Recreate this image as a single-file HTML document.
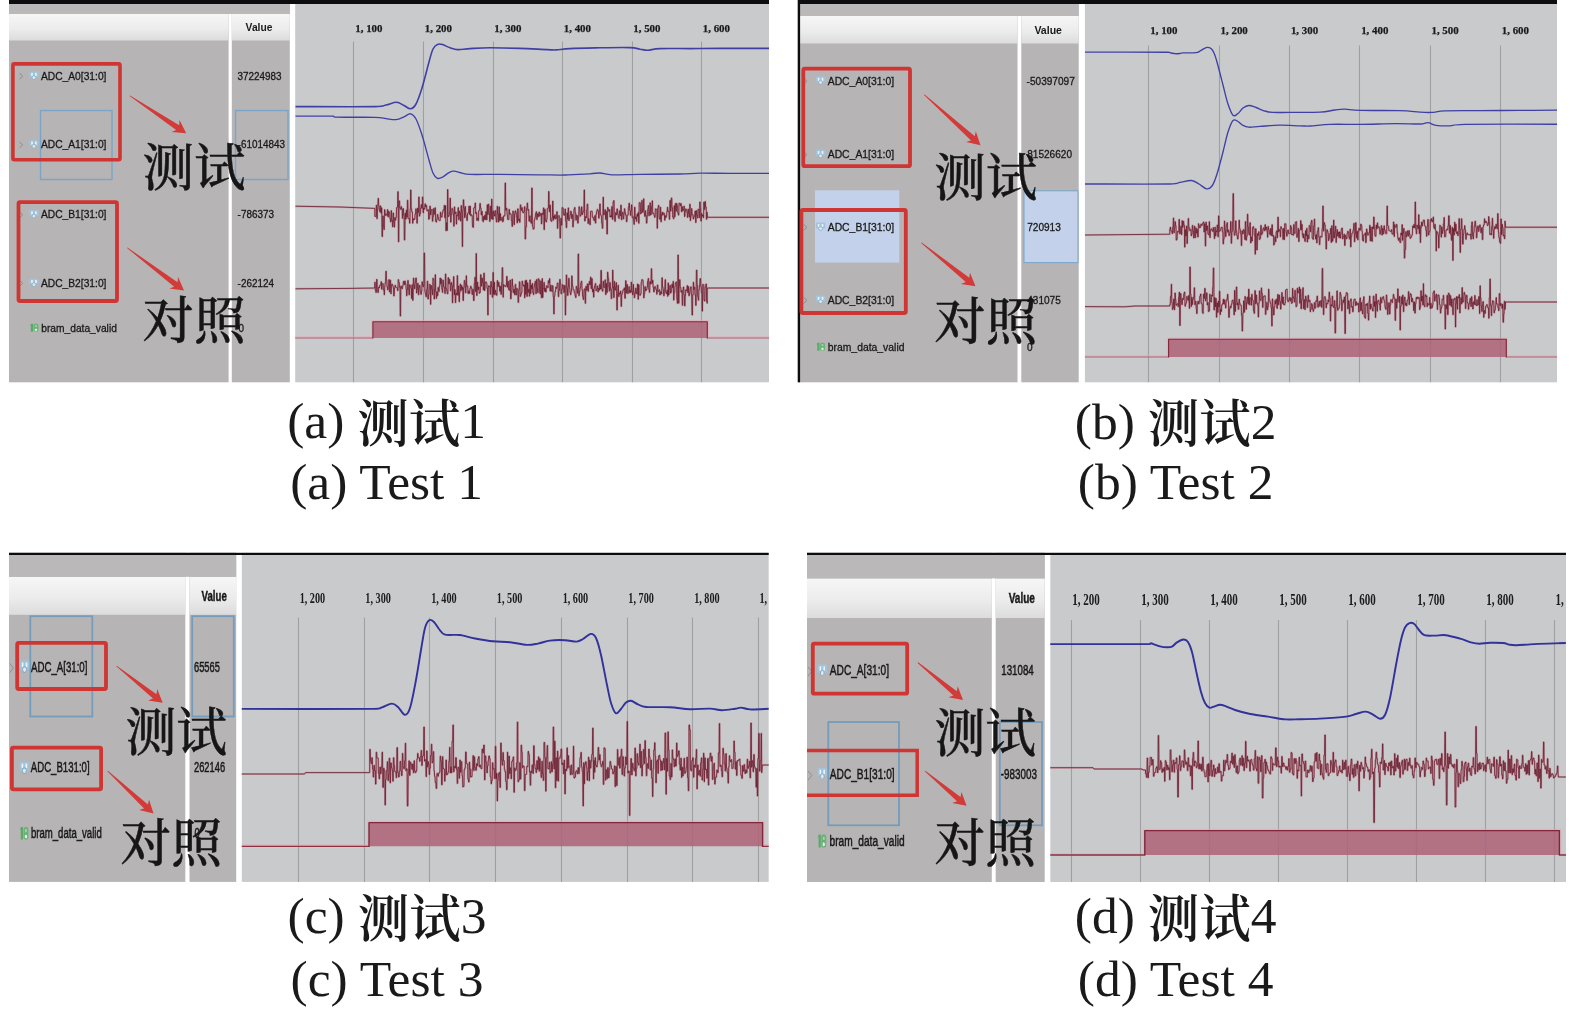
<!DOCTYPE html>
<html lang="zh"><head><meta charset="utf-8"><title>ADC waveform tests</title>
<style>html,body{margin:0;padding:0;background:#fff;}body{width:1575px;height:1013px;overflow:hidden;}svg{display:block;}</style>
</head><body>
<svg width="1575" height="1013" viewBox="0 0 1575 1013">
<defs><linearGradient id="hg" x1="0" y1="0" x2="0" y2="1"><stop offset="0" stop-color="#f6f6f6"/><stop offset="0.55" stop-color="#ececec"/><stop offset="1" stop-color="#dcdcdc"/></linearGradient><filter id="bl" x="-5%" y="-5%" width="110%" height="110%"><feGaussianBlur stdDeviation="0.45"/></filter><filter id="bl2" x="-5%" y="-5%" width="110%" height="110%"><feGaussianBlur stdDeviation="0.3"/></filter></defs>
<rect width="1575" height="1013" fill="#ffffff"/>
<rect x="9" y="0" width="219.6" height="382.3" fill="#b6b4b5"/>
<rect x="231.8" y="0" width="58" height="382.3" fill="#b6b4b5"/>
<rect x="295.2" y="0" width="473.8" height="382.3" fill="#c9cacc"/>
<rect x="9" y="14" width="219.6" height="26.5" fill="url(#hg)"/>
<rect x="231.8" y="14" width="58" height="26.5" fill="url(#hg)"/>
<rect x="9" y="0" width="280.8" height="14" fill="#bab8b9"/>
<rect x="9" y="0" width="760" height="4" fill="#0d0d0f"/>
<line x1="353.5" y1="41.5" x2="353.5" y2="382.3" stroke="#a0a0a3" stroke-width="1.1"/>
<line x1="423.5" y1="41.5" x2="423.5" y2="382.3" stroke="#a0a0a3" stroke-width="1.1"/>
<line x1="493.5" y1="41.5" x2="493.5" y2="382.3" stroke="#a0a0a3" stroke-width="1.1"/>
<line x1="562.5" y1="41.5" x2="562.5" y2="382.3" stroke="#a0a0a3" stroke-width="1.1"/>
<line x1="632.5" y1="41.5" x2="632.5" y2="382.3" stroke="#a0a0a3" stroke-width="1.1"/>
<line x1="701.5" y1="41.5" x2="701.5" y2="382.3" stroke="#a0a0a3" stroke-width="1.1"/>
<g filter="url(#bl)">
<text x="0" y="0" font-family='"Liberation Sans", sans-serif' font-size="10.7" font-weight="bold" fill="#1a1a1a" text-anchor="middle" transform="translate(259 30.8) scale(0.96 1)">Value</text>
<text x="368.9" y="31.6" font-family='"Liberation Serif", "Noto Serif CJK SC", serif' font-size="10.9" font-weight="bold" fill="#1a1a1a" text-anchor="middle" stroke="#1a1a1a" stroke-width="0.25">1, 100</text>
<text x="438.4" y="31.6" font-family='"Liberation Serif", "Noto Serif CJK SC", serif' font-size="10.9" font-weight="bold" fill="#1a1a1a" text-anchor="middle" stroke="#1a1a1a" stroke-width="0.25">1, 200</text>
<text x="507.9" y="31.6" font-family='"Liberation Serif", "Noto Serif CJK SC", serif' font-size="10.9" font-weight="bold" fill="#1a1a1a" text-anchor="middle" stroke="#1a1a1a" stroke-width="0.25">1, 300</text>
<text x="577.4" y="31.6" font-family='"Liberation Serif", "Noto Serif CJK SC", serif' font-size="10.9" font-weight="bold" fill="#1a1a1a" text-anchor="middle" stroke="#1a1a1a" stroke-width="0.25">1, 400</text>
<text x="646.9" y="31.6" font-family='"Liberation Serif", "Noto Serif CJK SC", serif' font-size="10.9" font-weight="bold" fill="#1a1a1a" text-anchor="middle" stroke="#1a1a1a" stroke-width="0.25">1, 500</text>
<text x="716.4" y="31.6" font-family='"Liberation Serif", "Noto Serif CJK SC", serif' font-size="10.9" font-weight="bold" fill="#1a1a1a" text-anchor="middle" stroke="#1a1a1a" stroke-width="0.25">1, 600</text>
<rect x="40.5" y="110.5" width="71.5" height="69" fill="none" stroke="#79a6c8" stroke-width="1.4"/>
<rect x="235.5" y="110.5" width="52.5" height="69" fill="none" stroke="#79a6c8" stroke-width="1.4"/>
<path d="M19.4 73.2l3.4 3l-3.4 3" fill="none" stroke="#8f8d8e" stroke-width="1"/>
<g transform="translate(29.2 75.6) scale(1.0 1.0)"><rect x="0" y="-4" width="9.5" height="5.8" rx="1" fill="#a2c4db"/><rect x="2" y="-2.7" width="1.6" height="3" fill="#edf3f7"/><rect x="5.9" y="-2.7" width="1.6" height="3" fill="#edf3f7"/><circle cx="4.75" cy="2" r="1.9" fill="#dde8f0" stroke="#7fa9c4" stroke-width="0.7"/></g>
<text x="0" y="0" font-family='"Liberation Sans", sans-serif' font-size="11.2" font-weight="normal" fill="#1a1a1a" text-anchor="start" transform="translate(41 79.6) scale(0.915 1)" stroke="#1a1a1a" stroke-width="0.3">ADC_A0[31:0]</text>
<text x="0" y="0" font-family='"Liberation Sans", sans-serif' font-size="11" font-weight="normal" fill="#1a1a1a" text-anchor="start" transform="translate(237.6 79.6) scale(0.9 1)" stroke="#1a1a1a" stroke-width="0.3">37224983</text>
<path d="M19.4 141.9l3.4 3l-3.4 3" fill="none" stroke="#8f8d8e" stroke-width="1"/>
<g transform="translate(29.2 144.3) scale(1.0 1.0)"><rect x="0" y="-4" width="9.5" height="5.8" rx="1" fill="#a2c4db"/><rect x="2" y="-2.7" width="1.6" height="3" fill="#edf3f7"/><rect x="5.9" y="-2.7" width="1.6" height="3" fill="#edf3f7"/><circle cx="4.75" cy="2" r="1.9" fill="#dde8f0" stroke="#7fa9c4" stroke-width="0.7"/></g>
<text x="0" y="0" font-family='"Liberation Sans", sans-serif' font-size="11.2" font-weight="normal" fill="#1a1a1a" text-anchor="start" transform="translate(41 148.3) scale(0.915 1)" stroke="#1a1a1a" stroke-width="0.3">ADC_A1[31:0]</text>
<text x="0" y="0" font-family='"Liberation Sans", sans-serif' font-size="11" font-weight="normal" fill="#1a1a1a" text-anchor="start" transform="translate(237.6 148.3) scale(0.9 1)" stroke="#1a1a1a" stroke-width="0.3">-61014843</text>
<path d="M19.4 211.7l3.4 3l-3.4 3" fill="none" stroke="#8f8d8e" stroke-width="1"/>
<g transform="translate(29.2 214.1) scale(1.0 1.0)"><rect x="0" y="-4" width="9.5" height="5.8" rx="1" fill="#a2c4db"/><rect x="2" y="-2.7" width="1.6" height="3" fill="#edf3f7"/><rect x="5.9" y="-2.7" width="1.6" height="3" fill="#edf3f7"/><circle cx="4.75" cy="2" r="1.9" fill="#dde8f0" stroke="#7fa9c4" stroke-width="0.7"/></g>
<text x="0" y="0" font-family='"Liberation Sans", sans-serif' font-size="11.2" font-weight="normal" fill="#1a1a1a" text-anchor="start" transform="translate(41 218.1) scale(0.915 1)" stroke="#1a1a1a" stroke-width="0.3">ADC_B1[31:0]</text>
<text x="0" y="0" font-family='"Liberation Sans", sans-serif' font-size="11" font-weight="normal" fill="#1a1a1a" text-anchor="start" transform="translate(237.6 218.1) scale(0.9 1)" stroke="#1a1a1a" stroke-width="0.3">-786373</text>
<path d="M19.4 280.3l3.4 3l-3.4 3" fill="none" stroke="#8f8d8e" stroke-width="1"/>
<g transform="translate(29.2 282.7) scale(1.0 1.0)"><rect x="0" y="-4" width="9.5" height="5.8" rx="1" fill="#a2c4db"/><rect x="2" y="-2.7" width="1.6" height="3" fill="#edf3f7"/><rect x="5.9" y="-2.7" width="1.6" height="3" fill="#edf3f7"/><circle cx="4.75" cy="2" r="1.9" fill="#dde8f0" stroke="#7fa9c4" stroke-width="0.7"/></g>
<text x="0" y="0" font-family='"Liberation Sans", sans-serif' font-size="11.2" font-weight="normal" fill="#1a1a1a" text-anchor="start" transform="translate(41 286.7) scale(0.915 1)" stroke="#1a1a1a" stroke-width="0.3">ADC_B2[31:0]</text>
<text x="0" y="0" font-family='"Liberation Sans", sans-serif' font-size="11" font-weight="normal" fill="#1a1a1a" text-anchor="start" transform="translate(237.6 286.7) scale(0.9 1)" stroke="#1a1a1a" stroke-width="0.3">-262124</text>
<g transform="translate(30 327.8) scale(1.0 1.0)"><path d="M0 -2.4L1 -4H3V4H0.8V-2.2Z" fill="#5aa969"/><rect x="3.5" y="-4" width="5" height="8" rx="1.7" fill="#6ab377"/><rect x="5.1" y="-2.7" width="1.8" height="2" rx="0.6" fill="#a5d3ad"/><circle cx="6" cy="2.1" r="1.55" fill="#e6f1e7" stroke="#5aa969" stroke-width="0.55"/></g>
<text x="0" y="0" font-family='"Liberation Sans", sans-serif' font-size="11.2" font-weight="normal" fill="#1a1a1a" text-anchor="start" transform="translate(41.2 332.1) scale(0.915 1)" stroke="#1a1a1a" stroke-width="0.3">bram_data_valid</text>
<text x="0" y="0" font-family='"Liberation Sans", sans-serif' font-size="11" font-weight="normal" fill="#1a1a1a" text-anchor="start" transform="translate(238.5 331.9) scale(0.9 1)" stroke="#1a1a1a" stroke-width="0.3">0</text>
</g>
<g fill="none" stroke-linejoin="round" filter="url(#bl2)">
<path d="M295.5 106.6C308.7 106.6 359.7 106.9 374.8 106.6C386 106.3 382.4 105.7 386 105C389.6 104.3 393.5 102.1 396.5 102.2C399.5 102.3 401.7 104.4 404 105.5C406.3 106.6 408.5 109 410.5 108.8C412.5 108.5 414.1 107.5 416 104C417.9 100.5 419.8 95 422 88C424.2 81 427.2 68.5 429 62C430.8 55.5 431.6 51.9 433 49C434.4 46.1 435.8 45.1 437.4 44.4C439 43.7 440.4 44 442.5 44.6C444.6 45.2 447.5 47 450 47.8C452.5 48.6 454.4 49.5 457.7 49.6C461 49.7 464.6 48.9 470 48.6C475.4 48.3 481.7 47.8 490 47.8C498.3 47.8 510.3 48.1 520 48.4C529.7 48.7 542 49.4 548 49.6C554 49.9 552.3 50.1 556 49.9C559.7 49.7 562.7 49 570 48.6C577.3 48.2 590 48 600 47.8C610 47.6 623.3 47.4 630 47.6C636.7 47.8 637 48.8 640 49.2C643 49.6 644.7 50.3 648 50.2C651.3 50.1 653 48.9 660 48.6C667 48.3 680 48.6 690 48.6C700 48.6 706.8 48.4 720 48.4C733.2 48.4 760.8 48.4 769 48.4" stroke="#4040a4" stroke-width="1.6"/>
<path d="M295.5 116.1C301.8 116.1 326.4 116 333 116.2C335 116.4 333 117 335 117.2C342 117.4 366.3 117.1 374.8 117.3C383.3 117.5 382.5 118.2 386 118.6C389.5 119 393 119.9 396 119.6C399 119.3 401.6 117.8 404 116.8C406.4 115.8 408.5 113.4 410.5 113.8C412.5 114.2 414.1 115.5 416 119C417.9 122.5 419.8 128.2 422 135C424.2 141.8 427.2 153.7 429 160C430.8 166.3 431.6 169.9 433 173C434.4 176.1 435.8 177.6 437.4 178.3C439 179 440.6 178.1 442.5 177.2C444.4 176.2 447.1 173.6 449 172.6C450.9 171.6 451.8 171.1 454 171.2C456.2 171.3 459.3 172.7 462 173.2C464.7 173.7 463.7 174.2 470 174.4C476.3 174.6 488.3 174.3 500 174.4C511.7 174.5 529.2 174.7 540 174.8C550.8 174.9 556.7 175.2 565 175C573.3 174.8 584.2 174.1 590 173.8C595.8 173.5 596.3 172.8 600 173C603.7 173.2 605.3 174.6 612 174.8C618.7 175 628.7 174.5 640 174.4C651.3 174.3 670 174.2 680 174C690 173.8 691.7 173.3 700 173.2C708.3 173.1 718.5 173.4 730 173.4C741.5 173.4 762.5 173.4 769 173.4" stroke="#4040a4" stroke-width="1.35"/>
<path d="M295.5 206.2L340 207L374.8 208.4L374.8 216.4H375.3L375.5 216.4H376.1L376.3 205.1H376.7L376.9 218.7H377.2L377.4 209.5H377.8L378.1 198.4H378.5L378.7 205.6H379.1L379.3 209.8H379.6L379.8 211.8H380.1L380.3 205.9H380.7L381 213.2H381.3L381.5 207.8H381.8L382 236.5H382.5L382.8 215.9H383.2L383.4 226H383.7L383.9 229.6H384.3L384.5 209.7H384.9L385.2 215.4H385.6L385.8 214.1H386.2L386.4 214.2H386.7L386.9 215.5H387.2L387.4 209.7H387.8L388 216.9H388.3L388.5 211.4H389L389.2 212.2H389.6L389.9 218.5H390.3L390.5 221.9H391L391.2 210.6H391.5L391.8 220.7H392.3L392.5 226.8H392.9L393.1 213H393.5L393.7 222H394L394.3 227.1H394.6L394.8 217.6H395.1L395.3 220.3H395.7L395.9 217.4H396.3L396.6 207.8H397L397.2 207H397.6L397.8 191.7H398.2L398.4 241.8H398.8L399 200.9H399.6L399.8 207.6H400.1L400.3 209.3H400.8L401.1 206.6H401.5L401.7 209.3H402.2L402.4 218.4H402.7L402.9 208.6H403.5L403.7 215.3H404.1L404.3 240H404.8L405.1 213.1H405.5L405.7 219.1H406.1L406.3 210.1H406.7L406.9 217.1H407.2L407.4 200.3H407.8L408.1 218.6H408.6L408.8 218.5H409.3L409.6 223.2H409.9L410.1 209.2H410.4L410.6 190H411L411.2 208.7H411.6L411.8 212H412.4L412.6 223.3H412.9L413.1 218.7H413.5L413.7 220H414L414.3 219.1H414.8L415 214.3H415.5L415.8 208.8H416.2L416.4 212.6H416.7L416.9 223.2H417.3L417.5 208.2H417.8L418 212.6H418.6L418.8 196.9H419.1L419.3 216.1H419.7L419.9 213.6H420.5L420.7 208.1H421L421.2 204.6H421.6L421.8 208.3H422.2L422.4 197H422.8L423.1 212.7H423.5L423.7 208H424L424.2 209.1H424.7L425 203.8H425.3L425.5 206.9H426L426.2 205.4H426.6L426.8 210.8H427.4L427.6 209.9H427.9L428.1 209.6H428.4L428.6 219.3H429L429.3 218.5H429.6L429.8 206.2H430.3L430.5 214.8H430.9L431.2 209.8H431.6L431.8 209.4H432.2L432.4 221.2H432.8L433 216.4H433.4L433.6 208.5H434L434.3 214.3H434.8L435 207.8H435.4L435.6 221.1H435.9L436.1 222.1H436.5L436.8 219H437.2L437.4 214.4H437.8L438 217.4H438.4L438.6 219.6H438.9L439.2 220.6H439.7L439.9 220.4H440.2L440.4 212.3H440.8L441 217.1H441.4L441.6 217H442.1L442.3 212.9H442.7L442.9 210.5H443.3L443.6 209.6H444L444.2 205.4H444.6L444.8 217.8H445.1L445.3 205.7H445.6L445.9 230.7H446.3L446.5 222.7H446.8L447 230.4H447.3L447.5 189.6H447.9L448.1 216.6H448.7L448.9 215.1H449.3L449.5 212H449.8L450 198.2H450.4L450.7 222.2H451L451.2 214.7H451.7L451.9 208.4H452.3L452.5 209.6H452.9L453.2 214.3H453.6L453.8 226.2H454.1L454.3 206.9H454.7L454.9 213.7H455.3L455.6 212.2H456.1L456.3 224.1H456.6L456.8 215.4H457.1L457.4 216H457.8L458 207.7H458.5L458.7 219.7H459.1L459.3 211H459.6L459.9 213.2H460.3L460.5 221H460.9L461.1 205.6H461.5L461.7 211.8H462L462.3 246.5H462.6L462.8 210.2H463.1L463.3 199.8H463.7L463.9 208.1H464.3L464.5 217.6H464.9L465.1 206.5H465.5L465.7 214.8H466.1L466.3 217.3H466.7L466.9 220.5H467.3L467.6 213.3H468L468.2 212.6H468.7L468.9 206.1H469.2L469.4 214.4H469.8L470 206.2H470.4L470.6 215.7H471L471.2 214.7H471.6L471.8 215.6H472.2L472.5 226.9H472.9L473.1 227.3H473.5L473.7 208H474.1L474.3 207.7H474.8L475.1 203H475.5L475.7 213.6H476L476.2 212.5H476.6L476.8 220.4H477.1L477.3 218H477.9L478.1 220.6H478.5L478.7 210.8H479.1L479.3 210.2H479.6L479.9 203.4H480.3L480.5 208H481L481.2 214.9H481.5L481.8 211.4H482.2L482.4 220.3H482.8L483 221.7H483.4L483.6 216.3H483.9L484.1 219.6H484.4L484.7 215.3H485L485.2 219.6H485.6L485.8 211.6H486.3L486.6 219.8H487L487.2 204.8H487.6L487.8 214.5H488.1L488.3 204.2H488.8L489.1 213.2H489.4L489.6 221.4H490.1L490.3 206.2H490.7L491 218.9H491.4L491.6 199.1H491.9L492.1 211.5H492.4L492.6 219.4H493.2L493.4 210.9H493.8L494 214.1H494.3L494.5 216H494.9L495.1 210.7H495.7L495.9 218.2H496.2L496.4 222H496.9L497.2 206.3H497.5L497.7 214H498.2L498.4 222.1H498.7L499 206.9H499.4L499.6 220.7H500L500.2 213.6H500.5L500.7 220.1H501.1L501.3 220.2H501.7L502 217.2H502.3L502.5 221.8H502.9L503.1 221.1H503.4L503.6 215.9H504.2L504.4 216H504.9L505.1 183H505.5L505.7 210.3H506.3L506.5 208.2H506.9L507.1 214.6H507.4L507.6 219.4H508.2L508.4 219.5H508.8L509 209.4H509.4L509.6 214.2H510L510.2 213.6H510.6L510.9 214.6H511.2L511.4 220.5H511.8L512 226.4H512.5L512.8 211.2H513.2L513.4 212H513.8L514 224.7H514.4L514.6 214.4H515L515.2 210.8H515.6L515.9 212.7H516.2L516.4 216.9H516.8L517 222.9H517.5L517.7 208.8H518.1L518.4 220.6H518.9L519.1 219H519.5L519.7 222.3H520L520.3 204.9H520.8L521 210.4H521.5L521.7 207.7H522.3L522.5 211.9H522.9L523.1 212.9H523.5L523.7 211.7H524.2L524.5 206.7H524.9L525.1 239H525.6L525.8 226.9H526.4L526.6 208.5H527L527.2 203H527.6L527.8 210.3H528.2L528.4 209.5H528.7L529 221.2H529.5L529.7 215.8H530.1L530.3 221.4H530.9L531.1 223.3H531.5L531.7 188H532.2L532.4 226H532.8L533.1 229.2H533.4L533.6 228.8H534.1L534.3 220H534.7L534.9 217.6H535.3L535.5 213.9H535.9L536.1 211.8H536.6L536.8 219.6H537.1L537.4 213.8H537.8L538 216.8H538.3L538.5 214.1H538.9L539.1 212H539.4L539.7 216.2H540L540.2 215.1H540.6L540.8 213.4H541.2L541.4 223.9H541.8L542 213.2H542.4L542.7 214.6H543.2L543.4 207.9H543.8L544 229.6H544.4L544.6 209.3H545.2L545.4 220.9H545.8L546 221.9H546.5L546.8 218.6H547.1L547.3 208.5H547.7L547.9 208.2H548.4L548.6 191.5H549L549.3 211.7H549.7L549.9 205.1H550.4L550.6 220.2H551L551.3 221.4H551.8L552 217.5H552.4L552.6 201.1H553L553.2 220.2H553.5L553.8 216H554.1L554.3 218.4H554.6L554.8 214.8H555.2L555.4 218.9H556L556.2 217.8H556.6L556.8 211.7H557.2L557.4 228.3H557.8L558 215.9H558.6L558.8 215.7H559.2L559.4 221.4H559.8L560 238H560.5L560.8 218.2H561.3L561.5 225.2H561.9L562.1 207.6H562.7L562.9 208.3H563.2L563.4 214.2H563.8L564 215.4H564.3L564.6 213.6H564.9L565.1 209H565.4L565.6 220.7H566L566.2 227.6H566.7L567 212.8H567.4L567.6 219.2H568L568.2 207.9H568.6L568.8 220.6H569.2L569.4 218.3H569.8L570 215.2H570.3L570.5 211.4H570.8L571 211.5H571.4L571.7 218.5H572L572.2 214.6H572.6L572.8 226.9H573.2L573.4 220.9H573.8L574 209H574.4L574.7 207.5H575L575.2 213.1H575.7L575.9 220.2H576.3L576.5 215.1H576.9L577.1 215.9H577.5L577.7 223.1H578.2L578.4 217.7H578.7L579 206.7H579.3L579.5 208.6H579.9L580.1 216.1H580.6L580.9 214.6H581.3L581.5 206.9H581.9L582.1 214.5H582.6L582.8 212.6H583.1L583.4 211.2H583.9L584.1 190H584.5L584.7 221H585.1L585.4 216.6H585.9L586.1 217.7H586.5L586.7 209.8H587L587.2 204.2H587.8L588 223.6H588.3L588.5 218.5H589L589.3 221.9H589.7L589.9 224.7H590.3L590.5 211.4H590.9L591.1 211.2H591.5L591.7 211.1H592.1L592.4 217.3H592.8L593 217.2H593.3L593.5 219.7H593.8L594 220.6H594.6L594.8 215.7H595.2L595.4 223.1H595.8L596 214.1H596.4L596.6 211.8H596.9L597.2 209.4H597.7L597.9 211H598.4L598.7 218.2H599.1L599.3 211.1H599.6L599.8 203.9H600.2L600.4 214.4H600.9L601.2 216.1H601.5L601.7 223H602.1L602.3 228.3H602.8L603.1 197.1H603.4L603.6 214.8H604.1L604.3 214.3H604.6L604.9 209.7H605.4L605.6 219.4H605.9L606.1 211.5H606.6L606.9 234H607.4L607.6 207.4H608L608.2 209.2H608.5L608.8 211.4H609.2L609.4 209.6H609.8L610 217H610.4L610.6 215.7H610.9L611.1 217.1H611.5L611.8 206.6H612.2L612.4 219.4H612.9L613.1 201.9H613.4L613.7 200.6H614.1L614.3 216.9H614.6L614.8 221.3H615.3L615.5 212.7H616.1L616.3 214.9H616.7L616.9 208.9H617.4L617.7 213.9H618.1L618.3 217.3H618.7L618.9 218.5H619.2L619.4 210.8H619.9L620.2 215.8H620.6L620.8 205.1H621.2L621.4 219.8H621.8L622 214.1H622.3L622.6 212.2H623L623.2 218.9H623.7L623.9 214.3H624.2L624.4 208.7H624.8L625.1 212.6H625.5L625.7 215.2H626.2L626.4 221.6H627L627.2 215.3H627.6L627.8 214.9H628.2L628.4 207.2H628.8L629 203.2H629.4L629.7 210.3H630.2L630.4 215.4H630.8L631 210.4H631.3L631.5 204.9H631.9L632.2 217.5H632.7L632.9 216.7H633.2L633.4 220.6H633.7L634 224.4H634.3L634.5 207.3H635L635.2 218.9H635.5L635.8 216.8H636.2L636.4 221.4H636.8L637 214.2H637.4L637.6 216.3H637.9L638.1 212.5H638.5L638.7 223.3H639L639.2 202.6H639.6L639.8 202.7H640.3L640.6 213.9H640.9L641.1 212.7H641.6L641.8 200.4H642.2L642.5 212.3H642.8L643 210H643.4L643.6 198.8H643.9L644.1 212.9H644.5L644.7 216.4H645.1L645.3 210.7H645.6L645.8 215.5H646.2L646.4 223.1H646.9L647.2 215.4H647.6L647.8 209.1H648.1L648.3 205.6H648.7L648.9 215.8H649.2L649.5 212H649.8L650 202.8H650.3L650.5 215.1H650.8L651 214.3H651.3L651.6 206.1H652L652.2 200.8H652.5L652.7 213.5H653.1L653.3 213.2H653.9L654.1 215.5H654.4L654.6 217.3H655.1L655.4 208.8H655.7L655.9 209.3H656.3L656.5 209.4H656.9L657.1 228.2H657.5L657.7 208.6H658.1L658.4 205.4H658.9L659.1 217.8H659.4L659.6 219.2H660.2L660.4 207.3H660.7L660.9 221.8H661.3L661.5 214.6H661.9L662.1 212.3H662.4L662.7 215.2H663.1L663.3 212.8H663.7L663.9 213.5H664.4L664.7 220.3H665L665.2 215.7H665.6L665.8 217.5H666.1L666.3 216.2H666.6L666.9 211.4H667.2L667.4 207.3H667.7L667.9 211.5H668.3L668.5 211.2H669L669.3 219.3H669.7L669.9 200.5H670.4L670.6 211.1H671L671.3 198H671.8L672 207.8H672.5L672.7 217.1H673.3L673.5 218.8H673.9L674.1 205.8H674.5L674.7 216.8H675L675.3 203.5H675.8L676 211.3H676.3L676.5 203.4H676.9L677.1 206.1H677.5L677.8 213H678.2L678.4 215.1H678.8L679 203.3H679.4L679.6 203.3H680L680.2 205.9H680.6L680.9 203.5H681.2L681.4 211.7H681.8L682 206.6H682.4L682.6 210.9H683L683.3 210H683.7L683.9 206.2H684.3L684.5 216.5H684.9L685.1 211.2H685.5L685.7 208.9H686.1L686.4 210.2H686.7L686.9 212.3H687.2L687.4 217.4H687.8L688 209.1H688.4L688.6 213.5H689L689.2 216.9H689.6L689.8 204.2H690.1L690.3 220.6H690.6L690.8 216.3H691.2L691.5 208.6H691.9L692.1 214.8H692.5L692.7 214.6H693L693.2 219H693.5L693.8 217.3H694.1L694.3 215.8H694.8L695 211H695.4L695.7 222.6H696L696.2 210.7H696.6L696.8 215.1H697.2L697.4 217.9H697.8L698 209.3H698.4L698.7 209.5H699L699.2 217.7H699.6L699.8 201.9H700.1L700.3 207.6H700.6L700.9 221.1H701.3L701.5 213.6H701.9L702.1 216.1H702.5L702.7 215H703L703.2 217.7H703.6L703.8 202.1H704.2L704.4 209.5H704.8L705 201.5H705.4L705.6 206.9H706.2L706.4 219.3H706.8L707 212.1 L707.3 217.3L769 217.3" stroke="#c27486" stroke-width="1.9" opacity="0.5"/>
<path d="M295.5 206.2L340 207L374.8 208.4L374.8 216.4H375.3L375.5 216.4H376.1L376.3 205.1H376.7L376.9 218.7H377.2L377.4 209.5H377.8L378.1 198.4H378.5L378.7 205.6H379.1L379.3 209.8H379.6L379.8 211.8H380.1L380.3 205.9H380.7L381 213.2H381.3L381.5 207.8H381.8L382 236.5H382.5L382.8 215.9H383.2L383.4 226H383.7L383.9 229.6H384.3L384.5 209.7H384.9L385.2 215.4H385.6L385.8 214.1H386.2L386.4 214.2H386.7L386.9 215.5H387.2L387.4 209.7H387.8L388 216.9H388.3L388.5 211.4H389L389.2 212.2H389.6L389.9 218.5H390.3L390.5 221.9H391L391.2 210.6H391.5L391.8 220.7H392.3L392.5 226.8H392.9L393.1 213H393.5L393.7 222H394L394.3 227.1H394.6L394.8 217.6H395.1L395.3 220.3H395.7L395.9 217.4H396.3L396.6 207.8H397L397.2 207H397.6L397.8 191.7H398.2L398.4 241.8H398.8L399 200.9H399.6L399.8 207.6H400.1L400.3 209.3H400.8L401.1 206.6H401.5L401.7 209.3H402.2L402.4 218.4H402.7L402.9 208.6H403.5L403.7 215.3H404.1L404.3 240H404.8L405.1 213.1H405.5L405.7 219.1H406.1L406.3 210.1H406.7L406.9 217.1H407.2L407.4 200.3H407.8L408.1 218.6H408.6L408.8 218.5H409.3L409.6 223.2H409.9L410.1 209.2H410.4L410.6 190H411L411.2 208.7H411.6L411.8 212H412.4L412.6 223.3H412.9L413.1 218.7H413.5L413.7 220H414L414.3 219.1H414.8L415 214.3H415.5L415.8 208.8H416.2L416.4 212.6H416.7L416.9 223.2H417.3L417.5 208.2H417.8L418 212.6H418.6L418.8 196.9H419.1L419.3 216.1H419.7L419.9 213.6H420.5L420.7 208.1H421L421.2 204.6H421.6L421.8 208.3H422.2L422.4 197H422.8L423.1 212.7H423.5L423.7 208H424L424.2 209.1H424.7L425 203.8H425.3L425.5 206.9H426L426.2 205.4H426.6L426.8 210.8H427.4L427.6 209.9H427.9L428.1 209.6H428.4L428.6 219.3H429L429.3 218.5H429.6L429.8 206.2H430.3L430.5 214.8H430.9L431.2 209.8H431.6L431.8 209.4H432.2L432.4 221.2H432.8L433 216.4H433.4L433.6 208.5H434L434.3 214.3H434.8L435 207.8H435.4L435.6 221.1H435.9L436.1 222.1H436.5L436.8 219H437.2L437.4 214.4H437.8L438 217.4H438.4L438.6 219.6H438.9L439.2 220.6H439.7L439.9 220.4H440.2L440.4 212.3H440.8L441 217.1H441.4L441.6 217H442.1L442.3 212.9H442.7L442.9 210.5H443.3L443.6 209.6H444L444.2 205.4H444.6L444.8 217.8H445.1L445.3 205.7H445.6L445.9 230.7H446.3L446.5 222.7H446.8L447 230.4H447.3L447.5 189.6H447.9L448.1 216.6H448.7L448.9 215.1H449.3L449.5 212H449.8L450 198.2H450.4L450.7 222.2H451L451.2 214.7H451.7L451.9 208.4H452.3L452.5 209.6H452.9L453.2 214.3H453.6L453.8 226.2H454.1L454.3 206.9H454.7L454.9 213.7H455.3L455.6 212.2H456.1L456.3 224.1H456.6L456.8 215.4H457.1L457.4 216H457.8L458 207.7H458.5L458.7 219.7H459.1L459.3 211H459.6L459.9 213.2H460.3L460.5 221H460.9L461.1 205.6H461.5L461.7 211.8H462L462.3 246.5H462.6L462.8 210.2H463.1L463.3 199.8H463.7L463.9 208.1H464.3L464.5 217.6H464.9L465.1 206.5H465.5L465.7 214.8H466.1L466.3 217.3H466.7L466.9 220.5H467.3L467.6 213.3H468L468.2 212.6H468.7L468.9 206.1H469.2L469.4 214.4H469.8L470 206.2H470.4L470.6 215.7H471L471.2 214.7H471.6L471.8 215.6H472.2L472.5 226.9H472.9L473.1 227.3H473.5L473.7 208H474.1L474.3 207.7H474.8L475.1 203H475.5L475.7 213.6H476L476.2 212.5H476.6L476.8 220.4H477.1L477.3 218H477.9L478.1 220.6H478.5L478.7 210.8H479.1L479.3 210.2H479.6L479.9 203.4H480.3L480.5 208H481L481.2 214.9H481.5L481.8 211.4H482.2L482.4 220.3H482.8L483 221.7H483.4L483.6 216.3H483.9L484.1 219.6H484.4L484.7 215.3H485L485.2 219.6H485.6L485.8 211.6H486.3L486.6 219.8H487L487.2 204.8H487.6L487.8 214.5H488.1L488.3 204.2H488.8L489.1 213.2H489.4L489.6 221.4H490.1L490.3 206.2H490.7L491 218.9H491.4L491.6 199.1H491.9L492.1 211.5H492.4L492.6 219.4H493.2L493.4 210.9H493.8L494 214.1H494.3L494.5 216H494.9L495.1 210.7H495.7L495.9 218.2H496.2L496.4 222H496.9L497.2 206.3H497.5L497.7 214H498.2L498.4 222.1H498.7L499 206.9H499.4L499.6 220.7H500L500.2 213.6H500.5L500.7 220.1H501.1L501.3 220.2H501.7L502 217.2H502.3L502.5 221.8H502.9L503.1 221.1H503.4L503.6 215.9H504.2L504.4 216H504.9L505.1 183H505.5L505.7 210.3H506.3L506.5 208.2H506.9L507.1 214.6H507.4L507.6 219.4H508.2L508.4 219.5H508.8L509 209.4H509.4L509.6 214.2H510L510.2 213.6H510.6L510.9 214.6H511.2L511.4 220.5H511.8L512 226.4H512.5L512.8 211.2H513.2L513.4 212H513.8L514 224.7H514.4L514.6 214.4H515L515.2 210.8H515.6L515.9 212.7H516.2L516.4 216.9H516.8L517 222.9H517.5L517.7 208.8H518.1L518.4 220.6H518.9L519.1 219H519.5L519.7 222.3H520L520.3 204.9H520.8L521 210.4H521.5L521.7 207.7H522.3L522.5 211.9H522.9L523.1 212.9H523.5L523.7 211.7H524.2L524.5 206.7H524.9L525.1 239H525.6L525.8 226.9H526.4L526.6 208.5H527L527.2 203H527.6L527.8 210.3H528.2L528.4 209.5H528.7L529 221.2H529.5L529.7 215.8H530.1L530.3 221.4H530.9L531.1 223.3H531.5L531.7 188H532.2L532.4 226H532.8L533.1 229.2H533.4L533.6 228.8H534.1L534.3 220H534.7L534.9 217.6H535.3L535.5 213.9H535.9L536.1 211.8H536.6L536.8 219.6H537.1L537.4 213.8H537.8L538 216.8H538.3L538.5 214.1H538.9L539.1 212H539.4L539.7 216.2H540L540.2 215.1H540.6L540.8 213.4H541.2L541.4 223.9H541.8L542 213.2H542.4L542.7 214.6H543.2L543.4 207.9H543.8L544 229.6H544.4L544.6 209.3H545.2L545.4 220.9H545.8L546 221.9H546.5L546.8 218.6H547.1L547.3 208.5H547.7L547.9 208.2H548.4L548.6 191.5H549L549.3 211.7H549.7L549.9 205.1H550.4L550.6 220.2H551L551.3 221.4H551.8L552 217.5H552.4L552.6 201.1H553L553.2 220.2H553.5L553.8 216H554.1L554.3 218.4H554.6L554.8 214.8H555.2L555.4 218.9H556L556.2 217.8H556.6L556.8 211.7H557.2L557.4 228.3H557.8L558 215.9H558.6L558.8 215.7H559.2L559.4 221.4H559.8L560 238H560.5L560.8 218.2H561.3L561.5 225.2H561.9L562.1 207.6H562.7L562.9 208.3H563.2L563.4 214.2H563.8L564 215.4H564.3L564.6 213.6H564.9L565.1 209H565.4L565.6 220.7H566L566.2 227.6H566.7L567 212.8H567.4L567.6 219.2H568L568.2 207.9H568.6L568.8 220.6H569.2L569.4 218.3H569.8L570 215.2H570.3L570.5 211.4H570.8L571 211.5H571.4L571.7 218.5H572L572.2 214.6H572.6L572.8 226.9H573.2L573.4 220.9H573.8L574 209H574.4L574.7 207.5H575L575.2 213.1H575.7L575.9 220.2H576.3L576.5 215.1H576.9L577.1 215.9H577.5L577.7 223.1H578.2L578.4 217.7H578.7L579 206.7H579.3L579.5 208.6H579.9L580.1 216.1H580.6L580.9 214.6H581.3L581.5 206.9H581.9L582.1 214.5H582.6L582.8 212.6H583.1L583.4 211.2H583.9L584.1 190H584.5L584.7 221H585.1L585.4 216.6H585.9L586.1 217.7H586.5L586.7 209.8H587L587.2 204.2H587.8L588 223.6H588.3L588.5 218.5H589L589.3 221.9H589.7L589.9 224.7H590.3L590.5 211.4H590.9L591.1 211.2H591.5L591.7 211.1H592.1L592.4 217.3H592.8L593 217.2H593.3L593.5 219.7H593.8L594 220.6H594.6L594.8 215.7H595.2L595.4 223.1H595.8L596 214.1H596.4L596.6 211.8H596.9L597.2 209.4H597.7L597.9 211H598.4L598.7 218.2H599.1L599.3 211.1H599.6L599.8 203.9H600.2L600.4 214.4H600.9L601.2 216.1H601.5L601.7 223H602.1L602.3 228.3H602.8L603.1 197.1H603.4L603.6 214.8H604.1L604.3 214.3H604.6L604.9 209.7H605.4L605.6 219.4H605.9L606.1 211.5H606.6L606.9 234H607.4L607.6 207.4H608L608.2 209.2H608.5L608.8 211.4H609.2L609.4 209.6H609.8L610 217H610.4L610.6 215.7H610.9L611.1 217.1H611.5L611.8 206.6H612.2L612.4 219.4H612.9L613.1 201.9H613.4L613.7 200.6H614.1L614.3 216.9H614.6L614.8 221.3H615.3L615.5 212.7H616.1L616.3 214.9H616.7L616.9 208.9H617.4L617.7 213.9H618.1L618.3 217.3H618.7L618.9 218.5H619.2L619.4 210.8H619.9L620.2 215.8H620.6L620.8 205.1H621.2L621.4 219.8H621.8L622 214.1H622.3L622.6 212.2H623L623.2 218.9H623.7L623.9 214.3H624.2L624.4 208.7H624.8L625.1 212.6H625.5L625.7 215.2H626.2L626.4 221.6H627L627.2 215.3H627.6L627.8 214.9H628.2L628.4 207.2H628.8L629 203.2H629.4L629.7 210.3H630.2L630.4 215.4H630.8L631 210.4H631.3L631.5 204.9H631.9L632.2 217.5H632.7L632.9 216.7H633.2L633.4 220.6H633.7L634 224.4H634.3L634.5 207.3H635L635.2 218.9H635.5L635.8 216.8H636.2L636.4 221.4H636.8L637 214.2H637.4L637.6 216.3H637.9L638.1 212.5H638.5L638.7 223.3H639L639.2 202.6H639.6L639.8 202.7H640.3L640.6 213.9H640.9L641.1 212.7H641.6L641.8 200.4H642.2L642.5 212.3H642.8L643 210H643.4L643.6 198.8H643.9L644.1 212.9H644.5L644.7 216.4H645.1L645.3 210.7H645.6L645.8 215.5H646.2L646.4 223.1H646.9L647.2 215.4H647.6L647.8 209.1H648.1L648.3 205.6H648.7L648.9 215.8H649.2L649.5 212H649.8L650 202.8H650.3L650.5 215.1H650.8L651 214.3H651.3L651.6 206.1H652L652.2 200.8H652.5L652.7 213.5H653.1L653.3 213.2H653.9L654.1 215.5H654.4L654.6 217.3H655.1L655.4 208.8H655.7L655.9 209.3H656.3L656.5 209.4H656.9L657.1 228.2H657.5L657.7 208.6H658.1L658.4 205.4H658.9L659.1 217.8H659.4L659.6 219.2H660.2L660.4 207.3H660.7L660.9 221.8H661.3L661.5 214.6H661.9L662.1 212.3H662.4L662.7 215.2H663.1L663.3 212.8H663.7L663.9 213.5H664.4L664.7 220.3H665L665.2 215.7H665.6L665.8 217.5H666.1L666.3 216.2H666.6L666.9 211.4H667.2L667.4 207.3H667.7L667.9 211.5H668.3L668.5 211.2H669L669.3 219.3H669.7L669.9 200.5H670.4L670.6 211.1H671L671.3 198H671.8L672 207.8H672.5L672.7 217.1H673.3L673.5 218.8H673.9L674.1 205.8H674.5L674.7 216.8H675L675.3 203.5H675.8L676 211.3H676.3L676.5 203.4H676.9L677.1 206.1H677.5L677.8 213H678.2L678.4 215.1H678.8L679 203.3H679.4L679.6 203.3H680L680.2 205.9H680.6L680.9 203.5H681.2L681.4 211.7H681.8L682 206.6H682.4L682.6 210.9H683L683.3 210H683.7L683.9 206.2H684.3L684.5 216.5H684.9L685.1 211.2H685.5L685.7 208.9H686.1L686.4 210.2H686.7L686.9 212.3H687.2L687.4 217.4H687.8L688 209.1H688.4L688.6 213.5H689L689.2 216.9H689.6L689.8 204.2H690.1L690.3 220.6H690.6L690.8 216.3H691.2L691.5 208.6H691.9L692.1 214.8H692.5L692.7 214.6H693L693.2 219H693.5L693.8 217.3H694.1L694.3 215.8H694.8L695 211H695.4L695.7 222.6H696L696.2 210.7H696.6L696.8 215.1H697.2L697.4 217.9H697.8L698 209.3H698.4L698.7 209.5H699L699.2 217.7H699.6L699.8 201.9H700.1L700.3 207.6H700.6L700.9 221.1H701.3L701.5 213.6H701.9L702.1 216.1H702.5L702.7 215H703L703.2 217.7H703.6L703.8 202.1H704.2L704.4 209.5H704.8L705 201.5H705.4L705.6 206.9H706.2L706.4 219.3H706.8L707 212.1 L707.3 217.3L769 217.3" stroke="#611425" stroke-width="0.75"/>
<path d="M295.5 288.8L350 288.4L374.8 288L374.8 282.2H375.1L375.3 290H375.7L375.9 292.5H376.3L376.6 279.4H377.1L377.3 291.1H377.7L377.9 292.5H378.3L378.6 287.2H379L379.2 287.8H379.5L379.7 285.3H380.2L380.4 285.3H380.8L381.1 281.6H381.4L381.6 289.2H382L382.2 283.5H382.6L382.8 283.6H383.2L383.4 289.9H384L384.2 294.7H384.5L384.7 286.3H385L385.2 282.6H385.6L385.9 271.2H386.2L386.4 280.2H386.8L387 287H387.3L387.5 289.8H388.1L388.3 285.9H388.7L388.9 279.6H389.2L389.4 291.9H389.8L390.1 280.2H390.6L390.8 293.7H391.2L391.4 284.6H391.7L391.9 284.1H392.3L392.6 285.6H393L393.2 287.3H393.5L393.7 295.9H394.2L394.5 288.2H394.8L395 285.3H395.4L395.6 287.1H396.1L396.3 287.4H396.7L397 287.6H397.3L397.5 290.6H398L398.2 279.6H398.6L398.9 282.5H399.3L399.5 287.3H400L400.2 316H400.6L400.8 286H401.2L401.5 288.3H402L402.2 288.7H402.5L402.7 285.6H403.1L403.4 281.4H403.9L404.1 284.7H404.5L404.7 281H405.2L405.5 284.1H405.9L406.1 288.9H406.4L406.6 295.7H407L407.2 289.5H407.5L407.8 280.5H408.2L408.4 289.6H408.8L409 294.9H409.4L409.6 284.8H410L410.2 286H410.6L410.9 288.4H411.3L411.5 298.4H411.8L412 284.7H412.4L412.6 300.3H413.1L413.4 278.1H413.8L414 285.3H414.4L414.6 288.8H414.9L415.1 282.6H415.5L415.8 278H416.3L416.5 293H416.8L417 289.4H417.4L417.6 283.4H418.2L418.4 294.7H418.8L419 287.4H419.4L419.6 285.4H420L420.2 291.2H420.6L420.9 294.3H421.3L421.5 291.1H421.8L422 281.8H422.3L422.5 284.7H422.8L423.1 286.8H423.4L423.6 284.6H423.9L424.1 253H424.6L424.9 291.6H425.2L425.4 293.9H425.7L425.9 296.7H426.4L426.7 289.5H427.1L427.3 281.2H427.7L427.9 299H428.3L428.5 294.8H429L429.3 284.4H429.7L429.9 284.6H430.3L430.5 304.3H430.8L431 285.6H431.6L431.8 289.4H432.2L432.4 294.7H432.7L432.9 278.3H433.3L433.5 279.5H433.9L434.1 299H434.5L434.7 289.2H435L435.2 274.7H435.5L435.7 291.7H436.1L436.3 298.4H436.6L436.8 291.9H437.2L437.4 295.7H437.8L438 287.5H438.4L438.7 291.5H439.2L439.4 286.1H439.8L440 278H440.4L440.6 283.9H441L441.2 279H441.6L441.8 289H442.2L442.4 292.4H442.7L442.9 280.2H443.3L443.6 286.5H444L444.2 287.7H444.7L444.9 293.5H445.2L445.4 274H445.8L446 288.6H446.5L446.7 290.4H447.1L447.3 293.8H447.9L448.1 277.7H448.6L448.8 284H449.1L449.4 279.3H449.7L449.9 283.3H450.2L450.4 290.7H450.9L451.2 282.5H451.6L451.8 284.9H452.2L452.4 302.8H452.7L452.9 286.6H453.3L453.5 276.6H453.9L454.2 294.7H454.5L454.7 289.6H455.1L455.3 302.6H455.7L455.9 293.2H456.5L456.7 294.8H457L457.2 275.6H457.6L457.8 295.3H458.2L458.4 286H458.8L459.1 301.7H459.4L459.6 292.4H460L460.2 284.1H460.6L460.8 290.8H461.1L461.4 285.4H461.8L462 289.5H462.3L462.5 287.2H462.8L463 300.5H463.4L463.6 288.2H464L464.3 280.5H464.7L464.9 283.2H465.2L465.4 292.9H465.9L466.2 275.8H466.5L466.7 286.2H467L467.2 285.9H467.7L468 293.5H468.4L468.6 290.9H469.1L469.3 293.4H469.7L469.9 288.5H470.3L470.6 286.3H471.1L471.3 288.2H471.8L472 294.4H472.6L472.8 289.4H473.3L473.5 300.5H474.1L474.3 283.6H474.7L474.9 277.3H475.3L475.5 291.6H475.9L476.1 253.5H476.4L476.7 295.5H477.1L477.3 282.1H477.7L477.9 289.6H478.4L478.7 286.9H479L479.2 293.3H479.7L479.9 292.3H480.3L480.5 274.8H481.1L481.3 286.1H481.7L481.9 278.1H482.4L482.6 282.7H483L483.3 290H483.6L483.8 273.2H484.3L484.5 290.6H484.9L485.2 282.1H485.6L485.8 281.9H486.2L486.4 283.2H486.8L487 288.4H487.5L487.8 315H488.1L488.3 285.8H488.7L488.9 286.6H489.3L489.5 286H489.9L490.2 294.4H490.6L490.8 281.6H491.3L491.5 286.8H492L492.3 297.3H492.8L493 272.4H493.3L493.5 294.4H493.8L494.1 282.2H494.5L494.7 294.7H495.1L495.3 290.2H495.6L495.8 293.1H496.2L496.4 295.2H497L497.2 280.6H497.6L497.8 286.6H498.3L498.6 282.2H498.9L499.1 286H499.5L499.7 291.2H500.1L500.3 286.3H500.6L500.8 294.3H501.4L501.6 282.8H502L502.2 267.7H502.7L503 297.2H503.3L503.5 284.6H503.9L504.1 286.1H504.4L504.6 285.7H505.2L505.4 286.7H505.8L506 285.4H506.4L506.6 276.4H507.1L507.4 287.2H507.7L507.9 281.4H508.3L508.5 289.4H509L509.2 290.3H509.6L509.9 280.1H510.4L510.6 298.8H511.1L511.4 290.7H511.8L512 279.2H512.4L512.6 286H513L513.2 292.7H513.6L513.8 289.4H514.4L514.6 294.7H515L515.2 284.4H515.7L515.9 294.9H516.5L516.7 288.4H517.2L517.4 289.1H517.8L518.1 302.4H518.6L518.8 289.8H519.2L519.4 281.8H519.9L520.2 296.4H520.6L520.8 294.4H521.3L521.5 292.5H521.9L522.1 281.1H522.5L522.8 284.7H523.3L523.5 286.2H523.8L524 285H524.3L524.6 297.8H524.9L525.1 280.7H525.5L525.7 294.3H526L526.2 280.3H526.6L526.9 296.4H527.3L527.5 282.8H527.8L528 292.3H528.5L528.7 289H529.1L529.3 296.2H529.7L529.9 279.9H530.3L530.5 293.6H530.9L531.1 285H531.4L531.7 288.8H532.1L532.3 283.4H532.6L532.8 292.6H533.2L533.4 294.6H533.8L534 286.8H534.4L534.6 283.9H535L535.2 281.2H535.6L535.8 293.6H536.3L536.6 279.5H537L537.2 288.5H537.5L537.7 292.7H538.1L538.3 278.7H538.7L538.9 280H539.3L539.6 292.3H539.9L540.1 294H540.5L540.7 280.9H541.1L541.3 297.7H541.9L542.1 278.6H542.4L542.6 297.5H542.9L543.1 288.5H543.7L543.9 282.4H544.3L544.5 291.3H544.9L545.1 288.1H545.4L545.6 292H546.2L546.4 285.8H546.9L547.1 286.4H547.5L547.7 287.8H548.1L548.3 280.7H548.7L548.9 283H549.3L549.5 278.6H549.8L550 291.1H550.4L550.7 285.2H551.1L551.3 290.3H551.7L551.9 291.6H552.2L552.4 285.7H553L553.2 296.6H553.6L553.8 314H554.1L554.3 295.9H554.8L555.1 291.4H555.6L555.8 287H556.2L556.4 288.4H557L557.2 283.1H557.5L557.7 283.1H558.1L558.3 296.6H558.7L558.9 290.4H559.5L559.7 279.4H560.2L560.4 284.2H560.8L561 293.8H561.6L561.8 289.3H562.3L562.5 284.7H562.8L563.1 285.4H563.6L563.8 292.6H564.3L564.6 285.5H565.1L565.3 315H565.6L565.8 296.4H566.1L566.3 275H566.7L567 288.3H567.4L567.6 295.4H568L568.2 286.5H568.5L568.7 278.3H569.1L569.4 288.3H569.8L570 292.4H570.3L570.5 294.7H570.9L571.1 291.6H571.5L571.7 275.9H572.1L572.4 286.4H572.9L573.1 289.7H573.5L573.7 289.9H574.1L574.3 292.7H574.9L575.1 296H575.5L575.7 297.6H576L576.2 286.4H576.6L576.9 288.8H577.3L577.5 293.2H577.9L578.1 254H578.6L578.8 295.7H579.2L579.5 291.4H579.9L580.1 287.7H580.6L580.8 283.1H581.1L581.4 281.2H581.8L582 289.7H582.4L582.6 296.1H583L583.2 299.5H583.7L584 289.8H584.3L584.5 288.8H585L585.2 303.3H585.6L585.8 286.4H586.4L586.6 290.4H587.1L587.3 283.9H587.7L588 291.3H588.5L588.7 284.1H589.1L589.3 281.4H589.6L589.8 284.8H590.2L590.5 277.1H590.9L591.1 288.7H591.5L591.7 278.6H592.2L592.5 291.9H592.8L593 289.3H593.3L593.5 297.1H593.9L594.1 287.8H594.5L594.7 285.7H595.1L595.3 283.5H595.7L595.9 290.7H596.4L596.6 289.3H597L597.3 286H597.7L597.9 292H598.3L598.5 288.3H598.9L599.1 290.2H599.5L599.7 284.4H600.1L600.4 289.1H600.7L600.9 270.4H601.4L601.6 289.2H602.2L602.4 291.2H602.9L603.1 281.3H603.5L603.7 287.3H604L604.3 287.6H604.8L605 279.8H605.3L605.5 294.5H606.1L606.3 283.5H606.6L606.8 292.5H607.3L607.5 272.2H607.9L608.2 278.3H608.6L608.8 287.1H609.1L609.3 291.1H609.6L609.8 282.5H610.2L610.5 289.3H611L611.2 298.6H611.7L612 287.8H612.4L612.6 270.1H612.9L613.1 286.8H613.5L613.7 297.5H614.1L614.3 281.4H614.6L614.9 290.2H615.4L615.6 287.4H615.9L616.1 282.7H616.5L616.8 310H617.3L617.5 293.9H617.8L618 285.3H618.4L618.6 296.5H619L619.3 292.9H619.8L620 293.9H620.3L620.5 291H620.8L621.1 306.4H621.5L621.7 294.4H622.2L622.4 292.6H622.7L623 289.8H623.4L623.6 290.1H624L624.2 287.9H624.6L624.8 298.3H625.3L625.6 280.7H626.1L626.3 293.1H626.7L626.9 284.5H627.4L627.7 293.5H628.1L628.3 293.2H628.7L628.9 286.6H629.2L629.4 292.5H629.7L630 290.3H630.4L630.6 292.6H631L631.2 282.1H631.6L631.8 291.4H632.3L632.6 294.7H633L633.2 284.4H633.5L633.7 291.7H634.1L634.3 297.7H634.7L635 293.2H635.4L635.6 288.2H636.1L636.3 292.1H636.6L636.8 294H637.2L637.4 284H637.8L638 299.2H638.4L638.6 284.8H639L639.2 295H639.6L639.9 295.3H640.3L640.5 294H641L641.2 282.4H641.6L641.8 279.6H642.2L642.5 279.9H643L643.2 285.5H643.5L643.7 297.9H644L644.3 293.6H644.7L644.9 286.7H645.4L645.6 290.9H646L646.2 289.6H646.8L647 287H647.4L647.6 281.4H648L648.2 278.5H648.6L648.8 289.2H649.1L649.4 292.4H649.7L649.9 281.6H650.4L650.6 284.1H651L651.3 268.7H651.7L651.9 283.3H652.4L652.6 280.2H652.9L653.1 287.5H653.5L653.8 292H654.1L654.3 288.3H654.6L654.8 286.5H655.2L655.4 288.2H655.8L656.1 290.1H656.5L656.7 294.2H657.1L657.3 285H657.8L658 291.6H658.4L658.7 291.2H659.1L659.3 289.7H659.6L659.8 294.9H660.3L660.6 291.7H661.1L661.3 293.9H661.7L661.9 277.8H662.3L662.5 287H662.9L663.2 290.2H663.5L663.7 295.7H664.2L664.4 289.4H664.8L665.1 279.7H665.5L665.7 292.5H666.2L666.4 293.8H666.8L667 290.1H667.3L667.6 296.3H667.9L668.1 282.9H668.4L668.6 294.9H669L669.2 288.9H669.6L669.9 285.3H670.3L670.5 293.1H670.9L671.1 291.6H671.6L671.8 284.4H672.4L672.6 287.8H672.9L673.1 281.4H673.4L673.6 300.1H673.9L674.2 292.5H674.7L674.9 286.5H675.2L675.4 283H676L676.2 281.9H676.6L676.8 298.9H677.1L677.3 303.3H677.7L677.9 255H678.3L678.6 303.2H678.9L679.1 285.9H679.4L679.6 279.7H680L680.2 287.6H680.8L681 292.1H681.5L681.7 290.6H682L682.3 305.3H682.7L682.9 290H683.2L683.4 287H683.8L684 294.9H684.4L684.6 305.9H685L685.2 295.7H685.5L685.7 289.9H686.1L686.3 290.9H686.8L687.1 285.6H687.5L687.7 292.6H688.1L688.3 286.6H688.6L688.8 295.7H689.4L689.6 292.5H690L690.2 288.4H690.6L690.8 286.8H691.1L691.3 294H691.7L692 315H692.5L692.7 294.9H693.1L693.3 282.3H693.6L693.9 289.5H694.2L694.4 287.2H694.8L695 295.1H695.5L695.7 305.4H696.1L696.4 270.1H696.9L697.1 285.3H697.5L697.7 296.3H698L698.3 300.2H698.7L698.9 289.6H699.3L699.5 285.2H699.8L700 278.6H700.5L700.8 286.7H701.2L701.4 292.5H701.9L702.1 311.1H702.5L702.7 284.4H703.1L703.4 284.7H703.8L704 300.3H704.4L704.6 301.1H704.9L705.1 287.3H705.7L705.9 284H706.4L706.6 300.9H707L707.2 303.3 L707.3 288L769 288" stroke="#c27486" stroke-width="1.9" opacity="0.5"/>
<path d="M295.5 288.8L350 288.4L374.8 288L374.8 282.2H375.1L375.3 290H375.7L375.9 292.5H376.3L376.6 279.4H377.1L377.3 291.1H377.7L377.9 292.5H378.3L378.6 287.2H379L379.2 287.8H379.5L379.7 285.3H380.2L380.4 285.3H380.8L381.1 281.6H381.4L381.6 289.2H382L382.2 283.5H382.6L382.8 283.6H383.2L383.4 289.9H384L384.2 294.7H384.5L384.7 286.3H385L385.2 282.6H385.6L385.9 271.2H386.2L386.4 280.2H386.8L387 287H387.3L387.5 289.8H388.1L388.3 285.9H388.7L388.9 279.6H389.2L389.4 291.9H389.8L390.1 280.2H390.6L390.8 293.7H391.2L391.4 284.6H391.7L391.9 284.1H392.3L392.6 285.6H393L393.2 287.3H393.5L393.7 295.9H394.2L394.5 288.2H394.8L395 285.3H395.4L395.6 287.1H396.1L396.3 287.4H396.7L397 287.6H397.3L397.5 290.6H398L398.2 279.6H398.6L398.9 282.5H399.3L399.5 287.3H400L400.2 316H400.6L400.8 286H401.2L401.5 288.3H402L402.2 288.7H402.5L402.7 285.6H403.1L403.4 281.4H403.9L404.1 284.7H404.5L404.7 281H405.2L405.5 284.1H405.9L406.1 288.9H406.4L406.6 295.7H407L407.2 289.5H407.5L407.8 280.5H408.2L408.4 289.6H408.8L409 294.9H409.4L409.6 284.8H410L410.2 286H410.6L410.9 288.4H411.3L411.5 298.4H411.8L412 284.7H412.4L412.6 300.3H413.1L413.4 278.1H413.8L414 285.3H414.4L414.6 288.8H414.9L415.1 282.6H415.5L415.8 278H416.3L416.5 293H416.8L417 289.4H417.4L417.6 283.4H418.2L418.4 294.7H418.8L419 287.4H419.4L419.6 285.4H420L420.2 291.2H420.6L420.9 294.3H421.3L421.5 291.1H421.8L422 281.8H422.3L422.5 284.7H422.8L423.1 286.8H423.4L423.6 284.6H423.9L424.1 253H424.6L424.9 291.6H425.2L425.4 293.9H425.7L425.9 296.7H426.4L426.7 289.5H427.1L427.3 281.2H427.7L427.9 299H428.3L428.5 294.8H429L429.3 284.4H429.7L429.9 284.6H430.3L430.5 304.3H430.8L431 285.6H431.6L431.8 289.4H432.2L432.4 294.7H432.7L432.9 278.3H433.3L433.5 279.5H433.9L434.1 299H434.5L434.7 289.2H435L435.2 274.7H435.5L435.7 291.7H436.1L436.3 298.4H436.6L436.8 291.9H437.2L437.4 295.7H437.8L438 287.5H438.4L438.7 291.5H439.2L439.4 286.1H439.8L440 278H440.4L440.6 283.9H441L441.2 279H441.6L441.8 289H442.2L442.4 292.4H442.7L442.9 280.2H443.3L443.6 286.5H444L444.2 287.7H444.7L444.9 293.5H445.2L445.4 274H445.8L446 288.6H446.5L446.7 290.4H447.1L447.3 293.8H447.9L448.1 277.7H448.6L448.8 284H449.1L449.4 279.3H449.7L449.9 283.3H450.2L450.4 290.7H450.9L451.2 282.5H451.6L451.8 284.9H452.2L452.4 302.8H452.7L452.9 286.6H453.3L453.5 276.6H453.9L454.2 294.7H454.5L454.7 289.6H455.1L455.3 302.6H455.7L455.9 293.2H456.5L456.7 294.8H457L457.2 275.6H457.6L457.8 295.3H458.2L458.4 286H458.8L459.1 301.7H459.4L459.6 292.4H460L460.2 284.1H460.6L460.8 290.8H461.1L461.4 285.4H461.8L462 289.5H462.3L462.5 287.2H462.8L463 300.5H463.4L463.6 288.2H464L464.3 280.5H464.7L464.9 283.2H465.2L465.4 292.9H465.9L466.2 275.8H466.5L466.7 286.2H467L467.2 285.9H467.7L468 293.5H468.4L468.6 290.9H469.1L469.3 293.4H469.7L469.9 288.5H470.3L470.6 286.3H471.1L471.3 288.2H471.8L472 294.4H472.6L472.8 289.4H473.3L473.5 300.5H474.1L474.3 283.6H474.7L474.9 277.3H475.3L475.5 291.6H475.9L476.1 253.5H476.4L476.7 295.5H477.1L477.3 282.1H477.7L477.9 289.6H478.4L478.7 286.9H479L479.2 293.3H479.7L479.9 292.3H480.3L480.5 274.8H481.1L481.3 286.1H481.7L481.9 278.1H482.4L482.6 282.7H483L483.3 290H483.6L483.8 273.2H484.3L484.5 290.6H484.9L485.2 282.1H485.6L485.8 281.9H486.2L486.4 283.2H486.8L487 288.4H487.5L487.8 315H488.1L488.3 285.8H488.7L488.9 286.6H489.3L489.5 286H489.9L490.2 294.4H490.6L490.8 281.6H491.3L491.5 286.8H492L492.3 297.3H492.8L493 272.4H493.3L493.5 294.4H493.8L494.1 282.2H494.5L494.7 294.7H495.1L495.3 290.2H495.6L495.8 293.1H496.2L496.4 295.2H497L497.2 280.6H497.6L497.8 286.6H498.3L498.6 282.2H498.9L499.1 286H499.5L499.7 291.2H500.1L500.3 286.3H500.6L500.8 294.3H501.4L501.6 282.8H502L502.2 267.7H502.7L503 297.2H503.3L503.5 284.6H503.9L504.1 286.1H504.4L504.6 285.7H505.2L505.4 286.7H505.8L506 285.4H506.4L506.6 276.4H507.1L507.4 287.2H507.7L507.9 281.4H508.3L508.5 289.4H509L509.2 290.3H509.6L509.9 280.1H510.4L510.6 298.8H511.1L511.4 290.7H511.8L512 279.2H512.4L512.6 286H513L513.2 292.7H513.6L513.8 289.4H514.4L514.6 294.7H515L515.2 284.4H515.7L515.9 294.9H516.5L516.7 288.4H517.2L517.4 289.1H517.8L518.1 302.4H518.6L518.8 289.8H519.2L519.4 281.8H519.9L520.2 296.4H520.6L520.8 294.4H521.3L521.5 292.5H521.9L522.1 281.1H522.5L522.8 284.7H523.3L523.5 286.2H523.8L524 285H524.3L524.6 297.8H524.9L525.1 280.7H525.5L525.7 294.3H526L526.2 280.3H526.6L526.9 296.4H527.3L527.5 282.8H527.8L528 292.3H528.5L528.7 289H529.1L529.3 296.2H529.7L529.9 279.9H530.3L530.5 293.6H530.9L531.1 285H531.4L531.7 288.8H532.1L532.3 283.4H532.6L532.8 292.6H533.2L533.4 294.6H533.8L534 286.8H534.4L534.6 283.9H535L535.2 281.2H535.6L535.8 293.6H536.3L536.6 279.5H537L537.2 288.5H537.5L537.7 292.7H538.1L538.3 278.7H538.7L538.9 280H539.3L539.6 292.3H539.9L540.1 294H540.5L540.7 280.9H541.1L541.3 297.7H541.9L542.1 278.6H542.4L542.6 297.5H542.9L543.1 288.5H543.7L543.9 282.4H544.3L544.5 291.3H544.9L545.1 288.1H545.4L545.6 292H546.2L546.4 285.8H546.9L547.1 286.4H547.5L547.7 287.8H548.1L548.3 280.7H548.7L548.9 283H549.3L549.5 278.6H549.8L550 291.1H550.4L550.7 285.2H551.1L551.3 290.3H551.7L551.9 291.6H552.2L552.4 285.7H553L553.2 296.6H553.6L553.8 314H554.1L554.3 295.9H554.8L555.1 291.4H555.6L555.8 287H556.2L556.4 288.4H557L557.2 283.1H557.5L557.7 283.1H558.1L558.3 296.6H558.7L558.9 290.4H559.5L559.7 279.4H560.2L560.4 284.2H560.8L561 293.8H561.6L561.8 289.3H562.3L562.5 284.7H562.8L563.1 285.4H563.6L563.8 292.6H564.3L564.6 285.5H565.1L565.3 315H565.6L565.8 296.4H566.1L566.3 275H566.7L567 288.3H567.4L567.6 295.4H568L568.2 286.5H568.5L568.7 278.3H569.1L569.4 288.3H569.8L570 292.4H570.3L570.5 294.7H570.9L571.1 291.6H571.5L571.7 275.9H572.1L572.4 286.4H572.9L573.1 289.7H573.5L573.7 289.9H574.1L574.3 292.7H574.9L575.1 296H575.5L575.7 297.6H576L576.2 286.4H576.6L576.9 288.8H577.3L577.5 293.2H577.9L578.1 254H578.6L578.8 295.7H579.2L579.5 291.4H579.9L580.1 287.7H580.6L580.8 283.1H581.1L581.4 281.2H581.8L582 289.7H582.4L582.6 296.1H583L583.2 299.5H583.7L584 289.8H584.3L584.5 288.8H585L585.2 303.3H585.6L585.8 286.4H586.4L586.6 290.4H587.1L587.3 283.9H587.7L588 291.3H588.5L588.7 284.1H589.1L589.3 281.4H589.6L589.8 284.8H590.2L590.5 277.1H590.9L591.1 288.7H591.5L591.7 278.6H592.2L592.5 291.9H592.8L593 289.3H593.3L593.5 297.1H593.9L594.1 287.8H594.5L594.7 285.7H595.1L595.3 283.5H595.7L595.9 290.7H596.4L596.6 289.3H597L597.3 286H597.7L597.9 292H598.3L598.5 288.3H598.9L599.1 290.2H599.5L599.7 284.4H600.1L600.4 289.1H600.7L600.9 270.4H601.4L601.6 289.2H602.2L602.4 291.2H602.9L603.1 281.3H603.5L603.7 287.3H604L604.3 287.6H604.8L605 279.8H605.3L605.5 294.5H606.1L606.3 283.5H606.6L606.8 292.5H607.3L607.5 272.2H607.9L608.2 278.3H608.6L608.8 287.1H609.1L609.3 291.1H609.6L609.8 282.5H610.2L610.5 289.3H611L611.2 298.6H611.7L612 287.8H612.4L612.6 270.1H612.9L613.1 286.8H613.5L613.7 297.5H614.1L614.3 281.4H614.6L614.9 290.2H615.4L615.6 287.4H615.9L616.1 282.7H616.5L616.8 310H617.3L617.5 293.9H617.8L618 285.3H618.4L618.6 296.5H619L619.3 292.9H619.8L620 293.9H620.3L620.5 291H620.8L621.1 306.4H621.5L621.7 294.4H622.2L622.4 292.6H622.7L623 289.8H623.4L623.6 290.1H624L624.2 287.9H624.6L624.8 298.3H625.3L625.6 280.7H626.1L626.3 293.1H626.7L626.9 284.5H627.4L627.7 293.5H628.1L628.3 293.2H628.7L628.9 286.6H629.2L629.4 292.5H629.7L630 290.3H630.4L630.6 292.6H631L631.2 282.1H631.6L631.8 291.4H632.3L632.6 294.7H633L633.2 284.4H633.5L633.7 291.7H634.1L634.3 297.7H634.7L635 293.2H635.4L635.6 288.2H636.1L636.3 292.1H636.6L636.8 294H637.2L637.4 284H637.8L638 299.2H638.4L638.6 284.8H639L639.2 295H639.6L639.9 295.3H640.3L640.5 294H641L641.2 282.4H641.6L641.8 279.6H642.2L642.5 279.9H643L643.2 285.5H643.5L643.7 297.9H644L644.3 293.6H644.7L644.9 286.7H645.4L645.6 290.9H646L646.2 289.6H646.8L647 287H647.4L647.6 281.4H648L648.2 278.5H648.6L648.8 289.2H649.1L649.4 292.4H649.7L649.9 281.6H650.4L650.6 284.1H651L651.3 268.7H651.7L651.9 283.3H652.4L652.6 280.2H652.9L653.1 287.5H653.5L653.8 292H654.1L654.3 288.3H654.6L654.8 286.5H655.2L655.4 288.2H655.8L656.1 290.1H656.5L656.7 294.2H657.1L657.3 285H657.8L658 291.6H658.4L658.7 291.2H659.1L659.3 289.7H659.6L659.8 294.9H660.3L660.6 291.7H661.1L661.3 293.9H661.7L661.9 277.8H662.3L662.5 287H662.9L663.2 290.2H663.5L663.7 295.7H664.2L664.4 289.4H664.8L665.1 279.7H665.5L665.7 292.5H666.2L666.4 293.8H666.8L667 290.1H667.3L667.6 296.3H667.9L668.1 282.9H668.4L668.6 294.9H669L669.2 288.9H669.6L669.9 285.3H670.3L670.5 293.1H670.9L671.1 291.6H671.6L671.8 284.4H672.4L672.6 287.8H672.9L673.1 281.4H673.4L673.6 300.1H673.9L674.2 292.5H674.7L674.9 286.5H675.2L675.4 283H676L676.2 281.9H676.6L676.8 298.9H677.1L677.3 303.3H677.7L677.9 255H678.3L678.6 303.2H678.9L679.1 285.9H679.4L679.6 279.7H680L680.2 287.6H680.8L681 292.1H681.5L681.7 290.6H682L682.3 305.3H682.7L682.9 290H683.2L683.4 287H683.8L684 294.9H684.4L684.6 305.9H685L685.2 295.7H685.5L685.7 289.9H686.1L686.3 290.9H686.8L687.1 285.6H687.5L687.7 292.6H688.1L688.3 286.6H688.6L688.8 295.7H689.4L689.6 292.5H690L690.2 288.4H690.6L690.8 286.8H691.1L691.3 294H691.7L692 315H692.5L692.7 294.9H693.1L693.3 282.3H693.6L693.9 289.5H694.2L694.4 287.2H694.8L695 295.1H695.5L695.7 305.4H696.1L696.4 270.1H696.9L697.1 285.3H697.5L697.7 296.3H698L698.3 300.2H698.7L698.9 289.6H699.3L699.5 285.2H699.8L700 278.6H700.5L700.8 286.7H701.2L701.4 292.5H701.9L702.1 311.1H702.5L702.7 284.4H703.1L703.4 284.7H703.8L704 300.3H704.4L704.6 301.1H704.9L705.1 287.3H705.7L705.9 284H706.4L706.6 300.9H707L707.2 303.3 L707.3 288L769 288" stroke="#611425" stroke-width="0.75"/>
<path d="M295.2 337H371.9V320.7H708.3V337H769" stroke="#eaa2b3" stroke-width="1.5" opacity="0.5"/>
<path d="M372.9 338V321.7H707.3V338Z" fill="#ad6378" fill-opacity="0.86" stroke="none"/>
<path d="M295.2 338H372.9M707.3 338H769" stroke="#b65f72" stroke-width="1.05"/>
<path d="M372.9 338.5V321.7H707.3V338.5" stroke="#83283a" stroke-width="1.1500000000000001"/>
</g>
<g filter="url(#bl)">
<rect x="12.9" y="63.9" width="107.1" height="95.9" rx="1.5" fill="none" stroke="#cf3531" stroke-width="3.6"/>
<rect x="18.5" y="202.2" width="98.5" height="98.8" rx="1.5" fill="none" stroke="#cf3531" stroke-width="3.8"/>
<polygon points="129.6,96.1 176.2,129.9 171.6,132.1 186.2,133.2 179.5,120.1 179.2,125.2 130,95.5" fill="#d23a38"/>
<polygon points="127,248 174.2,286.7 169.4,288.6 184,290.6 178.1,277.1 177.5,282.2 127.4,247.4" fill="#d23a38"/>
<text transform="translate(142.6 185.6) scale(1 1.0)" font-family='"Liberation Serif", "Noto Serif CJK SC", serif' font-size="51.5" font-weight="500" fill="#151515" stroke="#151515" stroke-width="0.4">测试</text>
<text transform="translate(142.6 339.3) scale(1 1.0)" font-family='"Liberation Serif", "Noto Serif CJK SC", serif' font-size="51.5" font-weight="500" fill="#151515" stroke="#151515" stroke-width="0.4">对照</text>
</g>
<rect x="798" y="0" width="219.5" height="382.3" fill="#b6b4b5"/>
<rect x="1021.3" y="0" width="57.4" height="382.3" fill="#b6b4b5"/>
<rect x="1084.9" y="0" width="472.1" height="382.3" fill="#c9cacc"/>
<rect x="798" y="16" width="219.5" height="27.5" fill="url(#hg)"/>
<rect x="1021.3" y="16" width="57.4" height="27.5" fill="url(#hg)"/>
<rect x="798" y="0" width="280.7" height="16" fill="#bab8b9"/>
<rect x="798" y="0" width="759" height="4" fill="#0d0d0f"/>
<rect x="797.7" y="0" width="2.4" height="382.3" fill="#0d0d0f"/>
<line x1="1148.5" y1="45.4" x2="1148.5" y2="382.3" stroke="#a0a0a3" stroke-width="1.1"/>
<line x1="1219.5" y1="45.4" x2="1219.5" y2="382.3" stroke="#a0a0a3" stroke-width="1.1"/>
<line x1="1289.5" y1="45.4" x2="1289.5" y2="382.3" stroke="#a0a0a3" stroke-width="1.1"/>
<line x1="1359.5" y1="45.4" x2="1359.5" y2="382.3" stroke="#a0a0a3" stroke-width="1.1"/>
<line x1="1430.5" y1="45.4" x2="1430.5" y2="382.3" stroke="#a0a0a3" stroke-width="1.1"/>
<line x1="1500.5" y1="45.4" x2="1500.5" y2="382.3" stroke="#a0a0a3" stroke-width="1.1"/>
<g filter="url(#bl)">
<text x="0" y="0" font-family='"Liberation Sans", sans-serif' font-size="10.9" font-weight="bold" fill="#1a1a1a" text-anchor="middle" transform="translate(1048.2 33.7) scale(0.97 1)">Value</text>
<text x="1163.9" y="34.2" font-family='"Liberation Serif", "Noto Serif CJK SC", serif' font-size="10.9" font-weight="bold" fill="#1a1a1a" text-anchor="middle" stroke="#1a1a1a" stroke-width="0.25">1, 100</text>
<text x="1234.2" y="34.2" font-family='"Liberation Serif", "Noto Serif CJK SC", serif' font-size="10.9" font-weight="bold" fill="#1a1a1a" text-anchor="middle" stroke="#1a1a1a" stroke-width="0.25">1, 200</text>
<text x="1304.5" y="34.2" font-family='"Liberation Serif", "Noto Serif CJK SC", serif' font-size="10.9" font-weight="bold" fill="#1a1a1a" text-anchor="middle" stroke="#1a1a1a" stroke-width="0.25">1, 300</text>
<text x="1374.8" y="34.2" font-family='"Liberation Serif", "Noto Serif CJK SC", serif' font-size="10.9" font-weight="bold" fill="#1a1a1a" text-anchor="middle" stroke="#1a1a1a" stroke-width="0.25">1, 400</text>
<text x="1445.1" y="34.2" font-family='"Liberation Serif", "Noto Serif CJK SC", serif' font-size="10.9" font-weight="bold" fill="#1a1a1a" text-anchor="middle" stroke="#1a1a1a" stroke-width="0.25">1, 500</text>
<text x="1515.4" y="34.2" font-family='"Liberation Serif", "Noto Serif CJK SC", serif' font-size="10.9" font-weight="bold" fill="#1a1a1a" text-anchor="middle" stroke="#1a1a1a" stroke-width="0.25">1, 600</text>
<rect x="815" y="190.3" width="84.3" height="72.3" fill="#c3d2ea"/>
<rect x="1024" y="190.8" width="54" height="71.8" fill="#c3d2ea" stroke="#79a6c8" stroke-width="1"/>
<path d="M803.6 78.3l3.4 3l-3.4 3" fill="none" stroke="#8f8d8e" stroke-width="1"/>
<g transform="translate(815.8 80.5) scale(1.0 1.0)"><rect x="0" y="-4" width="9.5" height="5.8" rx="1" fill="#a2c4db"/><rect x="2" y="-2.7" width="1.6" height="3" fill="#edf3f7"/><rect x="5.9" y="-2.7" width="1.6" height="3" fill="#edf3f7"/><circle cx="4.75" cy="2" r="1.9" fill="#dde8f0" stroke="#7fa9c4" stroke-width="0.7"/></g>
<text x="0" y="0" font-family='"Liberation Sans", sans-serif' font-size="11.3" font-weight="normal" fill="#1a1a1a" text-anchor="start" transform="translate(827.7 84.9) scale(0.92 1)" stroke="#1a1a1a" stroke-width="0.3">ADC_A0[31:0]</text>
<text x="0" y="0" font-family='"Liberation Sans", sans-serif' font-size="11.2" font-weight="normal" fill="#1a1a1a" text-anchor="start" transform="translate(1026.6 84.9) scale(0.9 1)" stroke="#1a1a1a" stroke-width="0.3">-50397097</text>
<path d="M803.6 151.6l3.4 3l-3.4 3" fill="none" stroke="#8f8d8e" stroke-width="1"/>
<g transform="translate(815.8 153.8) scale(1.0 1.0)"><rect x="0" y="-4" width="9.5" height="5.8" rx="1" fill="#a2c4db"/><rect x="2" y="-2.7" width="1.6" height="3" fill="#edf3f7"/><rect x="5.9" y="-2.7" width="1.6" height="3" fill="#edf3f7"/><circle cx="4.75" cy="2" r="1.9" fill="#dde8f0" stroke="#7fa9c4" stroke-width="0.7"/></g>
<text x="0" y="0" font-family='"Liberation Sans", sans-serif' font-size="11.3" font-weight="normal" fill="#1a1a1a" text-anchor="start" transform="translate(827.7 158.2) scale(0.92 1)" stroke="#1a1a1a" stroke-width="0.3">ADC_A1[31:0]</text>
<text x="0" y="0" font-family='"Liberation Sans", sans-serif' font-size="11.2" font-weight="normal" fill="#1a1a1a" text-anchor="start" transform="translate(1027.2 158.2) scale(0.9 1)" stroke="#1a1a1a" stroke-width="0.3">81526620</text>
<path d="M803.6 224.4l3.4 3l-3.4 3" fill="none" stroke="#8f8d8e" stroke-width="1"/>
<g transform="translate(815.8 226.6) scale(1.0 1.0)"><rect x="0" y="-4" width="9.5" height="5.8" rx="1" fill="#a2c4db"/><rect x="2" y="-2.7" width="1.6" height="3" fill="#edf3f7"/><rect x="5.9" y="-2.7" width="1.6" height="3" fill="#edf3f7"/><circle cx="4.75" cy="2" r="1.9" fill="#dde8f0" stroke="#7fa9c4" stroke-width="0.7"/></g>
<text x="0" y="0" font-family='"Liberation Sans", sans-serif' font-size="11.3" font-weight="normal" fill="#1a1a1a" text-anchor="start" transform="translate(827.7 231) scale(0.92 1)" stroke="#1a1a1a" stroke-width="0.3">ADC_B1[31:0]</text>
<text x="0" y="0" font-family='"Liberation Sans", sans-serif' font-size="11.2" font-weight="normal" fill="#1a1a1a" text-anchor="start" transform="translate(1027.2 231) scale(0.9 1)" stroke="#1a1a1a" stroke-width="0.3">720913</text>
<path d="M803.6 297.4l3.4 3l-3.4 3" fill="none" stroke="#8f8d8e" stroke-width="1"/>
<g transform="translate(815.8 299.6) scale(1.0 1.0)"><rect x="0" y="-4" width="9.5" height="5.8" rx="1" fill="#a2c4db"/><rect x="2" y="-2.7" width="1.6" height="3" fill="#edf3f7"/><rect x="5.9" y="-2.7" width="1.6" height="3" fill="#edf3f7"/><circle cx="4.75" cy="2" r="1.9" fill="#dde8f0" stroke="#7fa9c4" stroke-width="0.7"/></g>
<text x="0" y="0" font-family='"Liberation Sans", sans-serif' font-size="11.3" font-weight="normal" fill="#1a1a1a" text-anchor="start" transform="translate(827.7 304) scale(0.92 1)" stroke="#1a1a1a" stroke-width="0.3">ADC_B2[31:0]</text>
<text x="0" y="0" font-family='"Liberation Sans", sans-serif' font-size="11.2" font-weight="normal" fill="#1a1a1a" text-anchor="start" transform="translate(1027.2 304) scale(0.9 1)" stroke="#1a1a1a" stroke-width="0.3">431075</text>
<g transform="translate(816.5 346.8) scale(1.0 1.0)"><path d="M0 -2.4L1 -4H3V4H0.8V-2.2Z" fill="#5aa969"/><rect x="3.5" y="-4" width="5" height="8" rx="1.7" fill="#6ab377"/><rect x="5.1" y="-2.7" width="1.8" height="2" rx="0.6" fill="#a5d3ad"/><circle cx="6" cy="2.1" r="1.55" fill="#e6f1e7" stroke="#5aa969" stroke-width="0.55"/></g>
<text x="0" y="0" font-family='"Liberation Sans", sans-serif' font-size="11.3" font-weight="normal" fill="#1a1a1a" text-anchor="start" transform="translate(827.7 351) scale(0.92 1)" stroke="#1a1a1a" stroke-width="0.3">bram_data_valid</text>
<text x="0" y="0" font-family='"Liberation Sans", sans-serif' font-size="11.2" font-weight="normal" fill="#1a1a1a" text-anchor="start" transform="translate(1027 351.2) scale(0.9 1)" stroke="#1a1a1a" stroke-width="0.3">0</text>
</g>
<g fill="none" stroke-linejoin="round" filter="url(#bl2)">
<path d="M1085 52.1C1098.8 52.1 1153.7 52.1 1168 52.2C1171 52.4 1169.8 52.8 1171 53C1172.2 53.2 1173.5 53.6 1175 53.7C1176.5 53.8 1178.7 53.6 1180 53.5C1181.3 53.4 1180.3 53 1183 52.9C1185.7 52.8 1193.2 53 1196 52.7C1198.8 52.4 1198.7 51.7 1200 51C1201.3 50.3 1202.8 49.2 1204 48.6C1205.2 48 1206.1 47.4 1207.3 47.4C1208.5 47.4 1209.9 47.7 1211 48.6C1212.1 49.5 1213 50.8 1214 53C1215 55.2 1215.5 56.7 1217 62C1218.5 67.3 1221.2 78 1223 85C1224.8 92 1226.3 99 1228 104C1229.7 109 1231.3 113.7 1233 115.3C1234.7 116.9 1236.3 114.7 1238 113.5C1239.7 112.3 1241.2 109.3 1243 108C1244.8 106.7 1246.6 105.6 1248.8 105.5C1251 105.4 1253.5 106.6 1256 107.5C1258.5 108.4 1261.2 110 1264 110.8C1266.8 111.6 1268.2 112.1 1272.5 112.4C1276.8 112.7 1282.1 112.4 1290 112.4C1297.9 112.4 1312.5 112.6 1320 112.2C1327.5 111.8 1330.8 110.5 1335 110C1339.2 109.5 1340.8 109.1 1345 109.2C1349.2 109.3 1350.8 110.2 1360 110.4C1369.2 110.6 1390 110.3 1400 110.6C1410 110.9 1414.7 111.9 1420 112.2C1425.3 112.5 1427.8 112.6 1432 112.4C1436.2 112.2 1437 111.1 1445 110.8C1453 110.5 1467.5 110.7 1480 110.6C1492.5 110.5 1507.2 110.5 1520 110.4C1532.8 110.3 1550.8 110.2 1557 110.2" stroke="#4040a4" stroke-width="1.35"/>
<path d="M1085 184C1099.1 184 1154 184.3 1169.8 184C1180 183.7 1176.4 183 1180 182.4C1183.6 181.8 1188.3 180.2 1191.5 180.5C1194.7 180.8 1196.5 182.6 1199 184C1201.5 185.4 1204.3 188.5 1206.5 188.8C1208.7 189.1 1210.2 188.5 1212 186C1213.8 183.5 1215.2 179.7 1217 174C1218.8 168.3 1221.2 159 1223 152C1224.8 145 1226.3 137.2 1228 132C1229.7 126.8 1231.3 122.2 1233 120.5C1234.7 118.8 1236.3 120.7 1238 121.5C1239.7 122.3 1241.2 124.5 1243 125.4C1244.8 126.4 1246 127 1248.8 127.2C1251.6 127.4 1254.8 126.7 1260 126.4C1265.2 126.1 1273.3 125.3 1280 125.2C1286.7 125.1 1295 125.7 1300 125.8C1305 125.9 1305 126.2 1310 126C1315 125.8 1321.7 124.7 1330 124.4C1338.3 124.1 1349.2 124.5 1360 124.4C1370.8 124.3 1385 123.7 1395 123.6C1405 123.5 1414.5 124.2 1420 124C1425.5 123.8 1425.3 122.4 1428 122.6C1430.7 122.8 1432.3 124.9 1436 125.4C1439.7 125.9 1445.2 126 1450 125.8C1454.8 125.6 1450 124.7 1465 124.4C1482.8 124.1 1541.7 124.2 1557 124.2" stroke="#4040a4" stroke-width="1.35"/>
<path d="M1085 235L1128 234.6L1169.8 234.2L1169.8 229.2H1170.1L1170.3 227.2H1170.6L1170.9 231H1171.4L1171.6 231.3H1171.9L1172.1 233.6H1172.5L1172.7 227.4H1173.1L1173.4 218H1173.7L1173.9 232.8H1174.2L1174.4 228.4H1174.8L1175 221.7H1175.4L1175.7 225.8H1176L1176.2 240.1H1176.6L1176.8 239.2H1177.1L1177.3 231.4H1177.6L1177.9 232.2H1178.2L1178.4 231.5H1178.8L1179 219.4H1179.4L1179.6 233.8H1179.9L1180.2 233.3H1180.6L1180.8 226.2H1181.2L1181.4 234.6H1181.8L1182 220.7H1182.4L1182.6 227.3H1183L1183.3 221.3H1183.7L1183.9 225.2H1184.4L1184.6 247.1H1185L1185.2 229.7H1185.5L1185.8 236H1186.2L1186.4 226.1H1186.8L1187 243.5H1187.3L1187.5 231.7H1187.9L1188.2 218.5H1188.6L1188.8 228.2H1189.1L1189.3 227.9H1189.6L1189.8 230.6H1190.3L1190.6 229.6H1191L1191.2 235.8H1191.5L1191.7 234.2H1192.1L1192.3 225.4H1192.7L1193 231.4H1193.5L1193.7 238H1194.1L1194.3 226.2H1194.8L1195.1 237.6H1195.6L1195.8 227.9H1196.2L1196.4 233.2H1196.8L1197 229.4H1197.4L1197.7 236.9H1198.2L1198.4 223.7H1198.7L1198.9 225.6H1199.3L1199.6 227.9H1199.9L1200.1 227.3H1200.6L1200.8 224.2H1201.4L1201.6 225.5H1202.1L1202.3 223.8H1202.7L1202.9 222.9H1203.2L1203.5 221.9H1203.8L1204 232H1204.3L1204.5 223.8H1205L1205.3 246H1205.7L1205.9 222.1H1206.3L1206.5 230.4H1206.9L1207.1 225.9H1207.6L1207.9 234H1208.3L1208.5 234.7H1209L1209.2 221.7H1209.5L1209.8 237.6H1210.2L1210.4 230.1H1210.9L1211.1 228.9H1211.6L1211.9 230.5H1212.3L1212.5 231.3H1212.9L1213.1 227.6H1213.5L1213.7 232H1214.1L1214.3 238.5H1214.7L1214.9 227.2H1215.3L1215.5 235.9H1215.9L1216.1 230.8H1216.4L1216.6 231.9H1216.9L1217.2 225H1217.7L1217.9 236.8H1218.3L1218.5 215.9H1218.9L1219.2 231.4H1219.6L1219.8 230.7H1220.2L1220.4 230.2H1220.8L1221 227.6H1221.5L1221.8 227.2H1222.2L1222.4 231.7H1222.9L1223.1 243.9H1223.5L1223.7 238.9H1224.1L1224.4 221H1224.7L1224.9 229.8H1225.4L1225.6 236.5H1226L1226.3 225H1226.8L1227 222.7H1227.4L1227.6 232.2H1228L1228.2 229.9H1228.6L1228.9 235.6H1229.3L1229.5 234.3H1229.8L1230 231.7H1230.4L1230.6 221.6H1231L1231.2 243.3H1231.6L1231.9 231.7H1232.3L1232.5 222.2H1232.8L1233 193.6H1233.5L1233.8 230.6H1234.1L1234.3 235.3H1234.8L1235 233H1235.3L1235.6 220.9H1236L1236.2 230.4H1236.6L1236.8 235.5H1237.3L1237.5 239H1238.1L1238.3 233.1H1238.8L1239 220.2H1239.4L1239.6 228.2H1239.9L1240.2 230.3H1240.6L1240.8 234.8H1241.1L1241.3 245.5H1241.7L1241.9 230.9H1242.5L1242.7 233.9H1243.2L1243.4 229.5H1243.8L1244 230.9H1244.6L1244.8 239.5H1245.1L1245.3 221.6H1245.7L1245.9 240.1H1246.5L1246.7 236.2H1247.2L1247.4 214.2H1247.8L1248 226.8H1248.4L1248.7 233.2H1249L1249.2 235H1249.7L1249.9 222.7H1250.3L1250.6 242.9H1251.1L1251.3 236.8H1251.7L1251.9 241H1252.3L1252.5 227.7H1252.8L1253.1 226.7H1253.6L1253.8 229H1254.1L1254.3 235.3H1254.9L1255.1 254.2H1255.4L1255.6 228.7H1256L1256.2 236.4H1256.6L1256.8 250H1257.2L1257.5 233.7H1257.8L1258 235.3H1258.5L1258.7 231.7H1259L1259.3 239.5H1259.8L1260 238.2H1260.5L1260.8 225.4H1261.2L1261.4 234.7H1261.9L1262.1 233.1H1262.6L1262.9 229H1263.3L1263.5 227.8H1264L1264.2 230.8H1264.7L1265 224.6H1265.4L1265.6 230H1266L1266.2 227.1H1266.7L1267 231.9H1267.3L1267.5 237.2H1267.8L1268 226.5H1268.4L1268.6 229.7H1269.2L1269.4 233.4H1269.8L1270 234.8H1270.4L1270.6 228.5H1271L1271.2 235.6H1271.6L1271.9 224.8H1272.4L1272.6 236.1H1272.9L1273.1 235.2H1273.5L1273.7 245.1H1274L1274.3 243.6H1274.7L1274.9 236.7H1275.3L1275.5 241.6H1275.9L1276.1 231.9H1276.4L1276.7 230.8H1277.1L1277.3 237.7H1277.6L1277.8 217.2H1278.3L1278.5 231.9H1278.9L1279.2 229.5H1279.6L1279.8 231H1280.1L1280.3 236.8H1280.6L1280.8 226.7H1281.2L1281.5 228.6H1282L1282.2 229.3H1282.7L1282.9 239.4H1283.3L1283.6 228.5H1284L1284.2 239.6H1284.5L1284.7 223.8H1285.2L1285.5 223.8H1285.9L1286.1 232.5H1286.5L1286.7 236.2H1287.1L1287.3 231.1H1287.7L1287.9 230H1288.3L1288.6 233.6H1289L1289.2 233.6H1289.7L1289.9 233.6H1290.3L1290.5 225.6H1290.9L1291.1 227.8H1291.6L1291.8 234.8H1292.2L1292.4 234.1H1292.8L1293.1 235.2H1293.5L1293.7 224.6H1294L1294.2 232.9H1294.5L1294.7 233.5H1295.1L1295.3 222.2H1295.9L1296.1 221.7H1296.6L1296.8 237.4H1297.2L1297.5 233.9H1297.9L1298.1 228.4H1298.5L1298.7 241.5H1299.1L1299.3 230.5H1299.8L1300.1 229.5H1300.4L1300.6 220.7H1301L1301.2 229.9H1301.6L1301.8 224.3H1302.1L1302.4 235.5H1302.9L1303.1 238H1303.4L1303.6 233.7H1304L1304.2 237.8H1304.6L1304.8 241.4H1305.3L1305.5 230.6H1305.8L1306 236H1306.4L1306.7 228.3H1307L1307.2 242H1307.6L1307.8 234.9H1308.2L1308.4 238.8H1309L1309.2 225.5H1309.7L1309.9 226.2H1310.2L1310.4 231.8H1310.8L1311 222.2H1311.4L1311.6 220.4H1312L1312.2 238H1312.7L1313 239.4H1313.4L1313.6 226.1H1314.1L1314.3 219.1H1314.7L1314.9 235.2H1315.3L1315.6 239.1H1315.9L1316.1 234.7H1316.5L1316.7 242.9H1317.1L1317.3 231.4H1317.9L1318.1 227.7H1318.6L1318.8 237.1H1319.2L1319.4 244.6H1319.8L1320.1 236.3H1320.5L1320.7 237H1321.2L1321.4 237.1H1321.9L1322.2 228.5H1322.6L1322.8 206H1323.2L1323.4 231.1H1323.8L1324 222.6H1324.5L1324.8 225.2H1325.2L1325.4 235.5H1325.8L1326 249H1326.5L1326.8 229.7H1327.2L1327.4 231.2H1327.8L1328 233.5H1328.3L1328.5 240.5H1328.9L1329.1 237.9H1329.5L1329.8 233.7H1330.3L1330.5 228.5H1330.9L1331.1 242.4H1331.5L1331.7 225.8H1332.1L1332.4 241.2H1332.8L1333 237.7H1333.4L1333.6 220.1H1333.9L1334.1 237.8H1334.5L1334.8 232.5H1335.2L1335.4 226.2H1335.8L1336 242.5H1336.3L1336.5 234.5H1336.9L1337.1 229.6H1337.4L1337.7 236.1H1338L1338.2 232.1H1338.7L1338.9 237.6H1339.3L1339.6 231.9H1340L1340.2 238.1H1340.6L1340.8 234.3H1341.1L1341.3 229.2H1341.6L1341.8 228.1H1342.4L1342.6 238.9H1343L1343.2 236.9H1343.7L1344 234.1H1344.4L1344.6 245.4H1345.1L1345.3 235.3H1345.6L1345.8 237.2H1346.2L1346.5 238.8H1346.9L1347.1 233.6H1347.5L1347.7 231.3H1348L1348.2 231.9H1348.6L1348.9 237.1H1349.2L1349.4 239.1H1349.8L1350 229.1H1350.4L1350.6 246.9H1351L1351.2 236.7H1351.6L1351.9 233.3H1352.2L1352.4 233H1352.8L1353 230.3H1353.5L1353.8 223.4H1354.2L1354.4 241.8H1354.8L1355 233.8H1355.4L1355.6 222.7H1356.1L1356.4 237.8H1356.8L1357 231.4H1357.5L1357.7 239.9H1358L1358.2 231.8H1358.6L1358.9 228.1H1359.3L1359.5 230.2H1359.9L1360.1 230.2H1360.5L1360.7 224.1H1361.1L1361.3 225.3H1361.7L1362 231.7H1362.3L1362.5 240.1H1362.9L1363.1 241.1H1363.5L1363.7 234.8H1364.1L1364.4 234.8H1364.9L1365.1 232.9H1365.5L1365.7 242.6H1366.2L1366.5 229H1366.9L1367.1 232.3H1367.5L1367.7 235.2H1368.1L1368.3 234.8H1368.7L1368.9 232.5H1369.5L1369.7 225.2H1370L1370.2 240.9H1370.6L1370.8 227.2H1371.2L1371.5 241H1371.9L1372.1 241.3H1372.4L1372.6 226.9H1372.9L1373.1 228.8H1373.4L1373.7 217H1374.1L1374.3 227.2H1374.7L1374.9 235.7H1375.2L1375.4 236.3H1375.9L1376.2 225H1376.5L1376.7 228.8H1377.1L1377.3 222.9H1377.7L1377.9 227.5H1378.3L1378.6 226.8H1379.1L1379.3 229.5H1379.7L1379.9 234.2H1380.3L1380.5 230.5H1380.9L1381.2 225.7H1381.7L1381.9 235H1382.4L1382.6 228.4H1383L1383.3 233.8H1383.8L1384 225.8H1384.3L1384.5 229.8H1385.1L1385.3 232H1385.6L1385.8 233.6H1386.2L1386.4 233.7H1386.7L1387 206H1387.4L1387.6 225.5H1388L1388.2 226.3H1388.6L1388.8 230.3H1389.2L1389.4 230.9H1389.7L1390 231.2H1390.4L1390.6 231.5H1391.1L1391.3 229.7H1391.7L1391.9 233.6H1392.5L1392.7 234.2H1393.2L1393.4 222H1393.8L1394.1 236.5H1394.4L1394.6 224.7H1395L1395.2 227H1395.6L1395.8 227.4H1396.2L1396.4 224.4H1397L1397.2 233.1H1397.6L1397.8 238.1H1398.2L1398.4 240.3H1398.8L1399 237.9H1399.6L1399.8 242.1H1400.1L1400.3 242.6H1400.7L1400.9 233H1401.2L1401.5 235.2H1401.8L1402 224.6H1402.3L1402.5 240.3H1402.8L1403 233.3H1403.4L1403.7 228.5H1404.1L1404.3 258.1H1404.8L1405 249.4H1405.6L1405.8 231.6H1406.1L1406.3 236.9H1406.7L1406.9 235.1H1407.3L1407.5 230.8H1407.9L1408.2 236.1H1408.7L1408.9 230.5H1409.3L1409.5 234H1409.9L1410.1 238.4H1410.5L1410.8 237.5H1411.2L1411.4 236.1H1411.9L1412.1 234.5H1412.4L1412.7 226H1413.1L1413.3 227.7H1413.7L1413.9 224.4H1414.3L1414.5 227.8H1414.9L1415.1 202H1415.5L1415.8 229.3H1416.1L1416.3 233.8H1416.7L1416.9 225.1H1417.2L1417.4 226.1H1417.8L1418 228.9H1418.4L1418.6 214.7H1419L1419.2 233.6H1419.6L1419.8 225.6H1420.1L1420.3 242.5H1420.6L1420.9 227.6H1421.3L1421.5 222H1421.9L1422.1 225.9H1422.5L1422.7 223.1H1423.1L1423.3 220.1H1423.7L1424 220.1H1424.4L1424.6 225.6H1425.1L1425.3 226.8H1425.6L1425.9 230.3H1426.3L1426.5 236.3H1426.9L1427.1 226.1H1427.6L1427.8 219.5H1428.2L1428.4 235H1428.9L1429.1 232H1429.4L1429.6 231.4H1430L1430.3 219.6H1430.7L1430.9 220.5H1431.3L1431.5 218.6H1431.8L1432 222H1432.3L1432.6 220.6H1433L1433.2 217H1433.5L1433.7 226.9H1434L1434.2 228.7H1434.6L1434.8 224.3H1435.2L1435.5 230.5H1435.9L1436.1 251H1436.4L1436.6 231.5H1437L1437.2 232.3H1437.8L1438 235.1H1438.4L1438.6 247.9H1439L1439.2 234.2H1439.6L1439.8 225.3H1440.1L1440.4 226H1440.9L1441.1 237.1H1441.5L1441.7 227.2H1442L1442.3 233.5H1442.6L1442.8 230.6H1443.2L1443.4 224H1443.8L1444 217.5H1444.3L1444.6 236.9H1445.1L1445.3 236.6H1445.7L1445.9 230.5H1446.4L1446.7 229.2H1447.1L1447.3 229.8H1447.8L1448 225.9H1448.4L1448.6 215.8H1449.2L1449.4 233.1H1449.9L1450.1 225.4H1450.4L1450.7 234.4H1451.2L1451.4 240.3H1451.8L1452 227.4H1452.5L1452.8 260.5H1453.1L1453.3 228.6H1453.6L1453.8 235.1H1454.3L1454.6 222.2H1454.9L1455.1 231.2H1455.5L1455.7 224.2H1456.1L1456.3 233.5H1456.7L1457 231.8H1457.5L1457.7 235.6H1458.2L1458.4 233.9H1458.7L1459 218.6H1459.3L1459.5 228.6H1459.8L1460 252.4H1460.5L1460.8 229H1461.2L1461.4 218.8H1461.8L1462 229.5H1462.4L1462.6 244.1H1463.1L1463.4 233.8H1463.8L1464 229H1464.4L1464.6 225.7H1464.9L1465.1 230H1465.5L1465.8 239.3H1466.2L1466.4 234.3H1466.8L1467 232.9H1467.4L1467.6 234.7H1468.1L1468.4 234.6H1468.8L1469 235H1469.3L1469.5 234.7H1469.9L1470.1 234.1H1470.7L1470.9 239.2H1471.2L1471.4 225.8H1471.7L1471.9 221.9H1472.3L1472.5 235.8H1472.9L1473.1 238.9H1473.5L1473.7 232.2H1474.1L1474.3 225.9H1474.7L1474.9 221.3H1475.5L1475.7 226.6H1476.2L1476.4 237.8H1476.9L1477.2 228.5H1477.6L1477.8 225.9H1478.2L1478.4 231.4H1478.9L1479.1 227.2H1479.5L1479.8 224.9H1480.2L1480.4 229.8H1480.7L1480.9 232.8H1481.4L1481.7 227.7H1482.1L1482.3 239.6H1482.8L1483 226.9H1483.4L1483.6 224.9H1484.2L1484.4 218.8H1484.7L1484.9 222.8H1485.3L1485.5 221.1H1486.1L1486.3 222.1H1486.6L1486.8 222.7H1487.1L1487.3 225.5H1487.9L1488.1 224.4H1488.4L1488.6 216.6H1489L1489.2 222H1489.6L1489.8 234.5H1490.2L1490.5 233.6H1490.9L1491.1 234.9H1491.5L1491.7 226.4H1492.1L1492.3 218.3H1492.6L1492.9 230.3H1493.3L1493.5 238.3H1493.9L1494.1 228.8H1494.5L1494.7 226.6H1495.1L1495.3 228.6H1495.7L1496 224.2H1496.3L1496.5 227.4H1496.9L1497.1 228.8H1497.4L1497.6 213.6H1498.1L1498.4 232H1498.7L1498.9 237.6H1499.4L1499.6 241.8H1500L1500.3 243.3H1500.7L1500.9 219H1501.3L1501.5 234.6H1501.9L1502.1 224.4H1502.4L1502.6 227.5H1503L1503.3 236H1503.7L1503.9 235.3H1504.2L1504.4 238.7H1504.8L1505 221 L1505.5 227.2L1557 227.2" stroke="#c27486" stroke-width="1.9" opacity="0.5"/>
<path d="M1085 235L1128 234.6L1169.8 234.2L1169.8 229.2H1170.1L1170.3 227.2H1170.6L1170.9 231H1171.4L1171.6 231.3H1171.9L1172.1 233.6H1172.5L1172.7 227.4H1173.1L1173.4 218H1173.7L1173.9 232.8H1174.2L1174.4 228.4H1174.8L1175 221.7H1175.4L1175.7 225.8H1176L1176.2 240.1H1176.6L1176.8 239.2H1177.1L1177.3 231.4H1177.6L1177.9 232.2H1178.2L1178.4 231.5H1178.8L1179 219.4H1179.4L1179.6 233.8H1179.9L1180.2 233.3H1180.6L1180.8 226.2H1181.2L1181.4 234.6H1181.8L1182 220.7H1182.4L1182.6 227.3H1183L1183.3 221.3H1183.7L1183.9 225.2H1184.4L1184.6 247.1H1185L1185.2 229.7H1185.5L1185.8 236H1186.2L1186.4 226.1H1186.8L1187 243.5H1187.3L1187.5 231.7H1187.9L1188.2 218.5H1188.6L1188.8 228.2H1189.1L1189.3 227.9H1189.6L1189.8 230.6H1190.3L1190.6 229.6H1191L1191.2 235.8H1191.5L1191.7 234.2H1192.1L1192.3 225.4H1192.7L1193 231.4H1193.5L1193.7 238H1194.1L1194.3 226.2H1194.8L1195.1 237.6H1195.6L1195.8 227.9H1196.2L1196.4 233.2H1196.8L1197 229.4H1197.4L1197.7 236.9H1198.2L1198.4 223.7H1198.7L1198.9 225.6H1199.3L1199.6 227.9H1199.9L1200.1 227.3H1200.6L1200.8 224.2H1201.4L1201.6 225.5H1202.1L1202.3 223.8H1202.7L1202.9 222.9H1203.2L1203.5 221.9H1203.8L1204 232H1204.3L1204.5 223.8H1205L1205.3 246H1205.7L1205.9 222.1H1206.3L1206.5 230.4H1206.9L1207.1 225.9H1207.6L1207.9 234H1208.3L1208.5 234.7H1209L1209.2 221.7H1209.5L1209.8 237.6H1210.2L1210.4 230.1H1210.9L1211.1 228.9H1211.6L1211.9 230.5H1212.3L1212.5 231.3H1212.9L1213.1 227.6H1213.5L1213.7 232H1214.1L1214.3 238.5H1214.7L1214.9 227.2H1215.3L1215.5 235.9H1215.9L1216.1 230.8H1216.4L1216.6 231.9H1216.9L1217.2 225H1217.7L1217.9 236.8H1218.3L1218.5 215.9H1218.9L1219.2 231.4H1219.6L1219.8 230.7H1220.2L1220.4 230.2H1220.8L1221 227.6H1221.5L1221.8 227.2H1222.2L1222.4 231.7H1222.9L1223.1 243.9H1223.5L1223.7 238.9H1224.1L1224.4 221H1224.7L1224.9 229.8H1225.4L1225.6 236.5H1226L1226.3 225H1226.8L1227 222.7H1227.4L1227.6 232.2H1228L1228.2 229.9H1228.6L1228.9 235.6H1229.3L1229.5 234.3H1229.8L1230 231.7H1230.4L1230.6 221.6H1231L1231.2 243.3H1231.6L1231.9 231.7H1232.3L1232.5 222.2H1232.8L1233 193.6H1233.5L1233.8 230.6H1234.1L1234.3 235.3H1234.8L1235 233H1235.3L1235.6 220.9H1236L1236.2 230.4H1236.6L1236.8 235.5H1237.3L1237.5 239H1238.1L1238.3 233.1H1238.8L1239 220.2H1239.4L1239.6 228.2H1239.9L1240.2 230.3H1240.6L1240.8 234.8H1241.1L1241.3 245.5H1241.7L1241.9 230.9H1242.5L1242.7 233.9H1243.2L1243.4 229.5H1243.8L1244 230.9H1244.6L1244.8 239.5H1245.1L1245.3 221.6H1245.7L1245.9 240.1H1246.5L1246.7 236.2H1247.2L1247.4 214.2H1247.8L1248 226.8H1248.4L1248.7 233.2H1249L1249.2 235H1249.7L1249.9 222.7H1250.3L1250.6 242.9H1251.1L1251.3 236.8H1251.7L1251.9 241H1252.3L1252.5 227.7H1252.8L1253.1 226.7H1253.6L1253.8 229H1254.1L1254.3 235.3H1254.9L1255.1 254.2H1255.4L1255.6 228.7H1256L1256.2 236.4H1256.6L1256.8 250H1257.2L1257.5 233.7H1257.8L1258 235.3H1258.5L1258.7 231.7H1259L1259.3 239.5H1259.8L1260 238.2H1260.5L1260.8 225.4H1261.2L1261.4 234.7H1261.9L1262.1 233.1H1262.6L1262.9 229H1263.3L1263.5 227.8H1264L1264.2 230.8H1264.7L1265 224.6H1265.4L1265.6 230H1266L1266.2 227.1H1266.7L1267 231.9H1267.3L1267.5 237.2H1267.8L1268 226.5H1268.4L1268.6 229.7H1269.2L1269.4 233.4H1269.8L1270 234.8H1270.4L1270.6 228.5H1271L1271.2 235.6H1271.6L1271.9 224.8H1272.4L1272.6 236.1H1272.9L1273.1 235.2H1273.5L1273.7 245.1H1274L1274.3 243.6H1274.7L1274.9 236.7H1275.3L1275.5 241.6H1275.9L1276.1 231.9H1276.4L1276.7 230.8H1277.1L1277.3 237.7H1277.6L1277.8 217.2H1278.3L1278.5 231.9H1278.9L1279.2 229.5H1279.6L1279.8 231H1280.1L1280.3 236.8H1280.6L1280.8 226.7H1281.2L1281.5 228.6H1282L1282.2 229.3H1282.7L1282.9 239.4H1283.3L1283.6 228.5H1284L1284.2 239.6H1284.5L1284.7 223.8H1285.2L1285.5 223.8H1285.9L1286.1 232.5H1286.5L1286.7 236.2H1287.1L1287.3 231.1H1287.7L1287.9 230H1288.3L1288.6 233.6H1289L1289.2 233.6H1289.7L1289.9 233.6H1290.3L1290.5 225.6H1290.9L1291.1 227.8H1291.6L1291.8 234.8H1292.2L1292.4 234.1H1292.8L1293.1 235.2H1293.5L1293.7 224.6H1294L1294.2 232.9H1294.5L1294.7 233.5H1295.1L1295.3 222.2H1295.9L1296.1 221.7H1296.6L1296.8 237.4H1297.2L1297.5 233.9H1297.9L1298.1 228.4H1298.5L1298.7 241.5H1299.1L1299.3 230.5H1299.8L1300.1 229.5H1300.4L1300.6 220.7H1301L1301.2 229.9H1301.6L1301.8 224.3H1302.1L1302.4 235.5H1302.9L1303.1 238H1303.4L1303.6 233.7H1304L1304.2 237.8H1304.6L1304.8 241.4H1305.3L1305.5 230.6H1305.8L1306 236H1306.4L1306.7 228.3H1307L1307.2 242H1307.6L1307.8 234.9H1308.2L1308.4 238.8H1309L1309.2 225.5H1309.7L1309.9 226.2H1310.2L1310.4 231.8H1310.8L1311 222.2H1311.4L1311.6 220.4H1312L1312.2 238H1312.7L1313 239.4H1313.4L1313.6 226.1H1314.1L1314.3 219.1H1314.7L1314.9 235.2H1315.3L1315.6 239.1H1315.9L1316.1 234.7H1316.5L1316.7 242.9H1317.1L1317.3 231.4H1317.9L1318.1 227.7H1318.6L1318.8 237.1H1319.2L1319.4 244.6H1319.8L1320.1 236.3H1320.5L1320.7 237H1321.2L1321.4 237.1H1321.9L1322.2 228.5H1322.6L1322.8 206H1323.2L1323.4 231.1H1323.8L1324 222.6H1324.5L1324.8 225.2H1325.2L1325.4 235.5H1325.8L1326 249H1326.5L1326.8 229.7H1327.2L1327.4 231.2H1327.8L1328 233.5H1328.3L1328.5 240.5H1328.9L1329.1 237.9H1329.5L1329.8 233.7H1330.3L1330.5 228.5H1330.9L1331.1 242.4H1331.5L1331.7 225.8H1332.1L1332.4 241.2H1332.8L1333 237.7H1333.4L1333.6 220.1H1333.9L1334.1 237.8H1334.5L1334.8 232.5H1335.2L1335.4 226.2H1335.8L1336 242.5H1336.3L1336.5 234.5H1336.9L1337.1 229.6H1337.4L1337.7 236.1H1338L1338.2 232.1H1338.7L1338.9 237.6H1339.3L1339.6 231.9H1340L1340.2 238.1H1340.6L1340.8 234.3H1341.1L1341.3 229.2H1341.6L1341.8 228.1H1342.4L1342.6 238.9H1343L1343.2 236.9H1343.7L1344 234.1H1344.4L1344.6 245.4H1345.1L1345.3 235.3H1345.6L1345.8 237.2H1346.2L1346.5 238.8H1346.9L1347.1 233.6H1347.5L1347.7 231.3H1348L1348.2 231.9H1348.6L1348.9 237.1H1349.2L1349.4 239.1H1349.8L1350 229.1H1350.4L1350.6 246.9H1351L1351.2 236.7H1351.6L1351.9 233.3H1352.2L1352.4 233H1352.8L1353 230.3H1353.5L1353.8 223.4H1354.2L1354.4 241.8H1354.8L1355 233.8H1355.4L1355.6 222.7H1356.1L1356.4 237.8H1356.8L1357 231.4H1357.5L1357.7 239.9H1358L1358.2 231.8H1358.6L1358.9 228.1H1359.3L1359.5 230.2H1359.9L1360.1 230.2H1360.5L1360.7 224.1H1361.1L1361.3 225.3H1361.7L1362 231.7H1362.3L1362.5 240.1H1362.9L1363.1 241.1H1363.5L1363.7 234.8H1364.1L1364.4 234.8H1364.9L1365.1 232.9H1365.5L1365.7 242.6H1366.2L1366.5 229H1366.9L1367.1 232.3H1367.5L1367.7 235.2H1368.1L1368.3 234.8H1368.7L1368.9 232.5H1369.5L1369.7 225.2H1370L1370.2 240.9H1370.6L1370.8 227.2H1371.2L1371.5 241H1371.9L1372.1 241.3H1372.4L1372.6 226.9H1372.9L1373.1 228.8H1373.4L1373.7 217H1374.1L1374.3 227.2H1374.7L1374.9 235.7H1375.2L1375.4 236.3H1375.9L1376.2 225H1376.5L1376.7 228.8H1377.1L1377.3 222.9H1377.7L1377.9 227.5H1378.3L1378.6 226.8H1379.1L1379.3 229.5H1379.7L1379.9 234.2H1380.3L1380.5 230.5H1380.9L1381.2 225.7H1381.7L1381.9 235H1382.4L1382.6 228.4H1383L1383.3 233.8H1383.8L1384 225.8H1384.3L1384.5 229.8H1385.1L1385.3 232H1385.6L1385.8 233.6H1386.2L1386.4 233.7H1386.7L1387 206H1387.4L1387.6 225.5H1388L1388.2 226.3H1388.6L1388.8 230.3H1389.2L1389.4 230.9H1389.7L1390 231.2H1390.4L1390.6 231.5H1391.1L1391.3 229.7H1391.7L1391.9 233.6H1392.5L1392.7 234.2H1393.2L1393.4 222H1393.8L1394.1 236.5H1394.4L1394.6 224.7H1395L1395.2 227H1395.6L1395.8 227.4H1396.2L1396.4 224.4H1397L1397.2 233.1H1397.6L1397.8 238.1H1398.2L1398.4 240.3H1398.8L1399 237.9H1399.6L1399.8 242.1H1400.1L1400.3 242.6H1400.7L1400.9 233H1401.2L1401.5 235.2H1401.8L1402 224.6H1402.3L1402.5 240.3H1402.8L1403 233.3H1403.4L1403.7 228.5H1404.1L1404.3 258.1H1404.8L1405 249.4H1405.6L1405.8 231.6H1406.1L1406.3 236.9H1406.7L1406.9 235.1H1407.3L1407.5 230.8H1407.9L1408.2 236.1H1408.7L1408.9 230.5H1409.3L1409.5 234H1409.9L1410.1 238.4H1410.5L1410.8 237.5H1411.2L1411.4 236.1H1411.9L1412.1 234.5H1412.4L1412.7 226H1413.1L1413.3 227.7H1413.7L1413.9 224.4H1414.3L1414.5 227.8H1414.9L1415.1 202H1415.5L1415.8 229.3H1416.1L1416.3 233.8H1416.7L1416.9 225.1H1417.2L1417.4 226.1H1417.8L1418 228.9H1418.4L1418.6 214.7H1419L1419.2 233.6H1419.6L1419.8 225.6H1420.1L1420.3 242.5H1420.6L1420.9 227.6H1421.3L1421.5 222H1421.9L1422.1 225.9H1422.5L1422.7 223.1H1423.1L1423.3 220.1H1423.7L1424 220.1H1424.4L1424.6 225.6H1425.1L1425.3 226.8H1425.6L1425.9 230.3H1426.3L1426.5 236.3H1426.9L1427.1 226.1H1427.6L1427.8 219.5H1428.2L1428.4 235H1428.9L1429.1 232H1429.4L1429.6 231.4H1430L1430.3 219.6H1430.7L1430.9 220.5H1431.3L1431.5 218.6H1431.8L1432 222H1432.3L1432.6 220.6H1433L1433.2 217H1433.5L1433.7 226.9H1434L1434.2 228.7H1434.6L1434.8 224.3H1435.2L1435.5 230.5H1435.9L1436.1 251H1436.4L1436.6 231.5H1437L1437.2 232.3H1437.8L1438 235.1H1438.4L1438.6 247.9H1439L1439.2 234.2H1439.6L1439.8 225.3H1440.1L1440.4 226H1440.9L1441.1 237.1H1441.5L1441.7 227.2H1442L1442.3 233.5H1442.6L1442.8 230.6H1443.2L1443.4 224H1443.8L1444 217.5H1444.3L1444.6 236.9H1445.1L1445.3 236.6H1445.7L1445.9 230.5H1446.4L1446.7 229.2H1447.1L1447.3 229.8H1447.8L1448 225.9H1448.4L1448.6 215.8H1449.2L1449.4 233.1H1449.9L1450.1 225.4H1450.4L1450.7 234.4H1451.2L1451.4 240.3H1451.8L1452 227.4H1452.5L1452.8 260.5H1453.1L1453.3 228.6H1453.6L1453.8 235.1H1454.3L1454.6 222.2H1454.9L1455.1 231.2H1455.5L1455.7 224.2H1456.1L1456.3 233.5H1456.7L1457 231.8H1457.5L1457.7 235.6H1458.2L1458.4 233.9H1458.7L1459 218.6H1459.3L1459.5 228.6H1459.8L1460 252.4H1460.5L1460.8 229H1461.2L1461.4 218.8H1461.8L1462 229.5H1462.4L1462.6 244.1H1463.1L1463.4 233.8H1463.8L1464 229H1464.4L1464.6 225.7H1464.9L1465.1 230H1465.5L1465.8 239.3H1466.2L1466.4 234.3H1466.8L1467 232.9H1467.4L1467.6 234.7H1468.1L1468.4 234.6H1468.8L1469 235H1469.3L1469.5 234.7H1469.9L1470.1 234.1H1470.7L1470.9 239.2H1471.2L1471.4 225.8H1471.7L1471.9 221.9H1472.3L1472.5 235.8H1472.9L1473.1 238.9H1473.5L1473.7 232.2H1474.1L1474.3 225.9H1474.7L1474.9 221.3H1475.5L1475.7 226.6H1476.2L1476.4 237.8H1476.9L1477.2 228.5H1477.6L1477.8 225.9H1478.2L1478.4 231.4H1478.9L1479.1 227.2H1479.5L1479.8 224.9H1480.2L1480.4 229.8H1480.7L1480.9 232.8H1481.4L1481.7 227.7H1482.1L1482.3 239.6H1482.8L1483 226.9H1483.4L1483.6 224.9H1484.2L1484.4 218.8H1484.7L1484.9 222.8H1485.3L1485.5 221.1H1486.1L1486.3 222.1H1486.6L1486.8 222.7H1487.1L1487.3 225.5H1487.9L1488.1 224.4H1488.4L1488.6 216.6H1489L1489.2 222H1489.6L1489.8 234.5H1490.2L1490.5 233.6H1490.9L1491.1 234.9H1491.5L1491.7 226.4H1492.1L1492.3 218.3H1492.6L1492.9 230.3H1493.3L1493.5 238.3H1493.9L1494.1 228.8H1494.5L1494.7 226.6H1495.1L1495.3 228.6H1495.7L1496 224.2H1496.3L1496.5 227.4H1496.9L1497.1 228.8H1497.4L1497.6 213.6H1498.1L1498.4 232H1498.7L1498.9 237.6H1499.4L1499.6 241.8H1500L1500.3 243.3H1500.7L1500.9 219H1501.3L1501.5 234.6H1501.9L1502.1 224.4H1502.4L1502.6 227.5H1503L1503.3 236H1503.7L1503.9 235.3H1504.2L1504.4 238.7H1504.8L1505 221 L1505.5 227.2L1557 227.2" stroke="#611425" stroke-width="0.75"/>
<path d="M1085 306.6L1125 306.8L1135 306L1169.8 306L1169.8 304.6H1170.3L1170.5 296.4H1171.1L1171.3 284.3H1171.6L1171.8 302.5H1172.2L1172.4 309.5H1172.7L1173 308H1173.4L1173.6 299.1H1174.1L1174.3 309.7H1174.7L1174.9 293H1175.3L1175.5 299.7H1175.8L1176 305.3H1176.5L1176.7 304.2H1177.1L1177.4 303.7H1177.9L1178.1 306.7H1178.4L1178.6 297.4H1178.9L1179.2 292.1H1179.5L1179.7 325.5H1180.2L1180.4 293.6H1181L1181.2 300.1H1181.6L1181.8 304.6H1182.3L1182.5 298.5H1182.9L1183.2 299.5H1183.6L1183.8 293.9H1184.2L1184.4 292H1184.8L1185 306.2H1185.4L1185.6 304.2H1186L1186.3 302.2H1186.6L1186.8 296.4H1187.2L1187.4 299.3H1187.8L1188 300.4H1188.4L1188.6 295.6H1189L1189.3 308.4H1189.6L1189.8 267H1190.3L1190.5 294.2H1190.9L1191.2 306.5H1191.5L1191.7 297.4H1192.1L1192.3 304.5H1192.6L1192.8 299.7H1193.2L1193.5 297.4H1194L1194.2 287.8H1194.6L1194.8 304.7H1195.2L1195.4 301.4H1196L1196.2 308.7H1196.5L1196.7 313.5H1197.1L1197.3 304H1197.7L1197.9 301.1H1198.3L1198.6 303.9H1199.1L1199.3 301.6H1199.6L1199.8 296.2H1200.4L1200.6 294H1200.9L1201.1 303.3H1201.6L1201.9 304.1H1202.2L1202.4 312.5H1202.7L1202.9 313.4H1203.2L1203.4 294.1H1203.8L1204.1 298.4H1204.5L1204.7 288.4H1205.2L1205.4 300.9H1205.8L1206 298.6H1206.3L1206.6 292.9H1207L1207.2 304.9H1207.6L1207.8 302.6H1208.2L1208.4 311.6H1208.7L1209 310.8H1209.5L1209.7 294.2H1210.1L1210.3 301.1H1210.7L1210.9 302H1211.5L1211.7 295H1212L1212.2 296.1H1212.5L1212.7 287.7H1213L1213.3 268H1213.8L1214 310H1214.3L1214.5 297.7H1215.1L1215.3 306.7H1215.6L1215.8 298.4H1216.2L1216.4 317.2H1216.8L1217 302.9H1217.4L1217.7 312.4H1218.1L1218.3 301.1H1218.7L1218.9 306.8H1219.2L1219.4 291.2H1219.8L1220.1 314.6H1220.4L1220.6 309.2H1220.9L1221.1 311.4H1221.5L1221.7 305.1H1222.2L1222.5 303.6H1223L1223.2 299.3H1223.5L1223.7 304H1224.1L1224.4 299.8H1224.8L1225 305H1225.4L1225.6 308H1225.9L1226.1 300.7H1226.7L1226.9 299H1227.3L1227.5 294.3H1227.9L1228.1 301.5H1228.5L1228.7 317.3H1229.3L1229.5 309.2H1229.9L1230.1 306.2H1230.5L1230.7 307.8H1231.1L1231.3 304.1H1231.9L1232.1 300.6H1232.5L1232.7 300H1233.2L1233.4 304.3H1233.7L1234 314.9H1234.3L1234.5 290.5H1234.9L1235.1 311.4H1235.5L1235.7 302.6H1236L1236.3 287H1236.8L1237 305H1237.4L1237.6 302.8H1238L1238.2 309.3H1238.8L1239 299.3H1239.4L1239.6 302.9H1239.9L1240.1 305.1H1240.5L1240.8 305.3H1241.3L1241.5 315.2H1241.9L1242.1 331H1242.6L1242.9 312.9H1243.4L1243.6 300.9H1244L1244.2 312.2H1244.6L1244.9 296.5H1245.3L1245.5 298.5H1245.9L1246.1 309.3H1246.4L1246.6 302.5H1247L1247.2 297.1H1247.8L1248 303.9H1248.4L1248.6 289.2H1249L1249.2 304.8H1249.6L1249.8 297.9H1250.2L1250.5 297.7H1250.9L1251.1 305.1H1251.5L1251.7 294.3H1252.1L1252.3 299.9H1252.7L1252.9 300.3H1253.2L1253.5 310.8H1253.9L1254.1 313.3H1254.6L1254.8 290.7H1255.4L1255.6 303.7H1256L1256.2 295H1256.6L1256.8 302.8H1257.3L1257.6 305.3H1258L1258.2 317H1258.6L1258.8 303.1H1259.2L1259.4 290.9H1259.8L1260 299.5H1260.4L1260.7 300.5H1261.1L1261.3 287.9H1261.6L1261.8 293.5H1262.3L1262.6 307.4H1263L1263.2 296.9H1263.7L1263.9 296H1264.4L1264.7 295.8H1265.2L1265.4 314.4H1265.9L1266.1 308.7H1266.5L1266.8 302.3H1267.1L1267.3 309.9H1267.7L1267.9 306.5H1268.3L1268.5 289.2H1268.9L1269.2 299.9H1269.7L1269.9 301.7H1270.3L1270.5 303.5H1270.9L1271.1 308H1271.5L1271.8 326H1272.1L1272.3 298.9H1272.7L1272.9 307.5H1273.4L1273.6 315H1274L1274.3 306.7H1274.8L1275 300.4H1275.3L1275.5 303.9H1275.9L1276.2 299.1H1276.7L1276.9 308.4H1277.4L1277.6 294.5H1278.2L1278.4 304.7H1278.8L1279 295.1H1279.5L1279.8 301.4H1280.3L1280.5 309.1H1281L1281.2 300.7H1281.6L1281.8 292.5H1282.2L1282.4 303.4H1282.7L1282.9 297H1283.3L1283.5 304.5H1284.1L1284.3 305H1284.7L1284.9 303H1285.3L1285.5 290.1H1286L1286.3 289.6H1286.6L1286.8 289.1H1287.1L1287.3 299.5H1287.7L1287.9 301.7H1288.5L1288.7 300.5H1289L1289.2 297.7H1289.7L1290 300.8H1290.5L1290.7 297.8H1291.2L1291.4 303.3H1291.8L1292 303.1H1292.3L1292.5 288.4H1292.8L1293 296.5H1293.4L1293.6 298.3H1294L1294.3 302.1H1294.7L1294.9 290.3H1295.2L1295.4 297.7H1295.8L1296 306.7H1296.3L1296.6 305.8H1297L1297.2 288.3H1297.5L1297.7 293.1H1298.2L1298.4 291.1H1299L1299.2 287H1299.5L1299.7 303.2H1300.1L1300.3 289.1H1300.7L1301 308.8H1301.4L1301.6 300.1H1302.1L1302.3 293.5H1302.6L1302.9 287.7H1303.2L1303.4 308.5H1303.8L1304 299.6H1304.5L1304.7 309.5H1305.3L1305.5 296.1H1305.9L1306.1 299.2H1306.5L1306.7 301.7H1307.1L1307.3 307.5H1307.7L1308 295.4H1308.5L1308.7 301.8H1309.2L1309.5 300.2H1310L1310.2 311.7H1310.5L1310.7 309.3H1311.2L1311.5 303.6H1311.9L1312.1 304.7H1312.4L1312.6 309.3H1313L1313.2 311.4H1313.5L1313.8 308.8H1314.1L1314.3 302.6H1314.6L1314.8 308.3H1315.1L1315.3 307.8H1315.7L1315.9 300.8H1316.3L1316.5 301.3H1316.8L1317 296.1H1317.5L1317.8 307.2H1318.3L1318.5 304H1318.9L1319.1 301.3H1319.4L1319.7 306.3H1320.2L1320.4 301H1320.8L1321 300.5H1321.4L1321.6 307.3H1321.9L1322.2 268.5H1322.7L1322.9 300.7H1323.2L1323.4 314.6H1323.8L1324.1 297.3H1324.5L1324.7 296.7H1325.2L1325.4 299.1H1325.8L1326 307.8H1326.4L1326.7 303.3H1327.2L1327.4 304H1327.8L1328 299.9H1328.3L1328.6 301.8H1328.9L1329.1 292.1H1329.5L1329.7 297.9H1330.1L1330.3 321H1330.7L1330.9 304.7H1331.3L1331.6 306H1332L1332.2 296.2H1332.7L1332.9 306.5H1333.3L1333.5 307.5H1334.1L1334.3 300.6H1334.8L1335 333H1335.6L1335.8 307.5H1336.2L1336.4 303.5H1336.7L1336.9 290.9H1337.3L1337.5 310.2H1338.1L1338.3 308.2H1338.6L1338.8 308.3H1339.2L1339.4 304.8H1339.7L1340 292.4H1340.4L1340.6 294.6H1341L1341.2 298.6H1341.5L1341.7 310.8H1342.1L1342.3 303.6H1342.7L1343 300.1H1343.5L1343.7 302.5H1344L1344.2 297H1344.6L1344.9 333.5H1345.4L1345.6 295.8H1346.1L1346.3 292.6H1346.9L1347.1 293.4H1347.6L1347.8 308.9H1348.1L1348.4 300.6H1348.7L1348.9 304.8H1349.2L1349.4 313.5H1349.8L1350 301H1350.6L1350.8 298.9H1351.2L1351.4 307.1H1351.8L1352 306.5H1352.4L1352.6 311.7H1353.2L1353.4 302.1H1353.8L1354 299.4H1354.5L1354.7 299H1355.1L1355.4 305.5H1355.8L1356 301.8H1356.5L1356.7 304.9H1357.3L1357.5 303.3H1357.9L1358.1 303.5H1358.5L1358.7 312H1359.1L1359.3 302.2H1359.7L1360 297.9H1360.4L1360.6 310.7H1361.1L1361.3 302.5H1361.6L1361.8 309.8H1362.2L1362.5 313.9H1362.9L1363.1 300.2H1363.5L1363.7 296.7H1364.1L1364.3 316.8H1364.8L1365.1 318.2H1365.6L1365.8 304.1H1366.2L1366.4 305.4H1366.8L1367.1 303.4H1367.5L1367.7 313.2H1368.2L1368.4 320.1H1368.8L1369 301.5H1369.3L1369.6 296H1369.9L1370.1 309.2H1370.4L1370.6 304H1371.1L1371.4 307.2H1371.8L1372 308.9H1372.5L1372.7 311H1373.1L1373.3 296.1H1373.9L1374.1 306.5H1374.4L1374.6 301.5H1375.1L1375.4 317.5H1375.7L1375.9 294.1H1376.3L1376.5 304.2H1376.9L1377.1 311.2H1377.4L1377.7 301H1378.1L1378.3 300.2H1378.8L1379 303.4H1379.3L1379.5 304.6H1379.9L1380.1 310.1H1380.4L1380.6 297.4H1381L1381.2 303H1381.7L1382 298.6H1382.4L1382.6 297.4H1383L1383.2 296.6H1383.6L1383.8 299.8H1384.2L1384.4 302.2H1384.8L1385.1 307.6H1385.6L1385.8 309.4H1386.1L1386.3 295H1386.7L1387 302.7H1387.3L1387.5 314.4H1388L1388.2 307.1H1388.6L1388.8 302.7H1389.2L1389.5 314H1390L1390.2 304.8H1390.6L1390.8 299.6H1391.2L1391.4 301.3H1391.8L1392.1 302.6H1392.5L1392.7 299H1393.1L1393.3 294.4H1393.7L1393.9 297.2H1394.2L1394.5 298.2H1394.9L1395.1 320.4H1395.6L1395.8 299.2H1396.3L1396.6 308.3H1396.9L1397.1 301.7H1397.5L1397.7 288.9H1398.1L1398.3 299.1H1398.7L1399 302.4H1399.3L1399.5 296.4H1399.8L1400 330H1400.4L1400.6 306.1H1401.1L1401.4 296.9H1401.8L1402 304.2H1402.4L1402.6 295.1H1403.1L1403.4 311.6H1403.8L1404 300.3H1404.4L1404.6 297.1H1405L1405.2 305.2H1405.6L1405.8 302.9H1406.2L1406.5 305.8H1406.9L1407.1 300.4H1407.6L1407.8 299.3H1408.2L1408.4 291.6H1408.8L1409.1 304.6H1409.4L1409.6 297H1410L1410.2 293.6H1410.6L1410.8 294.5H1411.3L1411.6 301.8H1412L1412.2 298.4H1412.6L1412.8 301.8H1413.3L1413.6 310.5H1414L1414.2 301.9H1414.6L1414.8 313.1H1415.3L1415.5 303.6H1415.9L1416.2 297.5H1416.5L1416.7 298.9H1417.1L1417.3 297H1417.8L1418 298.5H1418.6L1418.8 297.5H1419.3L1419.5 309.6H1419.9L1420.2 306.9H1420.6L1420.8 290.8H1421.3L1421.5 301.1H1421.8L1422 296.1H1422.6L1422.8 304.9H1423.1L1423.3 283.7H1423.6L1423.8 304.8H1424.2L1424.4 306.7H1424.9L1425.1 294.7H1425.6L1425.9 296.7H1426.3L1426.5 295.8H1426.8L1427 306.7H1427.3L1427.5 303.1H1427.8L1428.1 304.8H1428.6L1428.8 304.9H1429.3L1429.5 297.5H1429.9L1430.2 308.5H1430.5L1430.7 303.3H1431.1L1431.3 308.2H1431.6L1431.8 307.6H1432.4L1432.6 305H1432.9L1433.1 292.7H1433.6L1433.9 290.9H1434.4L1434.6 301H1435L1435.2 297.3H1435.7L1436 294.2H1436.5L1436.7 301.7H1437.1L1437.3 309.5H1437.6L1437.9 295H1438.3L1438.5 295H1438.9L1439.1 297.8H1439.4L1439.6 304.6H1440.1L1440.4 313.1H1440.8L1441 308.7H1441.4L1441.6 306.9H1441.9L1442.1 299.3H1442.4L1442.7 299.6H1443.1L1443.3 295.4H1443.7L1443.9 305.1H1444.3L1444.5 305.2H1444.9L1445.1 329H1445.5L1445.8 304.7H1446.2L1446.4 308.8H1446.8L1447 295.4H1447.4L1447.6 314.5H1448.1L1448.4 293.1H1448.9L1449.1 294.3H1449.5L1449.7 305H1450.1L1450.3 295.6H1450.7L1451 306.4H1451.4L1451.6 298.9H1452.1L1452.3 307.2H1452.6L1452.9 314.7H1453.2L1453.4 299.4H1453.8L1454 299.7H1454.4L1454.6 298.1H1455.2L1455.4 327H1455.7L1455.9 303.7H1456.3L1456.5 296.6H1457L1457.3 309.2H1457.6L1457.8 296.9H1458.3L1458.5 298.1H1458.8L1459.1 294.6H1459.5L1459.7 312.9H1460.1L1460.3 304.3H1460.7L1460.9 297.6H1461.2L1461.4 303.9H1461.8L1462 287.6H1462.4L1462.6 302.2H1463.1L1463.3 301.4H1463.7L1464 292.4H1464.5L1464.7 294.8H1465.2L1465.4 308.5H1465.8L1466.1 297H1466.4L1466.6 295.3H1467L1467.2 302.5H1467.5L1467.7 303.2H1468.1L1468.4 309.4H1468.7L1468.9 304.1H1469.3L1469.5 301.7H1469.8L1470 298.4H1470.6L1470.8 306.5H1471.3L1471.5 296.7H1471.9L1472.1 303H1472.5L1472.8 309H1473.2L1473.4 301.8H1473.9L1474.1 304.5H1474.5L1474.7 295.5H1475.1L1475.4 304.6H1475.9L1476.1 305.5H1476.6L1476.9 299.6H1477.2L1477.4 305.3H1477.9L1478.1 304.5H1478.5L1478.7 296.7H1479.3L1479.5 313.5H1479.8L1480 285.8H1480.3L1480.5 297.9H1480.9L1481.2 306H1481.6L1481.8 311.6H1482.1L1482.3 305.3H1482.7L1482.9 301.6H1483.3L1483.6 317.3H1484L1484.2 310.5H1484.7L1484.9 313.4H1485.3L1485.5 306.3H1485.9L1486.2 305.8H1486.5L1486.7 304.6H1487.2L1487.4 307.6H1487.9L1488.2 307.7H1488.5L1488.7 318.2H1489.1L1489.3 297.8H1489.7L1489.9 279H1490.3L1490.6 305.8H1491.1L1491.3 315.6H1491.7L1491.9 304.5H1492.3L1492.5 300.8H1493.1L1493.3 301.4H1493.8L1494 312.8H1494.4L1494.6 310.3H1495.2L1495.4 306.2H1495.8L1496 297.6H1496.4L1496.6 303.8H1497.2L1497.4 304H1497.8L1498 308H1498.4L1498.6 310.6H1499L1499.2 293.6H1499.8L1500 305.7H1500.4L1500.6 303.5H1501L1501.2 304H1501.7L1502 308.4H1502.3L1502.5 304.3H1502.8L1503 322.2H1503.5L1503.8 313.5H1504.1L1504.3 301.3H1504.8L1505 309.5 L1505.5 302L1557 302" stroke="#c27486" stroke-width="1.9" opacity="0.5"/>
<path d="M1085 306.6L1125 306.8L1135 306L1169.8 306L1169.8 304.6H1170.3L1170.5 296.4H1171.1L1171.3 284.3H1171.6L1171.8 302.5H1172.2L1172.4 309.5H1172.7L1173 308H1173.4L1173.6 299.1H1174.1L1174.3 309.7H1174.7L1174.9 293H1175.3L1175.5 299.7H1175.8L1176 305.3H1176.5L1176.7 304.2H1177.1L1177.4 303.7H1177.9L1178.1 306.7H1178.4L1178.6 297.4H1178.9L1179.2 292.1H1179.5L1179.7 325.5H1180.2L1180.4 293.6H1181L1181.2 300.1H1181.6L1181.8 304.6H1182.3L1182.5 298.5H1182.9L1183.2 299.5H1183.6L1183.8 293.9H1184.2L1184.4 292H1184.8L1185 306.2H1185.4L1185.6 304.2H1186L1186.3 302.2H1186.6L1186.8 296.4H1187.2L1187.4 299.3H1187.8L1188 300.4H1188.4L1188.6 295.6H1189L1189.3 308.4H1189.6L1189.8 267H1190.3L1190.5 294.2H1190.9L1191.2 306.5H1191.5L1191.7 297.4H1192.1L1192.3 304.5H1192.6L1192.8 299.7H1193.2L1193.5 297.4H1194L1194.2 287.8H1194.6L1194.8 304.7H1195.2L1195.4 301.4H1196L1196.2 308.7H1196.5L1196.7 313.5H1197.1L1197.3 304H1197.7L1197.9 301.1H1198.3L1198.6 303.9H1199.1L1199.3 301.6H1199.6L1199.8 296.2H1200.4L1200.6 294H1200.9L1201.1 303.3H1201.6L1201.9 304.1H1202.2L1202.4 312.5H1202.7L1202.9 313.4H1203.2L1203.4 294.1H1203.8L1204.1 298.4H1204.5L1204.7 288.4H1205.2L1205.4 300.9H1205.8L1206 298.6H1206.3L1206.6 292.9H1207L1207.2 304.9H1207.6L1207.8 302.6H1208.2L1208.4 311.6H1208.7L1209 310.8H1209.5L1209.7 294.2H1210.1L1210.3 301.1H1210.7L1210.9 302H1211.5L1211.7 295H1212L1212.2 296.1H1212.5L1212.7 287.7H1213L1213.3 268H1213.8L1214 310H1214.3L1214.5 297.7H1215.1L1215.3 306.7H1215.6L1215.8 298.4H1216.2L1216.4 317.2H1216.8L1217 302.9H1217.4L1217.7 312.4H1218.1L1218.3 301.1H1218.7L1218.9 306.8H1219.2L1219.4 291.2H1219.8L1220.1 314.6H1220.4L1220.6 309.2H1220.9L1221.1 311.4H1221.5L1221.7 305.1H1222.2L1222.5 303.6H1223L1223.2 299.3H1223.5L1223.7 304H1224.1L1224.4 299.8H1224.8L1225 305H1225.4L1225.6 308H1225.9L1226.1 300.7H1226.7L1226.9 299H1227.3L1227.5 294.3H1227.9L1228.1 301.5H1228.5L1228.7 317.3H1229.3L1229.5 309.2H1229.9L1230.1 306.2H1230.5L1230.7 307.8H1231.1L1231.3 304.1H1231.9L1232.1 300.6H1232.5L1232.7 300H1233.2L1233.4 304.3H1233.7L1234 314.9H1234.3L1234.5 290.5H1234.9L1235.1 311.4H1235.5L1235.7 302.6H1236L1236.3 287H1236.8L1237 305H1237.4L1237.6 302.8H1238L1238.2 309.3H1238.8L1239 299.3H1239.4L1239.6 302.9H1239.9L1240.1 305.1H1240.5L1240.8 305.3H1241.3L1241.5 315.2H1241.9L1242.1 331H1242.6L1242.9 312.9H1243.4L1243.6 300.9H1244L1244.2 312.2H1244.6L1244.9 296.5H1245.3L1245.5 298.5H1245.9L1246.1 309.3H1246.4L1246.6 302.5H1247L1247.2 297.1H1247.8L1248 303.9H1248.4L1248.6 289.2H1249L1249.2 304.8H1249.6L1249.8 297.9H1250.2L1250.5 297.7H1250.9L1251.1 305.1H1251.5L1251.7 294.3H1252.1L1252.3 299.9H1252.7L1252.9 300.3H1253.2L1253.5 310.8H1253.9L1254.1 313.3H1254.6L1254.8 290.7H1255.4L1255.6 303.7H1256L1256.2 295H1256.6L1256.8 302.8H1257.3L1257.6 305.3H1258L1258.2 317H1258.6L1258.8 303.1H1259.2L1259.4 290.9H1259.8L1260 299.5H1260.4L1260.7 300.5H1261.1L1261.3 287.9H1261.6L1261.8 293.5H1262.3L1262.6 307.4H1263L1263.2 296.9H1263.7L1263.9 296H1264.4L1264.7 295.8H1265.2L1265.4 314.4H1265.9L1266.1 308.7H1266.5L1266.8 302.3H1267.1L1267.3 309.9H1267.7L1267.9 306.5H1268.3L1268.5 289.2H1268.9L1269.2 299.9H1269.7L1269.9 301.7H1270.3L1270.5 303.5H1270.9L1271.1 308H1271.5L1271.8 326H1272.1L1272.3 298.9H1272.7L1272.9 307.5H1273.4L1273.6 315H1274L1274.3 306.7H1274.8L1275 300.4H1275.3L1275.5 303.9H1275.9L1276.2 299.1H1276.7L1276.9 308.4H1277.4L1277.6 294.5H1278.2L1278.4 304.7H1278.8L1279 295.1H1279.5L1279.8 301.4H1280.3L1280.5 309.1H1281L1281.2 300.7H1281.6L1281.8 292.5H1282.2L1282.4 303.4H1282.7L1282.9 297H1283.3L1283.5 304.5H1284.1L1284.3 305H1284.7L1284.9 303H1285.3L1285.5 290.1H1286L1286.3 289.6H1286.6L1286.8 289.1H1287.1L1287.3 299.5H1287.7L1287.9 301.7H1288.5L1288.7 300.5H1289L1289.2 297.7H1289.7L1290 300.8H1290.5L1290.7 297.8H1291.2L1291.4 303.3H1291.8L1292 303.1H1292.3L1292.5 288.4H1292.8L1293 296.5H1293.4L1293.6 298.3H1294L1294.3 302.1H1294.7L1294.9 290.3H1295.2L1295.4 297.7H1295.8L1296 306.7H1296.3L1296.6 305.8H1297L1297.2 288.3H1297.5L1297.7 293.1H1298.2L1298.4 291.1H1299L1299.2 287H1299.5L1299.7 303.2H1300.1L1300.3 289.1H1300.7L1301 308.8H1301.4L1301.6 300.1H1302.1L1302.3 293.5H1302.6L1302.9 287.7H1303.2L1303.4 308.5H1303.8L1304 299.6H1304.5L1304.7 309.5H1305.3L1305.5 296.1H1305.9L1306.1 299.2H1306.5L1306.7 301.7H1307.1L1307.3 307.5H1307.7L1308 295.4H1308.5L1308.7 301.8H1309.2L1309.5 300.2H1310L1310.2 311.7H1310.5L1310.7 309.3H1311.2L1311.5 303.6H1311.9L1312.1 304.7H1312.4L1312.6 309.3H1313L1313.2 311.4H1313.5L1313.8 308.8H1314.1L1314.3 302.6H1314.6L1314.8 308.3H1315.1L1315.3 307.8H1315.7L1315.9 300.8H1316.3L1316.5 301.3H1316.8L1317 296.1H1317.5L1317.8 307.2H1318.3L1318.5 304H1318.9L1319.1 301.3H1319.4L1319.7 306.3H1320.2L1320.4 301H1320.8L1321 300.5H1321.4L1321.6 307.3H1321.9L1322.2 268.5H1322.7L1322.9 300.7H1323.2L1323.4 314.6H1323.8L1324.1 297.3H1324.5L1324.7 296.7H1325.2L1325.4 299.1H1325.8L1326 307.8H1326.4L1326.7 303.3H1327.2L1327.4 304H1327.8L1328 299.9H1328.3L1328.6 301.8H1328.9L1329.1 292.1H1329.5L1329.7 297.9H1330.1L1330.3 321H1330.7L1330.9 304.7H1331.3L1331.6 306H1332L1332.2 296.2H1332.7L1332.9 306.5H1333.3L1333.5 307.5H1334.1L1334.3 300.6H1334.8L1335 333H1335.6L1335.8 307.5H1336.2L1336.4 303.5H1336.7L1336.9 290.9H1337.3L1337.5 310.2H1338.1L1338.3 308.2H1338.6L1338.8 308.3H1339.2L1339.4 304.8H1339.7L1340 292.4H1340.4L1340.6 294.6H1341L1341.2 298.6H1341.5L1341.7 310.8H1342.1L1342.3 303.6H1342.7L1343 300.1H1343.5L1343.7 302.5H1344L1344.2 297H1344.6L1344.9 333.5H1345.4L1345.6 295.8H1346.1L1346.3 292.6H1346.9L1347.1 293.4H1347.6L1347.8 308.9H1348.1L1348.4 300.6H1348.7L1348.9 304.8H1349.2L1349.4 313.5H1349.8L1350 301H1350.6L1350.8 298.9H1351.2L1351.4 307.1H1351.8L1352 306.5H1352.4L1352.6 311.7H1353.2L1353.4 302.1H1353.8L1354 299.4H1354.5L1354.7 299H1355.1L1355.4 305.5H1355.8L1356 301.8H1356.5L1356.7 304.9H1357.3L1357.5 303.3H1357.9L1358.1 303.5H1358.5L1358.7 312H1359.1L1359.3 302.2H1359.7L1360 297.9H1360.4L1360.6 310.7H1361.1L1361.3 302.5H1361.6L1361.8 309.8H1362.2L1362.5 313.9H1362.9L1363.1 300.2H1363.5L1363.7 296.7H1364.1L1364.3 316.8H1364.8L1365.1 318.2H1365.6L1365.8 304.1H1366.2L1366.4 305.4H1366.8L1367.1 303.4H1367.5L1367.7 313.2H1368.2L1368.4 320.1H1368.8L1369 301.5H1369.3L1369.6 296H1369.9L1370.1 309.2H1370.4L1370.6 304H1371.1L1371.4 307.2H1371.8L1372 308.9H1372.5L1372.7 311H1373.1L1373.3 296.1H1373.9L1374.1 306.5H1374.4L1374.6 301.5H1375.1L1375.4 317.5H1375.7L1375.9 294.1H1376.3L1376.5 304.2H1376.9L1377.1 311.2H1377.4L1377.7 301H1378.1L1378.3 300.2H1378.8L1379 303.4H1379.3L1379.5 304.6H1379.9L1380.1 310.1H1380.4L1380.6 297.4H1381L1381.2 303H1381.7L1382 298.6H1382.4L1382.6 297.4H1383L1383.2 296.6H1383.6L1383.8 299.8H1384.2L1384.4 302.2H1384.8L1385.1 307.6H1385.6L1385.8 309.4H1386.1L1386.3 295H1386.7L1387 302.7H1387.3L1387.5 314.4H1388L1388.2 307.1H1388.6L1388.8 302.7H1389.2L1389.5 314H1390L1390.2 304.8H1390.6L1390.8 299.6H1391.2L1391.4 301.3H1391.8L1392.1 302.6H1392.5L1392.7 299H1393.1L1393.3 294.4H1393.7L1393.9 297.2H1394.2L1394.5 298.2H1394.9L1395.1 320.4H1395.6L1395.8 299.2H1396.3L1396.6 308.3H1396.9L1397.1 301.7H1397.5L1397.7 288.9H1398.1L1398.3 299.1H1398.7L1399 302.4H1399.3L1399.5 296.4H1399.8L1400 330H1400.4L1400.6 306.1H1401.1L1401.4 296.9H1401.8L1402 304.2H1402.4L1402.6 295.1H1403.1L1403.4 311.6H1403.8L1404 300.3H1404.4L1404.6 297.1H1405L1405.2 305.2H1405.6L1405.8 302.9H1406.2L1406.5 305.8H1406.9L1407.1 300.4H1407.6L1407.8 299.3H1408.2L1408.4 291.6H1408.8L1409.1 304.6H1409.4L1409.6 297H1410L1410.2 293.6H1410.6L1410.8 294.5H1411.3L1411.6 301.8H1412L1412.2 298.4H1412.6L1412.8 301.8H1413.3L1413.6 310.5H1414L1414.2 301.9H1414.6L1414.8 313.1H1415.3L1415.5 303.6H1415.9L1416.2 297.5H1416.5L1416.7 298.9H1417.1L1417.3 297H1417.8L1418 298.5H1418.6L1418.8 297.5H1419.3L1419.5 309.6H1419.9L1420.2 306.9H1420.6L1420.8 290.8H1421.3L1421.5 301.1H1421.8L1422 296.1H1422.6L1422.8 304.9H1423.1L1423.3 283.7H1423.6L1423.8 304.8H1424.2L1424.4 306.7H1424.9L1425.1 294.7H1425.6L1425.9 296.7H1426.3L1426.5 295.8H1426.8L1427 306.7H1427.3L1427.5 303.1H1427.8L1428.1 304.8H1428.6L1428.8 304.9H1429.3L1429.5 297.5H1429.9L1430.2 308.5H1430.5L1430.7 303.3H1431.1L1431.3 308.2H1431.6L1431.8 307.6H1432.4L1432.6 305H1432.9L1433.1 292.7H1433.6L1433.9 290.9H1434.4L1434.6 301H1435L1435.2 297.3H1435.7L1436 294.2H1436.5L1436.7 301.7H1437.1L1437.3 309.5H1437.6L1437.9 295H1438.3L1438.5 295H1438.9L1439.1 297.8H1439.4L1439.6 304.6H1440.1L1440.4 313.1H1440.8L1441 308.7H1441.4L1441.6 306.9H1441.9L1442.1 299.3H1442.4L1442.7 299.6H1443.1L1443.3 295.4H1443.7L1443.9 305.1H1444.3L1444.5 305.2H1444.9L1445.1 329H1445.5L1445.8 304.7H1446.2L1446.4 308.8H1446.8L1447 295.4H1447.4L1447.6 314.5H1448.1L1448.4 293.1H1448.9L1449.1 294.3H1449.5L1449.7 305H1450.1L1450.3 295.6H1450.7L1451 306.4H1451.4L1451.6 298.9H1452.1L1452.3 307.2H1452.6L1452.9 314.7H1453.2L1453.4 299.4H1453.8L1454 299.7H1454.4L1454.6 298.1H1455.2L1455.4 327H1455.7L1455.9 303.7H1456.3L1456.5 296.6H1457L1457.3 309.2H1457.6L1457.8 296.9H1458.3L1458.5 298.1H1458.8L1459.1 294.6H1459.5L1459.7 312.9H1460.1L1460.3 304.3H1460.7L1460.9 297.6H1461.2L1461.4 303.9H1461.8L1462 287.6H1462.4L1462.6 302.2H1463.1L1463.3 301.4H1463.7L1464 292.4H1464.5L1464.7 294.8H1465.2L1465.4 308.5H1465.8L1466.1 297H1466.4L1466.6 295.3H1467L1467.2 302.5H1467.5L1467.7 303.2H1468.1L1468.4 309.4H1468.7L1468.9 304.1H1469.3L1469.5 301.7H1469.8L1470 298.4H1470.6L1470.8 306.5H1471.3L1471.5 296.7H1471.9L1472.1 303H1472.5L1472.8 309H1473.2L1473.4 301.8H1473.9L1474.1 304.5H1474.5L1474.7 295.5H1475.1L1475.4 304.6H1475.9L1476.1 305.5H1476.6L1476.9 299.6H1477.2L1477.4 305.3H1477.9L1478.1 304.5H1478.5L1478.7 296.7H1479.3L1479.5 313.5H1479.8L1480 285.8H1480.3L1480.5 297.9H1480.9L1481.2 306H1481.6L1481.8 311.6H1482.1L1482.3 305.3H1482.7L1482.9 301.6H1483.3L1483.6 317.3H1484L1484.2 310.5H1484.7L1484.9 313.4H1485.3L1485.5 306.3H1485.9L1486.2 305.8H1486.5L1486.7 304.6H1487.2L1487.4 307.6H1487.9L1488.2 307.7H1488.5L1488.7 318.2H1489.1L1489.3 297.8H1489.7L1489.9 279H1490.3L1490.6 305.8H1491.1L1491.3 315.6H1491.7L1491.9 304.5H1492.3L1492.5 300.8H1493.1L1493.3 301.4H1493.8L1494 312.8H1494.4L1494.6 310.3H1495.2L1495.4 306.2H1495.8L1496 297.6H1496.4L1496.6 303.8H1497.2L1497.4 304H1497.8L1498 308H1498.4L1498.6 310.6H1499L1499.2 293.6H1499.8L1500 305.7H1500.4L1500.6 303.5H1501L1501.2 304H1501.7L1502 308.4H1502.3L1502.5 304.3H1502.8L1503 322.2H1503.5L1503.8 313.5H1504.1L1504.3 301.3H1504.8L1505 309.5 L1505.5 302L1557 302" stroke="#611425" stroke-width="0.75"/>
<path d="M1084.9 356H1167.6V338.2H1507.3V356H1557" stroke="#eaa2b3" stroke-width="1.5" opacity="0.5"/>
<path d="M1168.6 357V339.2H1506.3V357Z" fill="#ad6378" fill-opacity="0.86" stroke="none"/>
<path d="M1084.9 357H1168.6M1506.3 357H1557" stroke="#b65f72" stroke-width="1.05"/>
<path d="M1168.6 357.5V339.2H1506.3V357.5" stroke="#83283a" stroke-width="1.1500000000000001"/>
</g>
<g filter="url(#bl)">
<rect x="803.3" y="68.7" width="106.7" height="97.5" rx="1.5" fill="none" stroke="#cf3531" stroke-width="3.8"/>
<rect x="801.4" y="210" width="104.4" height="103" rx="1.5" fill="none" stroke="#cf3531" stroke-width="3.8"/>
<polygon points="924,95.1 971,140.5 966.2,142 980.5,145.2 975.8,131.3 974.8,136.3 924.6,94.5" fill="#d23a38"/>
<polygon points="921.1,243.1 965.8,282.1 961,283.9 975.5,286.3 970,272.7 969.3,277.7 921.7,242.5" fill="#d23a38"/>
<text transform="translate(934.2 195.8) scale(1 1.0)" font-family='"Liberation Serif", "Noto Serif CJK SC", serif' font-size="51.5" font-weight="500" fill="#151515" stroke="#151515" stroke-width="0.4">测试</text>
<text transform="translate(934.2 339.5) scale(1 1.0)" font-family='"Liberation Serif", "Noto Serif CJK SC", serif' font-size="51.5" font-weight="500" fill="#151515" stroke="#151515" stroke-width="0.4">对照</text>
</g>
<rect x="9" y="552.8" width="176.3" height="329.1" fill="#b6b4b5"/>
<rect x="189.5" y="552.8" width="46.7" height="329.1" fill="#b6b4b5"/>
<rect x="241.8" y="552.8" width="526.9" height="329.1" fill="#c9cacc"/>
<rect x="9" y="576.8" width="176.3" height="38" fill="url(#hg)"/>
<rect x="189.5" y="576.8" width="46.7" height="38" fill="url(#hg)"/>
<rect x="9" y="552.8" width="227.2" height="24" fill="#bab8b9"/>
<rect x="9" y="552.8" width="759.7" height="2.2" fill="#0d0d0f"/>
<line x1="298.5" y1="617.5" x2="298.5" y2="881.9" stroke="#a0a0a3" stroke-width="1.1"/>
<line x1="364.5" y1="617.5" x2="364.5" y2="881.9" stroke="#a0a0a3" stroke-width="1.1"/>
<line x1="429.5" y1="617.5" x2="429.5" y2="881.9" stroke="#a0a0a3" stroke-width="1.1"/>
<line x1="495.5" y1="617.5" x2="495.5" y2="881.9" stroke="#a0a0a3" stroke-width="1.1"/>
<line x1="561.5" y1="617.5" x2="561.5" y2="881.9" stroke="#a0a0a3" stroke-width="1.1"/>
<line x1="627.5" y1="617.5" x2="627.5" y2="881.9" stroke="#a0a0a3" stroke-width="1.1"/>
<line x1="692.5" y1="617.5" x2="692.5" y2="881.9" stroke="#a0a0a3" stroke-width="1.1"/>
<line x1="758.5" y1="617.5" x2="758.5" y2="881.9" stroke="#a0a0a3" stroke-width="1.1"/>
<g filter="url(#bl)">
<text x="0" y="0" font-family='"Liberation Sans", sans-serif' font-size="14" font-weight="bold" fill="#1a1a1a" text-anchor="middle" transform="translate(214.2 601) scale(0.69 1)" stroke="#1a1a1a" stroke-width="0.45">Value</text>
<text x="0" y="0" font-family='"Liberation Serif", "Noto Serif CJK SC", serif' font-size="14.6" font-weight="bold" fill="#1a1a1a" text-anchor="middle" transform="translate(312.4 602.9) scale(0.7 1)">1, 200</text>
<text x="0" y="0" font-family='"Liberation Serif", "Noto Serif CJK SC", serif' font-size="14.6" font-weight="bold" fill="#1a1a1a" text-anchor="middle" transform="translate(378.1 602.9) scale(0.7 1)">1, 300</text>
<text x="0" y="0" font-family='"Liberation Serif", "Noto Serif CJK SC", serif' font-size="14.6" font-weight="bold" fill="#1a1a1a" text-anchor="middle" transform="translate(443.9 602.9) scale(0.7 1)">1, 400</text>
<text x="0" y="0" font-family='"Liberation Serif", "Noto Serif CJK SC", serif' font-size="14.6" font-weight="bold" fill="#1a1a1a" text-anchor="middle" transform="translate(509.6 602.9) scale(0.7 1)">1, 500</text>
<text x="0" y="0" font-family='"Liberation Serif", "Noto Serif CJK SC", serif' font-size="14.6" font-weight="bold" fill="#1a1a1a" text-anchor="middle" transform="translate(575.4 602.9) scale(0.7 1)">1, 600</text>
<text x="0" y="0" font-family='"Liberation Serif", "Noto Serif CJK SC", serif' font-size="14.6" font-weight="bold" fill="#1a1a1a" text-anchor="middle" transform="translate(641.1 602.9) scale(0.7 1)">1, 700</text>
<text x="0" y="0" font-family='"Liberation Serif", "Noto Serif CJK SC", serif' font-size="14.6" font-weight="bold" fill="#1a1a1a" text-anchor="middle" transform="translate(706.9 602.9) scale(0.7 1)">1, 800</text>
<text x="0" y="0" font-family='"Liberation Serif", "Noto Serif CJK SC", serif' font-size="14.6" font-weight="bold" fill="#1a1a1a" text-anchor="start" transform="translate(759.5 602.9) scale(0.7 1)">1,</text>
<rect x="30.3" y="616.2" width="62" height="100.3" fill="none" stroke="#759cbb" stroke-width="1.8"/>
<rect x="192.2" y="616.2" width="41.6" height="100.3" fill="none" stroke="#759cbb" stroke-width="1.8"/>
<path d="M9.6 663.4l3.8 4.6l-3.8 4.6" fill="none" stroke="#8f8d8e" stroke-width="1"/>
<g transform="translate(19.8 666.6) scale(1.0 1.5)"><rect x="0" y="-4" width="9.5" height="5.8" rx="1" fill="#a2c4db"/><rect x="2" y="-2.7" width="1.6" height="3" fill="#edf3f7"/><rect x="5.9" y="-2.7" width="1.6" height="3" fill="#edf3f7"/><circle cx="4.75" cy="2" r="1.9" fill="#dde8f0" stroke="#7fa9c4" stroke-width="0.7"/></g>
<text x="0" y="0" font-family='"Liberation Sans", sans-serif' font-size="15" font-weight="normal" fill="#1a1a1a" text-anchor="start" transform="translate(31 671.9) scale(0.645 1)" stroke="#1a1a1a" stroke-width="0.5">ADC_A[31:0]</text>
<text x="0" y="0" font-family='"Liberation Sans", sans-serif' font-size="15" font-weight="normal" fill="#1a1a1a" text-anchor="start" transform="translate(194 671.9) scale(0.62 1)" stroke="#1a1a1a" stroke-width="0.5">65565</text>
<g transform="translate(19.6 767.7) scale(1.0 1.5)"><rect x="0" y="-4" width="9.5" height="5.8" rx="1" fill="#a2c4db"/><rect x="2" y="-2.7" width="1.6" height="3" fill="#edf3f7"/><rect x="5.9" y="-2.7" width="1.6" height="3" fill="#edf3f7"/><circle cx="4.75" cy="2" r="1.9" fill="#dde8f0" stroke="#7fa9c4" stroke-width="0.7"/></g>
<text x="0" y="0" font-family='"Liberation Sans", sans-serif' font-size="14.8" font-weight="normal" fill="#1a1a1a" text-anchor="start" transform="translate(30.8 772.4) scale(0.65 1)" stroke="#1a1a1a" stroke-width="0.5">ADC_B131:0]</text>
<text x="0" y="0" font-family='"Liberation Sans", sans-serif' font-size="14.8" font-weight="normal" fill="#1a1a1a" text-anchor="start" transform="translate(194 772.4) scale(0.63 1)" stroke="#1a1a1a" stroke-width="0.5">262146</text>
<g transform="translate(20 833.3) scale(1.0 1.55)"><path d="M0 -2.4L1 -4H3V4H0.8V-2.2Z" fill="#5aa969"/><rect x="3.5" y="-4" width="5" height="8" rx="1.7" fill="#6ab377"/><rect x="5.1" y="-2.7" width="1.8" height="2" rx="0.6" fill="#a5d3ad"/><circle cx="6" cy="2.1" r="1.55" fill="#e6f1e7" stroke="#5aa969" stroke-width="0.55"/></g>
<text x="0" y="0" font-family='"Liberation Sans", sans-serif' font-size="14.8" font-weight="normal" fill="#1a1a1a" text-anchor="start" transform="translate(31 837.5) scale(0.647 1)" stroke="#1a1a1a" stroke-width="0.5">bram_data_valid</text>
<text x="0" y="0" font-family='"Liberation Sans", sans-serif' font-size="14.8" font-weight="normal" fill="#1a1a1a" text-anchor="start" transform="translate(194.5 837.5) scale(0.63 1)" stroke="#1a1a1a" stroke-width="0.5">0</text>
</g>
<g fill="none" stroke-linejoin="round" filter="url(#bl2)">
<path d="M241.8 708.9C263.8 708.9 350.6 709.1 374 708.9C382 708.6 379 708.3 382 707.4C385 706.5 389.1 703.7 391.8 703.6C394.5 703.5 395.8 705.1 398 707C400.2 708.9 402.9 714.7 404.9 714.9C406.9 715.1 408.1 713.8 410 708C411.9 702.2 414.2 689.7 416 680C417.8 670.3 419.5 658.7 421 650C422.5 641.3 423.6 633 425 628C426.4 623 427.6 621.2 429.1 620.2C430.6 619.2 432.4 620.5 434 622C435.6 623.5 437.2 626.9 439 629C440.8 631.1 441.5 633.6 445 634.6C448.5 635.6 455 634.4 460 635C465 635.6 469.5 637.5 475 638.5C480.5 639.5 487.2 640.7 493 641.3C498.8 641.9 504.4 641.6 510 642.2C515.6 642.8 522.2 644.7 526.9 644.9C531.6 645.1 534.1 644.3 538 643.6C541.9 642.9 545.5 641.2 550 640.6C554.5 640 560.5 640 565 640.2C569.5 640.4 573.7 641.8 576.7 641.6C579.7 641.4 580.6 640.3 583 639C585.4 637.7 588.7 634.1 590.9 633.9C593.1 633.7 594.3 634.5 596 638C597.7 641.5 599.2 647.2 601 655C602.8 662.8 605.3 677 607 685C608.7 693 609.5 698.3 611 703C612.5 707.7 614.1 712.2 615.8 713.2C617.5 714.2 619.3 710.8 621 709C622.7 707.2 624.3 704 626 702.6C627.7 701.2 629 700.5 631 700.8C633 701.1 635.5 703.4 638 704.4C640.5 705.4 640.7 706.5 646 707C651.3 707.5 662.7 706.8 670 707.2C677.3 707.6 683.3 709 690 709.2C696.7 709.4 704.7 708.4 710 708.6C715.3 708.8 717.8 710.2 722 710.2C726.2 710.2 731.8 709.2 735 708.8C738.2 708.4 738.5 707.5 741 707.6C743.5 707.7 745.4 709.2 750 709.4C754.6 709.6 765.6 708.9 768.7 708.8" stroke="#30309a" stroke-width="1.9"/>
<path d="M241.8 774L304.5 774L305.5 772.6L369.7 772.6L369.7 749.4H370.3L370.5 760.7H370.9L371.1 763.6H371.6L371.8 757.7H372.3L372.5 768.8H373L373.2 777H373.7L373.9 765.4H374.4L374.6 770.6H375.3L375.5 784.1H376L376.2 752.3H376.7L376.9 757.8H377.4L377.6 758.1H378.2L378.4 773.3H378.9L379.1 778.8H379.6L379.8 767.1H380.3L380.5 773.7H381.1L381.4 766.8H381.8L382.1 752.1H382.5L382.8 787.4H383.4L383.6 768.3H384.1L384.3 770.8H384.8L385 805H385.4L385.6 779.4H386.2L386.4 770.7H387L387.3 761.7H387.7L388 780.6H388.3L388.6 774.5H388.9L389.2 758.2H389.8L390 782.8H390.5L390.7 762.9H391.3L391.5 767.7H392L392.2 770.4H392.6L392.8 781.2H393.2L393.4 757.7H393.9L394.1 765.6H394.5L394.7 771.5H395.1L395.3 771.9H395.9L396.2 777.7H396.6L396.9 747.6H397.5L397.7 772.5H398.3L398.5 776.9H399.2L399.4 770.9H399.9L400.1 761.4H400.7L400.9 770.8H401.3L401.5 775.5H402.1L402.4 753.4H402.8L403.1 767.1H403.5L403.8 768.7H404.4L404.6 760.7H405.1L405.3 743.2H405.7L405.9 770.8H406.3L406.5 768.8H407.1L407.3 806H407.9L408.2 773.4H408.6L408.9 760.8H409.3L409.6 775.4H410L410.3 762.1H410.7L411 764.4H411.6L411.8 769.4H412.3L412.5 764H413.1L413.3 772.8H413.8L414 760.8H414.5L414.7 771.3H415.2L415.4 772.7H415.8L416 771H416.7L416.9 759.2H417.4L417.6 753.4H418L418.2 757.7H418.7L418.9 757.9H419.4L419.6 761.3H420.1L420.3 756.6H420.9L421.1 750.5H421.6L421.8 765.5H422.2L422.4 756.3H422.9L423.1 755.8H423.6L423.8 727H424.3L424.5 761.1H425L425.2 759.7H425.8L426 776.6H426.5L426.7 750.9H427.1L427.3 767H427.8L428 761.7H428.4L428.6 764.1H429L429.2 774.5H429.6L429.8 768H430.3L430.5 755.5H431.1L431.4 744.2H431.8L432.1 762.9H432.4L432.7 761.8H433L433.3 751.6H433.7L434 770.9H434.3L434.6 776.3H435L435.3 782.5H435.9L436.1 788.4H436.7L436.9 773.4H437.6L437.8 776.2H438.4L438.6 773.3H439.2L439.5 772.1H439.9L440.2 756.1H440.6L440.9 761H441.3L441.6 784.7H442.2L442.4 756.7H442.9L443.1 768.5H443.7L443.9 769.2H444.4L444.6 781.2H445L445.2 774H445.7L445.9 760H446.4L446.6 774.9H447.1L447.3 773.8H447.9L448.2 771.8H448.6L448.9 761.1H449.3L449.6 747.3H449.9L450.2 772.9H450.5L450.8 766.9H451.2L451.5 772.8H451.8L452.1 741.5H452.7L452.9 725H453.4L453.6 771.8H454.1L454.3 766.3H454.8L455 767.9H455.5L455.7 757.7H456.3L456.5 769.4H457L457.2 783.4H457.7L457.9 767.2H458.3L458.5 767.8H458.9L459.1 778.2H459.6L459.8 760H460.3L460.5 772.2H461L461.2 761.7H461.8L462.1 775.8H462.5L462.8 787H463.2L463.5 786.5H463.9L464.2 769.8H464.6L464.9 767.8H465.3L465.6 752H466.2L466.4 763.2H466.9L467.1 764H467.7L467.9 779.2H468.4L468.6 782H469.1L469.3 762.1H469.7L469.9 769H470.4L470.6 777.1H471.1L471.3 776.6H472L472.2 769.1H472.7L472.9 755.7H473.5L473.7 770.6H474.1L474.3 756.8H474.7L474.9 767.5H475.5L475.7 770.2H476.4L476.6 763.7H477.1L477.3 765.8H477.7L477.9 758.8H478.4L478.6 756.6H479.1L479.3 766.9H479.8L480 765.1H480.6L480.8 768.2H481.2L481.4 768.7H481.9L482.1 749H482.6L482.8 752.9H483.4L483.7 745.1H484.3L484.5 779.9H485L485.2 755.9H485.8L486 762.4H486.7L486.9 772.8H487.3L487.5 766H488L488.2 760.7H488.5L488.8 756H489.4L489.6 758.7H490.1L490.3 776.6H490.9L491.1 783.8H491.5L491.7 780.6H492.2L492.4 762.8H492.9L493.1 769.1H493.6L493.8 768.7H494.2L494.4 778.5H495.1L495.3 746.3H495.8L496 778.8H496.4L496.6 773.3H496.9L497.2 801H497.5L497.8 780.4H498.2L498.5 773.8H498.9L499.2 772.4H499.6L499.9 787.4H500.5L500.7 743H501.2L501.4 759.9H501.9L502.1 765.1H502.7L502.9 752.5H503.3L503.5 760.6H504.2L504.4 769.4H504.8L505 771.8H505.5L505.7 781.4H506.3L506.5 789.7H507.1L507.4 752.1H507.7L507.9 778.4H508.6L508.8 756.1H509.4L509.6 773.6H510L510.2 767.8H510.8L511.1 778.7H511.5L511.8 761.4H512.4L512.6 760H513L513.2 756.9H513.7L513.9 792.3H514.4L514.6 767.9H515L515.2 770.6H515.8L516 769.4H516.4L516.6 762.9H517.1L517.3 722H517.8L518 781.7H518.6L518.9 779.6H519.5L519.7 762.7H520.2L520.4 779.1H520.9L521.1 745.1H521.6L521.8 752.2H522.2L522.4 767.7H522.9L523.1 765.8H523.5L523.7 766.6H524.2L524.4 790.6H525L525.2 774.5H525.9L526.1 774.3H526.6L526.8 766.2H527.2L527.4 766.7H527.9L528.1 751.4H528.6L528.8 754.5H529.3L529.5 771.9H530L530.2 785.2H530.7L530.9 771H531.2L531.5 772.6H531.8L532.1 764.9H532.7L532.9 773.5H533.4L533.6 745.8H534.2L534.4 764.4H534.9L535.1 768.5H535.8L536 772.5H536.6L536.8 760.7H537.3L537.5 769.3H538.1L538.4 756.8H538.8L539.1 771.2H539.4L539.7 758.6H540.1L540.4 769.4H540.8L541.1 777.4H541.7L541.9 761.3H542.3L542.5 773.5H543L543.2 780.4H543.8L544 742.5H544.7L544.9 758.1H545.5L545.7 791.2H546.1L546.3 757.5H546.9L547.2 745.5H547.6L547.9 768.7H548.5L548.7 769H549.1L549.3 762.3H549.8L550 773H550.5L550.7 771.5H551.1L551.3 761.7H551.7L551.9 771.8H552.3L552.5 764.6H553L553.2 727H553.7L553.9 768.9H554.4L554.6 741.2H555.1L555.3 787.7H555.8L556 757.7H556.3L556.6 780.5H557.2L557.4 751.1H557.9L558.1 781.1H558.6L558.8 758.2H559.4L559.6 758.3H560.1L560.3 755.8H560.8L561 749H561.7L561.9 764.5H562.4L562.6 763H563.2L563.4 773.8H563.9L564.1 760.2H564.6L564.8 793.9H565.3L565.5 769.2H566.1L566.4 770.8H566.7L567 747.8H567.3L567.6 768.3H568L568.3 755.7H568.6L568.9 767.2H569.3L569.6 766.5H570L570.3 774.7H570.9L571.1 765H571.7L571.9 774.3H572.6L572.8 773.5H573.1L573.4 746.1H573.7L574 778H574.6L574.8 776.9H575.4L575.6 771.9H576.1L576.3 770.7H577L577.2 773.8H577.8L578 767.7H578.5L578.7 773.5H579.2L579.4 767.8H579.8L580 757.9H580.6L580.9 752.4H581.3L581.6 766.8H582L582.3 771.5H582.7L583 806H583.4L583.7 762.7H584L584.3 783.7H584.6L584.8 764.9H585.3L585.5 761.8H586.2L586.4 767.7H586.9L587.1 780.2H587.5L587.7 772H588.2L588.4 757.2H588.9L589.1 780.8H589.5L589.7 760.1H590.1L590.3 768.1H590.9L591.1 761.3H591.6L591.8 754.5H592.4L592.7 728H593.1L593.4 778.9H593.7L593.9 760.5H594.3L594.5 772.2H594.9L595.1 757.7H595.5L595.7 765.4H596.4L596.6 766.9H597.2L597.4 761.7H597.9L598.1 747.5H598.7L599 760H599.4L599.7 754.6H600.1L600.4 763.9H601L601.2 766.8H601.7L601.9 764.8H602.4L602.6 761.4H603.1L603.3 784.4H603.8L604 747.8H604.5L604.7 748.5H605.2L605.4 780.1H605.9L606.1 769.7H606.7L606.9 778.7H607.4L607.6 767.7H608.3L608.5 777.8H609.1L609.3 769.4H609.8L610 761.5H610.6L610.9 765.6H611.3L611.6 768.9H612L612.3 769.1H612.6L612.8 773.9H613.3L613.5 771.9H614.2L614.4 765.9H614.8L615 786.6H615.6L615.8 766.4H616.4L616.7 785.5H617.1L617.4 749.5H617.8L618.1 765.2H618.7L618.9 757.6H619.4L619.6 768.1H620.2L620.4 756.5H621.1L621.3 749.2H621.8L622 774.5H622.6L622.8 756.7H623.3L623.5 765.9H623.9L624.1 776H624.6L624.8 768H625.3L625.5 757H626.1L626.4 764.5H626.8L627.1 721.5H627.5L627.8 773H628.4L628.6 771H629.2L629.4 815.5H629.9L630.1 774.4H630.6L630.8 758.6H631.5L631.7 774.8H632.2L632.4 763.3H633L633.2 768H633.8L634.1 770.8H634.7L634.9 748H635.4L635.6 775.9H636.1L636.3 768.2H636.8L637 753.7H637.6L637.8 763.1H638.3L638.5 765.1H639L639.2 756.4H639.6L639.8 744.1H640.2L640.4 767.7H640.9L641.1 751.5H641.6L641.8 775.9H642.3L642.5 764.9H643.1L643.4 749.4H644L644.2 763.6H644.7L644.9 740.6H645.4L645.6 757.6H646.1L646.3 775.7H646.8L647 763.7H647.6L647.8 768.4H648.5L648.7 749.1H649.2L649.4 757.1H650L650.2 770H650.8L651.1 760H651.4L651.7 778H652.3L652.5 796.5H652.9L653.1 768.7H653.6L653.8 750H654.4L654.6 742.7H655L655.2 756.3H655.6L655.8 782.7H656.3L656.5 761.4H657L657.2 759.9H657.7L657.9 773.3H658.4L658.6 756.1H659.1L659.3 755.2H659.7L659.9 760H660.5L660.8 770.6H661.2L661.5 761.2H662.1L662.3 770H662.7L662.9 763.1H663.3L663.5 758.6H664.1L664.3 769.8H664.8L665 733H665.7L665.9 794.2H666.4L666.6 758.4H667.1L667.3 771.2H667.6L667.9 731.8H668.3L668.6 750.1H669L669.3 776.1H669.9L670.1 779.6H670.6L670.8 763.5H671.3L671.5 776.9H672L672.2 749.9H672.6L672.8 758.1H673.3L673.5 759.9H673.9L674.1 766.8H674.7L674.9 758.9H675.4L675.6 766H676.3L676.5 743H677L677.2 756.5H677.7L677.9 754.9H678.4L678.6 750.9H679.2L679.4 764.1H679.9L680.1 770.1H680.6L680.8 758.2H681.3L681.5 777.4H681.9L682.1 767.3H682.6L682.8 775.9H683.2L683.4 768.1H683.8L684 758.3H684.5L684.7 773.4H685.2L685.4 771.8H686L686.2 767.6H686.7L686.9 757.1H687.4L687.6 777.5H688.1L688.3 790.7H688.8L689 725H689.5L689.7 729.8H690.2L690.4 769.5H690.9L691.1 770.9H691.6L691.8 760.6H692.5L692.7 757.8H693.2L693.4 777.2H693.9L694.1 765H694.6L694.8 767.4H695.4L695.6 758.4H696.1L696.3 749.4H696.7L696.9 788.9H697.3L697.5 765H698.1L698.4 774.9H699L699.2 770.4H699.8L700 776.2H700.4L700.6 763.2H701.1L701.3 757.9H701.8L702 780H702.6L702.9 769.1H703.2L703.5 753.2H703.9L704.2 781.8H704.5L704.8 757.8H705.2L705.5 769.8H705.8L706.1 769.3H706.5L706.8 778.2H707.4L707.6 758.6H708.1L708.3 785H708.8L709 758.1H709.4L709.6 758H710L710.2 753.1H710.8L711 761.2H711.5L711.7 756.5H712.2L712.4 779.4H713L713.3 766.6H713.7L714 763.2H714.4L714.7 784.1H715.1L715.4 777.2H715.8L716.1 777.2H716.5L716.8 770H717.4L717.6 772.6H718.2L718.4 753H719.1L719.3 723.5H719.7L719.9 766.5H720.4L720.6 765.1H721.2L721.4 770.6H721.8L722 776.7H722.6L722.9 748.3H723.3L723.6 754.2H724L724.3 763.7H724.9L725.1 771H725.6L725.8 753.6H726.3L726.5 768.1H727L727.2 772.3H727.8L728 783.1H728.5L728.7 766.7H729.1L729.3 755.7H729.7L729.9 760.6H730.4L730.6 761.8H731L731.2 759.6H731.7L731.9 768.5H732.4L732.6 768.3H733.1L733.3 763.6H733.7L733.9 741H734.3L734.5 752.1H735L735.2 769.2H735.7L735.9 761.7H736.3L736.5 775.4H737.1L737.3 760.6H738L738.2 760.9H738.6L738.8 759.6H739.3L739.5 759H739.9L740.1 765.7H740.7L740.9 775.2H741.5L741.8 778.3H742.4L742.6 765.6H743L743.2 771.2H743.8L744 764.6H744.6L744.9 773.5H745.5L745.7 769.8H746.2L746.4 772.8H747L747.2 759.3H747.7L747.9 768.4H748.3L748.5 766.1H749.2L749.4 761.3H749.8L750 777.8H750.6L750.8 723H751.3L751.5 767.2H752L752.2 760.7H752.8L753.1 771.8H753.5L753.8 754.5H754.2L754.5 767H755.1L755.3 768.8H755.8L756 787.2H756.5L756.7 768.5H757.1L757.3 796H757.7L757.9 758.5H758.5L758.7 733.5H759.2L759.4 771.1H760L760.3 760.6H760.9L761.1 733.4H761.5L761.7 772.8 L762.3 765L768.7 765" stroke="#c27486" stroke-width="1.9" opacity="0.5"/>
<path d="M241.8 774L304.5 774L305.5 772.6L369.7 772.6L369.7 749.4H370.3L370.5 760.7H370.9L371.1 763.6H371.6L371.8 757.7H372.3L372.5 768.8H373L373.2 777H373.7L373.9 765.4H374.4L374.6 770.6H375.3L375.5 784.1H376L376.2 752.3H376.7L376.9 757.8H377.4L377.6 758.1H378.2L378.4 773.3H378.9L379.1 778.8H379.6L379.8 767.1H380.3L380.5 773.7H381.1L381.4 766.8H381.8L382.1 752.1H382.5L382.8 787.4H383.4L383.6 768.3H384.1L384.3 770.8H384.8L385 805H385.4L385.6 779.4H386.2L386.4 770.7H387L387.3 761.7H387.7L388 780.6H388.3L388.6 774.5H388.9L389.2 758.2H389.8L390 782.8H390.5L390.7 762.9H391.3L391.5 767.7H392L392.2 770.4H392.6L392.8 781.2H393.2L393.4 757.7H393.9L394.1 765.6H394.5L394.7 771.5H395.1L395.3 771.9H395.9L396.2 777.7H396.6L396.9 747.6H397.5L397.7 772.5H398.3L398.5 776.9H399.2L399.4 770.9H399.9L400.1 761.4H400.7L400.9 770.8H401.3L401.5 775.5H402.1L402.4 753.4H402.8L403.1 767.1H403.5L403.8 768.7H404.4L404.6 760.7H405.1L405.3 743.2H405.7L405.9 770.8H406.3L406.5 768.8H407.1L407.3 806H407.9L408.2 773.4H408.6L408.9 760.8H409.3L409.6 775.4H410L410.3 762.1H410.7L411 764.4H411.6L411.8 769.4H412.3L412.5 764H413.1L413.3 772.8H413.8L414 760.8H414.5L414.7 771.3H415.2L415.4 772.7H415.8L416 771H416.7L416.9 759.2H417.4L417.6 753.4H418L418.2 757.7H418.7L418.9 757.9H419.4L419.6 761.3H420.1L420.3 756.6H420.9L421.1 750.5H421.6L421.8 765.5H422.2L422.4 756.3H422.9L423.1 755.8H423.6L423.8 727H424.3L424.5 761.1H425L425.2 759.7H425.8L426 776.6H426.5L426.7 750.9H427.1L427.3 767H427.8L428 761.7H428.4L428.6 764.1H429L429.2 774.5H429.6L429.8 768H430.3L430.5 755.5H431.1L431.4 744.2H431.8L432.1 762.9H432.4L432.7 761.8H433L433.3 751.6H433.7L434 770.9H434.3L434.6 776.3H435L435.3 782.5H435.9L436.1 788.4H436.7L436.9 773.4H437.6L437.8 776.2H438.4L438.6 773.3H439.2L439.5 772.1H439.9L440.2 756.1H440.6L440.9 761H441.3L441.6 784.7H442.2L442.4 756.7H442.9L443.1 768.5H443.7L443.9 769.2H444.4L444.6 781.2H445L445.2 774H445.7L445.9 760H446.4L446.6 774.9H447.1L447.3 773.8H447.9L448.2 771.8H448.6L448.9 761.1H449.3L449.6 747.3H449.9L450.2 772.9H450.5L450.8 766.9H451.2L451.5 772.8H451.8L452.1 741.5H452.7L452.9 725H453.4L453.6 771.8H454.1L454.3 766.3H454.8L455 767.9H455.5L455.7 757.7H456.3L456.5 769.4H457L457.2 783.4H457.7L457.9 767.2H458.3L458.5 767.8H458.9L459.1 778.2H459.6L459.8 760H460.3L460.5 772.2H461L461.2 761.7H461.8L462.1 775.8H462.5L462.8 787H463.2L463.5 786.5H463.9L464.2 769.8H464.6L464.9 767.8H465.3L465.6 752H466.2L466.4 763.2H466.9L467.1 764H467.7L467.9 779.2H468.4L468.6 782H469.1L469.3 762.1H469.7L469.9 769H470.4L470.6 777.1H471.1L471.3 776.6H472L472.2 769.1H472.7L472.9 755.7H473.5L473.7 770.6H474.1L474.3 756.8H474.7L474.9 767.5H475.5L475.7 770.2H476.4L476.6 763.7H477.1L477.3 765.8H477.7L477.9 758.8H478.4L478.6 756.6H479.1L479.3 766.9H479.8L480 765.1H480.6L480.8 768.2H481.2L481.4 768.7H481.9L482.1 749H482.6L482.8 752.9H483.4L483.7 745.1H484.3L484.5 779.9H485L485.2 755.9H485.8L486 762.4H486.7L486.9 772.8H487.3L487.5 766H488L488.2 760.7H488.5L488.8 756H489.4L489.6 758.7H490.1L490.3 776.6H490.9L491.1 783.8H491.5L491.7 780.6H492.2L492.4 762.8H492.9L493.1 769.1H493.6L493.8 768.7H494.2L494.4 778.5H495.1L495.3 746.3H495.8L496 778.8H496.4L496.6 773.3H496.9L497.2 801H497.5L497.8 780.4H498.2L498.5 773.8H498.9L499.2 772.4H499.6L499.9 787.4H500.5L500.7 743H501.2L501.4 759.9H501.9L502.1 765.1H502.7L502.9 752.5H503.3L503.5 760.6H504.2L504.4 769.4H504.8L505 771.8H505.5L505.7 781.4H506.3L506.5 789.7H507.1L507.4 752.1H507.7L507.9 778.4H508.6L508.8 756.1H509.4L509.6 773.6H510L510.2 767.8H510.8L511.1 778.7H511.5L511.8 761.4H512.4L512.6 760H513L513.2 756.9H513.7L513.9 792.3H514.4L514.6 767.9H515L515.2 770.6H515.8L516 769.4H516.4L516.6 762.9H517.1L517.3 722H517.8L518 781.7H518.6L518.9 779.6H519.5L519.7 762.7H520.2L520.4 779.1H520.9L521.1 745.1H521.6L521.8 752.2H522.2L522.4 767.7H522.9L523.1 765.8H523.5L523.7 766.6H524.2L524.4 790.6H525L525.2 774.5H525.9L526.1 774.3H526.6L526.8 766.2H527.2L527.4 766.7H527.9L528.1 751.4H528.6L528.8 754.5H529.3L529.5 771.9H530L530.2 785.2H530.7L530.9 771H531.2L531.5 772.6H531.8L532.1 764.9H532.7L532.9 773.5H533.4L533.6 745.8H534.2L534.4 764.4H534.9L535.1 768.5H535.8L536 772.5H536.6L536.8 760.7H537.3L537.5 769.3H538.1L538.4 756.8H538.8L539.1 771.2H539.4L539.7 758.6H540.1L540.4 769.4H540.8L541.1 777.4H541.7L541.9 761.3H542.3L542.5 773.5H543L543.2 780.4H543.8L544 742.5H544.7L544.9 758.1H545.5L545.7 791.2H546.1L546.3 757.5H546.9L547.2 745.5H547.6L547.9 768.7H548.5L548.7 769H549.1L549.3 762.3H549.8L550 773H550.5L550.7 771.5H551.1L551.3 761.7H551.7L551.9 771.8H552.3L552.5 764.6H553L553.2 727H553.7L553.9 768.9H554.4L554.6 741.2H555.1L555.3 787.7H555.8L556 757.7H556.3L556.6 780.5H557.2L557.4 751.1H557.9L558.1 781.1H558.6L558.8 758.2H559.4L559.6 758.3H560.1L560.3 755.8H560.8L561 749H561.7L561.9 764.5H562.4L562.6 763H563.2L563.4 773.8H563.9L564.1 760.2H564.6L564.8 793.9H565.3L565.5 769.2H566.1L566.4 770.8H566.7L567 747.8H567.3L567.6 768.3H568L568.3 755.7H568.6L568.9 767.2H569.3L569.6 766.5H570L570.3 774.7H570.9L571.1 765H571.7L571.9 774.3H572.6L572.8 773.5H573.1L573.4 746.1H573.7L574 778H574.6L574.8 776.9H575.4L575.6 771.9H576.1L576.3 770.7H577L577.2 773.8H577.8L578 767.7H578.5L578.7 773.5H579.2L579.4 767.8H579.8L580 757.9H580.6L580.9 752.4H581.3L581.6 766.8H582L582.3 771.5H582.7L583 806H583.4L583.7 762.7H584L584.3 783.7H584.6L584.8 764.9H585.3L585.5 761.8H586.2L586.4 767.7H586.9L587.1 780.2H587.5L587.7 772H588.2L588.4 757.2H588.9L589.1 780.8H589.5L589.7 760.1H590.1L590.3 768.1H590.9L591.1 761.3H591.6L591.8 754.5H592.4L592.7 728H593.1L593.4 778.9H593.7L593.9 760.5H594.3L594.5 772.2H594.9L595.1 757.7H595.5L595.7 765.4H596.4L596.6 766.9H597.2L597.4 761.7H597.9L598.1 747.5H598.7L599 760H599.4L599.7 754.6H600.1L600.4 763.9H601L601.2 766.8H601.7L601.9 764.8H602.4L602.6 761.4H603.1L603.3 784.4H603.8L604 747.8H604.5L604.7 748.5H605.2L605.4 780.1H605.9L606.1 769.7H606.7L606.9 778.7H607.4L607.6 767.7H608.3L608.5 777.8H609.1L609.3 769.4H609.8L610 761.5H610.6L610.9 765.6H611.3L611.6 768.9H612L612.3 769.1H612.6L612.8 773.9H613.3L613.5 771.9H614.2L614.4 765.9H614.8L615 786.6H615.6L615.8 766.4H616.4L616.7 785.5H617.1L617.4 749.5H617.8L618.1 765.2H618.7L618.9 757.6H619.4L619.6 768.1H620.2L620.4 756.5H621.1L621.3 749.2H621.8L622 774.5H622.6L622.8 756.7H623.3L623.5 765.9H623.9L624.1 776H624.6L624.8 768H625.3L625.5 757H626.1L626.4 764.5H626.8L627.1 721.5H627.5L627.8 773H628.4L628.6 771H629.2L629.4 815.5H629.9L630.1 774.4H630.6L630.8 758.6H631.5L631.7 774.8H632.2L632.4 763.3H633L633.2 768H633.8L634.1 770.8H634.7L634.9 748H635.4L635.6 775.9H636.1L636.3 768.2H636.8L637 753.7H637.6L637.8 763.1H638.3L638.5 765.1H639L639.2 756.4H639.6L639.8 744.1H640.2L640.4 767.7H640.9L641.1 751.5H641.6L641.8 775.9H642.3L642.5 764.9H643.1L643.4 749.4H644L644.2 763.6H644.7L644.9 740.6H645.4L645.6 757.6H646.1L646.3 775.7H646.8L647 763.7H647.6L647.8 768.4H648.5L648.7 749.1H649.2L649.4 757.1H650L650.2 770H650.8L651.1 760H651.4L651.7 778H652.3L652.5 796.5H652.9L653.1 768.7H653.6L653.8 750H654.4L654.6 742.7H655L655.2 756.3H655.6L655.8 782.7H656.3L656.5 761.4H657L657.2 759.9H657.7L657.9 773.3H658.4L658.6 756.1H659.1L659.3 755.2H659.7L659.9 760H660.5L660.8 770.6H661.2L661.5 761.2H662.1L662.3 770H662.7L662.9 763.1H663.3L663.5 758.6H664.1L664.3 769.8H664.8L665 733H665.7L665.9 794.2H666.4L666.6 758.4H667.1L667.3 771.2H667.6L667.9 731.8H668.3L668.6 750.1H669L669.3 776.1H669.9L670.1 779.6H670.6L670.8 763.5H671.3L671.5 776.9H672L672.2 749.9H672.6L672.8 758.1H673.3L673.5 759.9H673.9L674.1 766.8H674.7L674.9 758.9H675.4L675.6 766H676.3L676.5 743H677L677.2 756.5H677.7L677.9 754.9H678.4L678.6 750.9H679.2L679.4 764.1H679.9L680.1 770.1H680.6L680.8 758.2H681.3L681.5 777.4H681.9L682.1 767.3H682.6L682.8 775.9H683.2L683.4 768.1H683.8L684 758.3H684.5L684.7 773.4H685.2L685.4 771.8H686L686.2 767.6H686.7L686.9 757.1H687.4L687.6 777.5H688.1L688.3 790.7H688.8L689 725H689.5L689.7 729.8H690.2L690.4 769.5H690.9L691.1 770.9H691.6L691.8 760.6H692.5L692.7 757.8H693.2L693.4 777.2H693.9L694.1 765H694.6L694.8 767.4H695.4L695.6 758.4H696.1L696.3 749.4H696.7L696.9 788.9H697.3L697.5 765H698.1L698.4 774.9H699L699.2 770.4H699.8L700 776.2H700.4L700.6 763.2H701.1L701.3 757.9H701.8L702 780H702.6L702.9 769.1H703.2L703.5 753.2H703.9L704.2 781.8H704.5L704.8 757.8H705.2L705.5 769.8H705.8L706.1 769.3H706.5L706.8 778.2H707.4L707.6 758.6H708.1L708.3 785H708.8L709 758.1H709.4L709.6 758H710L710.2 753.1H710.8L711 761.2H711.5L711.7 756.5H712.2L712.4 779.4H713L713.3 766.6H713.7L714 763.2H714.4L714.7 784.1H715.1L715.4 777.2H715.8L716.1 777.2H716.5L716.8 770H717.4L717.6 772.6H718.2L718.4 753H719.1L719.3 723.5H719.7L719.9 766.5H720.4L720.6 765.1H721.2L721.4 770.6H721.8L722 776.7H722.6L722.9 748.3H723.3L723.6 754.2H724L724.3 763.7H724.9L725.1 771H725.6L725.8 753.6H726.3L726.5 768.1H727L727.2 772.3H727.8L728 783.1H728.5L728.7 766.7H729.1L729.3 755.7H729.7L729.9 760.6H730.4L730.6 761.8H731L731.2 759.6H731.7L731.9 768.5H732.4L732.6 768.3H733.1L733.3 763.6H733.7L733.9 741H734.3L734.5 752.1H735L735.2 769.2H735.7L735.9 761.7H736.3L736.5 775.4H737.1L737.3 760.6H738L738.2 760.9H738.6L738.8 759.6H739.3L739.5 759H739.9L740.1 765.7H740.7L740.9 775.2H741.5L741.8 778.3H742.4L742.6 765.6H743L743.2 771.2H743.8L744 764.6H744.6L744.9 773.5H745.5L745.7 769.8H746.2L746.4 772.8H747L747.2 759.3H747.7L747.9 768.4H748.3L748.5 766.1H749.2L749.4 761.3H749.8L750 777.8H750.6L750.8 723H751.3L751.5 767.2H752L752.2 760.7H752.8L753.1 771.8H753.5L753.8 754.5H754.2L754.5 767H755.1L755.3 768.8H755.8L756 787.2H756.5L756.7 768.5H757.1L757.3 796H757.7L757.9 758.5H758.5L758.7 733.5H759.2L759.4 771.1H760L760.3 760.6H760.9L761.1 733.4H761.5L761.7 772.8 L762.3 765L768.7 765" stroke="#611425" stroke-width="0.75"/>
<path d="M241.8 845.1H367.9V821.5H763.8V845.1H768.7" stroke="#eaa2b3" stroke-width="1.5" opacity="0.5"/>
<path d="M369 846.3V822.6H762.6V846.3Z" fill="#ad6378" fill-opacity="0.86" stroke="none"/>
<path d="M241.8 846.3H369M762.6 846.3H768.7" stroke="#8c3142" stroke-width="1.3"/>
<path d="M369 846.9V822.6H762.6V846.9" stroke="#83283a" stroke-width="1.4000000000000001"/>
</g>
<g filter="url(#bl)">
<rect x="17.2" y="642.8" width="88.8" height="46.2" rx="1.5" fill="none" stroke="#cf3531" stroke-width="3.8"/>
<rect x="11.9" y="747.6" width="89.2" height="41.7" rx="1.5" fill="none" stroke="#cf3531" stroke-width="3.8"/>
<polygon points="116.3,666.3 153,698.5 148.2,700.4 162.7,702.7 157.2,689.1 156.5,694.2 116.7,665.7" fill="#d23a38"/>
<polygon points="107.3,771.3 144.1,808.6 139.2,810.1 153.5,813.5 149,799.5 147.9,804.5 107.9,770.7" fill="#d23a38"/>
<text transform="translate(125.4 751.2) scale(1 1.035)" font-family='"Liberation Serif", "Noto Serif CJK SC", serif' font-size="50.8" font-weight="500" fill="#151515" stroke="#151515" stroke-width="0.4">测试</text>
<text transform="translate(120.4 861.5) scale(1 1.035)" font-family='"Liberation Serif", "Noto Serif CJK SC", serif' font-size="50.8" font-weight="500" fill="#151515" stroke="#151515" stroke-width="0.4">对照</text>
</g>
<rect x="807" y="552.8" width="184.8" height="329.2" fill="#b6b4b5"/>
<rect x="995.7" y="552.8" width="49" height="329.2" fill="#b6b4b5"/>
<rect x="1050.3" y="552.8" width="515.7" height="329.2" fill="#c9cacc"/>
<rect x="807" y="578.4" width="184.8" height="39.6" fill="url(#hg)"/>
<rect x="995.7" y="578.4" width="49" height="39.6" fill="url(#hg)"/>
<rect x="807" y="552.8" width="237.7" height="25.6" fill="#bab8b9"/>
<rect x="807" y="552.8" width="759" height="2.2" fill="#0d0d0f"/>
<line x1="1071.5" y1="620" x2="1071.5" y2="882" stroke="#a0a0a3" stroke-width="1.1"/>
<line x1="1140.5" y1="620" x2="1140.5" y2="882" stroke="#a0a0a3" stroke-width="1.1"/>
<line x1="1209.5" y1="620" x2="1209.5" y2="882" stroke="#a0a0a3" stroke-width="1.1"/>
<line x1="1278.5" y1="620" x2="1278.5" y2="882" stroke="#a0a0a3" stroke-width="1.1"/>
<line x1="1347.5" y1="620" x2="1347.5" y2="882" stroke="#a0a0a3" stroke-width="1.1"/>
<line x1="1416.5" y1="620" x2="1416.5" y2="882" stroke="#a0a0a3" stroke-width="1.1"/>
<line x1="1485.5" y1="620" x2="1485.5" y2="882" stroke="#a0a0a3" stroke-width="1.1"/>
<line x1="1554.5" y1="620" x2="1554.5" y2="882" stroke="#a0a0a3" stroke-width="1.1"/>
<g filter="url(#bl)">
<text x="0" y="0" font-family='"Liberation Sans", sans-serif' font-size="14.8" font-weight="bold" fill="#1a1a1a" text-anchor="middle" transform="translate(1021.8 603.2) scale(0.68 1)" stroke="#1a1a1a" stroke-width="0.45">Value</text>
<text x="0" y="0" font-family='"Liberation Serif", "Noto Serif CJK SC", serif' font-size="16" font-weight="bold" fill="#1a1a1a" text-anchor="middle" transform="translate(1086.1 604.8) scale(0.69 1)">1, 200</text>
<text x="0" y="0" font-family='"Liberation Serif", "Noto Serif CJK SC", serif' font-size="16" font-weight="bold" fill="#1a1a1a" text-anchor="middle" transform="translate(1155.1 604.8) scale(0.69 1)">1, 300</text>
<text x="0" y="0" font-family='"Liberation Serif", "Noto Serif CJK SC", serif' font-size="16" font-weight="bold" fill="#1a1a1a" text-anchor="middle" transform="translate(1224.1 604.8) scale(0.69 1)">1, 400</text>
<text x="0" y="0" font-family='"Liberation Serif", "Noto Serif CJK SC", serif' font-size="16" font-weight="bold" fill="#1a1a1a" text-anchor="middle" transform="translate(1293.1 604.8) scale(0.69 1)">1, 500</text>
<text x="0" y="0" font-family='"Liberation Serif", "Noto Serif CJK SC", serif' font-size="16" font-weight="bold" fill="#1a1a1a" text-anchor="middle" transform="translate(1362.1 604.8) scale(0.69 1)">1, 600</text>
<text x="0" y="0" font-family='"Liberation Serif", "Noto Serif CJK SC", serif' font-size="16" font-weight="bold" fill="#1a1a1a" text-anchor="middle" transform="translate(1431.1 604.8) scale(0.69 1)">1, 700</text>
<text x="0" y="0" font-family='"Liberation Serif", "Noto Serif CJK SC", serif' font-size="16" font-weight="bold" fill="#1a1a1a" text-anchor="middle" transform="translate(1500.1 604.8) scale(0.69 1)">1, 800</text>
<text x="0" y="0" font-family='"Liberation Serif", "Noto Serif CJK SC", serif' font-size="16" font-weight="bold" fill="#1a1a1a" text-anchor="start" transform="translate(1555.5 604.8) scale(0.69 1)">1,</text>
<rect x="828.3" y="722" width="70.7" height="103.3" fill="none" stroke="#759cbb" stroke-width="1.8"/>
<rect x="999.8" y="722" width="42.2" height="103.3" fill="none" stroke="#759cbb" stroke-width="1.8"/>
<path d="M808 666.9l3.8 4.6l-3.8 4.6" fill="none" stroke="#8f8d8e" stroke-width="1"/>
<g transform="translate(817.6 670.2) scale(0.98 1.42)"><rect x="0" y="-4" width="9.5" height="5.8" rx="1" fill="#a2c4db"/><rect x="2" y="-2.7" width="1.6" height="3" fill="#edf3f7"/><rect x="5.9" y="-2.7" width="1.6" height="3" fill="#edf3f7"/><circle cx="4.75" cy="2" r="1.9" fill="#dde8f0" stroke="#7fa9c4" stroke-width="0.7"/></g>
<text x="0" y="0" font-family='"Liberation Sans", sans-serif' font-size="14.5" font-weight="normal" fill="#1a1a1a" text-anchor="start" transform="translate(829.8 675.4) scale(0.7 1)" stroke="#1a1a1a" stroke-width="0.5">ADC_A[31:0]</text>
<text x="0" y="0" font-family='"Liberation Sans", sans-serif' font-size="14.5" font-weight="normal" fill="#1a1a1a" text-anchor="start" transform="translate(1001.3 675.4) scale(0.67 1)" stroke="#1a1a1a" stroke-width="0.5">131084</text>
<path d="M808 770.9l3.8 4.6l-3.8 4.6" fill="none" stroke="#8f8d8e" stroke-width="1"/>
<g transform="translate(817.6 773.6) scale(0.98 1.42)"><rect x="0" y="-4" width="9.5" height="5.8" rx="1" fill="#a2c4db"/><rect x="2" y="-2.7" width="1.6" height="3" fill="#edf3f7"/><rect x="5.9" y="-2.7" width="1.6" height="3" fill="#edf3f7"/><circle cx="4.75" cy="2" r="1.9" fill="#dde8f0" stroke="#7fa9c4" stroke-width="0.7"/></g>
<text x="0" y="0" font-family='"Liberation Sans", sans-serif' font-size="14.5" font-weight="normal" fill="#1a1a1a" text-anchor="start" transform="translate(829.8 778.6) scale(0.7 1)" stroke="#1a1a1a" stroke-width="0.5">ADC_B1[31:0]</text>
<text x="0" y="0" font-family='"Liberation Sans", sans-serif' font-size="14.5" font-weight="normal" fill="#1a1a1a" text-anchor="start" transform="translate(1000.8 778.6) scale(0.68 1)" stroke="#1a1a1a" stroke-width="0.5">-983003</text>
<g transform="translate(817.8 841) scale(1.0 1.6)"><path d="M0 -2.4L1 -4H3V4H0.8V-2.2Z" fill="#5aa969"/><rect x="3.5" y="-4" width="5" height="8" rx="1.7" fill="#6ab377"/><rect x="5.1" y="-2.7" width="1.8" height="2" rx="0.6" fill="#a5d3ad"/><circle cx="6" cy="2.1" r="1.55" fill="#e6f1e7" stroke="#5aa969" stroke-width="0.55"/></g>
<text x="0" y="0" font-family='"Liberation Sans", sans-serif' font-size="14.5" font-weight="normal" fill="#1a1a1a" text-anchor="start" transform="translate(829.6 846) scale(0.7 1)" stroke="#1a1a1a" stroke-width="0.5">bram_data_valid</text>
</g>
<g fill="none" stroke-linejoin="round" filter="url(#bl2)">
<path d="M1050.3 644.1C1066.8 644.1 1132.2 644.2 1149 644.1C1151 644 1150.2 643.2 1151 643.2C1151.8 643.2 1152.5 643.9 1154 644.4C1155.5 644.9 1157.9 645.9 1160 646.4C1162.1 646.9 1164.8 647.3 1166.8 647.3C1168.8 647.3 1170.3 647.4 1172 646.6C1173.7 645.8 1175.1 643.6 1177 642.4C1178.9 641.2 1181.7 639.6 1183.5 639.5C1185.3 639.4 1186.6 639.9 1188 642C1189.4 644.1 1190.5 646.5 1192 652C1193.5 657.5 1195.5 668.3 1197 675C1198.5 681.7 1199.7 687.3 1201 692C1202.3 696.7 1203.6 700.4 1205 703C1206.4 705.6 1207.9 707.1 1209.4 707.7C1210.9 708.3 1212.2 707.1 1214 706.6C1215.8 706.1 1218 704.8 1220 704.8C1222 704.8 1223.5 705.5 1226 706.4C1228.5 707.3 1231 708.7 1235 710C1239 711.3 1244.8 712.9 1250.3 714C1255.8 715.1 1262.1 715.7 1268 716.6C1273.9 717.5 1280.5 719 1285.8 719.4C1291.1 719.8 1294.3 719.3 1300 719.2C1305.7 719.1 1312.3 719 1320 718.6C1327.7 718.2 1340.2 717.4 1346.2 716.6C1352.2 715.8 1352.8 714.8 1356 714C1359.2 713.2 1362.9 711.5 1365.7 711.6C1368.5 711.7 1370.6 713.4 1373 714.6C1375.4 715.8 1378 718.6 1380 718.7C1382 718.8 1383.3 718.5 1385 715C1386.7 711.5 1388.2 706.3 1390 698C1391.8 689.7 1394.2 674.7 1396 665C1397.8 655.3 1399.5 646.2 1401 640C1402.5 633.8 1403.6 630.3 1405 627.5C1406.4 624.7 1407.9 623.7 1409.4 623.1C1410.9 622.5 1412.4 622.6 1414 623.8C1415.6 624.9 1417.3 628.1 1419 630C1420.7 631.9 1421.7 634.3 1424.4 635.2C1427.1 636.1 1431.5 635.6 1435 635.6C1438.5 635.6 1441.5 634.7 1445.7 635.2C1449.9 635.7 1455.6 637.4 1460 638.6C1464.4 639.8 1468.8 641.8 1472 642.6C1475.2 643.5 1476.4 643.7 1479.4 643.7C1482.4 643.7 1486.1 642.9 1490 642.8C1493.9 642.7 1499.7 642.7 1503 643C1506.3 643.3 1507.7 644.4 1510 644.8C1512.3 645.2 1513.4 645.3 1516.7 645.2C1520 645.1 1524.8 644.7 1530 644.4C1535.2 644.1 1542 643.8 1548 643.6C1554 643.4 1562.8 643.1 1565.8 643" stroke="#30309a" stroke-width="1.9"/>
<path d="M1050.3 767.7L1093 767.7L1094 769L1142 769L1143 770L1145.5 770L1145.5 773.7H1146.2L1146.4 777.3H1146.9L1147.2 758H1147.7L1147.9 777.8H1148.3L1148.5 772.4H1149.1L1149.3 766.4H1150L1150.2 757.5H1150.9L1151.1 757.4H1151.5L1151.7 765.1H1152.3L1152.5 759.6H1153.2L1153.4 776.2H1154.1L1154.3 772.6H1155L1155.2 772.4H1155.7L1155.9 768.2H1156.3L1156.6 766.7H1157.2L1157.5 772.6H1158L1158.2 735.5H1158.7L1159 769.5H1159.5L1159.7 769.2H1160.2L1160.5 760.7H1160.9L1161.1 762.6H1161.6L1161.9 772.3H1162.4L1162.6 768.8H1163.1L1163.4 771.2H1163.8L1164 767.4H1164.4L1164.6 781.3H1165L1165.3 760.6H1165.8L1166 762.3H1166.4L1166.7 769.9H1167.2L1167.4 765.2H1167.9L1168.2 769.6H1168.6L1168.8 767.6H1169.3L1169.5 779.7H1170L1170.2 749.9H1170.9L1171.1 760.7H1171.6L1171.8 771.7H1172.4L1172.6 765.1H1173.1L1173.3 760.1H1173.9L1174.1 772.2H1174.6L1174.8 762.5H1175.4L1175.6 763.5H1176.1L1176.3 757.9H1176.9L1177.1 769.3H1177.5L1177.7 797H1178.4L1178.6 764.7H1179.3L1179.5 755.8H1180L1180.3 770.6H1180.8L1181 766.3H1181.7L1181.9 760.9H1182.4L1182.7 761H1183.3L1183.6 767.4H1184.1L1184.3 749.9H1184.8L1185.1 760.6H1185.5L1185.7 764.4H1186.2L1186.5 762.2H1187.1L1187.4 770.6H1187.9L1188.1 757.8H1188.6L1188.9 766.6H1189.4L1189.6 765.2H1190.1L1190.4 775.8H1190.9L1191.1 765.9H1191.6L1191.9 789.3H1192.4L1192.6 758.4H1193L1193.2 752.4H1193.7L1193.9 766.1H1194.4L1194.6 761H1195.3L1195.5 762.1H1196.1L1196.3 767.8H1196.8L1197 766H1197.7L1197.9 741H1198.5L1198.7 768.8H1199.4L1199.6 763.8H1200L1200.2 769.1H1200.7L1201 764.3H1201.4L1201.6 770.9H1202.3L1202.5 757.3H1203.2L1203.4 769.3H1203.9L1204.2 772.5H1204.7L1204.9 776.6H1205.4L1205.7 776.8H1206.2L1206.4 770.3H1206.9L1207.2 764.5H1207.7L1207.9 781.9H1208.3L1208.5 763.6H1209.1L1209.3 775.5H1210L1210.2 766.5H1210.7L1210.9 760.4H1211.6L1211.8 776.3H1212.4L1212.6 770.5H1213.3L1213.5 765H1214L1214.2 776.5H1214.8L1215 768.7H1215.5L1215.7 773.7H1216.3L1216.5 772.8H1217.2L1217.4 767.1H1217.9L1218.1 772.6H1218.6L1218.8 763.8H1219.5L1219.7 772.6H1220.2L1220.4 771.4H1221.1L1221.3 781.1H1221.9L1222.1 775.4H1222.6L1222.8 775.7H1223.4L1223.6 760.3H1224.1L1224.3 770.7H1224.9L1225.1 764.6H1225.5L1225.7 760.3H1226.2L1226.5 762.6H1226.9L1227.1 754.5H1227.6L1227.9 765.4H1228.4L1228.6 769.6H1229.1L1229.4 768.5H1230L1230.3 761.3H1230.8L1231 762.6H1231.5L1231.8 753.1H1232.3L1232.5 764.2H1233.2L1233.4 756.2H1233.8L1234 767.4H1234.5L1234.7 754.7H1235.2L1235.4 762.9H1235.8L1236.1 772.5H1236.6L1236.8 765.9H1237.5L1237.7 773.8H1238.1L1238.4 772.1H1239L1239.3 760.2H1239.7L1239.9 758.2H1240.4L1240.6 765.2H1241.1L1241.3 764.2H1241.7L1241.9 755.7H1242.3L1242.6 766H1243L1243.2 758.2H1243.7L1243.9 770.6H1244.4L1244.6 763.2H1245.3L1245.5 741.4H1246L1246.2 767.6H1246.8L1247 756.3H1247.5L1247.7 761.1H1248.3L1248.5 759.9H1248.9L1249.1 761.8H1249.5L1249.8 771.1H1250.3L1250.5 760.1H1250.9L1251.1 759.5H1251.7L1251.9 763.2H1252.3L1252.5 765.2H1253.2L1253.4 770.1H1254.1L1254.3 758.9H1254.9L1255.1 750.5H1255.6L1255.8 768.4H1256.4L1256.6 770.8H1257.1L1257.3 756.7H1257.9L1258.1 783.2H1258.8L1259 757.4H1259.7L1259.9 760H1260.4L1260.6 771.6H1261.2L1261.4 755.7H1262.1L1262.3 798H1263L1263.2 777.9H1263.7L1263.9 762.5H1264.6L1264.8 759.4H1265.4L1265.6 773.4H1266L1266.2 762H1266.6L1266.9 766.1H1267.5L1267.8 769.9H1268.4L1268.7 771.3H1269.2L1269.4 773.2H1269.9L1270.2 774.1H1270.6L1270.8 756.8H1271.3L1271.5 758.4H1272.1L1272.3 770.4H1272.7L1272.9 763.5H1273.5L1273.7 764.7H1274.4L1274.6 765H1275.3L1275.5 747.9H1276.2L1276.4 766.6H1277.1L1277.3 757.1H1277.8L1278 761H1278.6L1278.8 767.2H1279.5L1279.7 766H1280.1L1280.3 767H1280.8L1281.1 773.1H1281.5L1281.7 756.5H1282.2L1282.5 766.6H1283.1L1283.4 763H1283.9L1284.1 766H1284.8L1285 766.9H1285.7L1285.9 769.4H1286.3L1286.5 766.7H1287.1L1287.3 770.1H1287.8L1288 766.4H1288.5L1288.7 758.7H1289.2L1289.4 772.2H1290L1290.2 769.1H1290.9L1291.1 752.4H1291.5L1291.7 753.3H1292.1L1292.4 773.4H1293L1293.3 775H1293.8L1294 758.6H1294.5L1294.8 763.5H1295.4L1295.7 758.6H1296.1L1296.3 761.5H1296.8L1297 778.3H1297.5L1297.7 769.9H1298.2L1298.4 771H1298.8L1299.1 757.2H1299.5L1299.7 765.7H1300.2L1300.5 765.2H1301L1301.2 796H1301.6L1301.8 754H1302.5L1302.7 761.6H1303.4L1303.6 763.7H1304.2L1304.4 770.9H1304.9L1305.1 761.1H1305.8L1306 776.9H1306.6L1306.8 777H1307.3L1307.5 770.1H1308.2L1308.4 772.6H1309.1L1309.3 769.8H1310L1310.2 765.6H1310.7L1310.9 771.4H1311.4L1311.6 766.3H1312.3L1312.5 781.5H1313.2L1313.4 777.8H1314L1314.2 761.9H1314.9L1315.1 753.6H1315.6L1315.8 761.1H1316.4L1316.6 752.6H1317.1L1317.3 767.9H1318L1318.2 768.6H1318.8L1319 754.1H1319.5L1319.7 760.6H1320.3L1320.5 775H1320.9L1321.1 764.3H1321.8L1322 773.5H1322.5L1322.8 777H1323.2L1323.4 779.2H1323.8L1324 755.2H1324.6L1324.8 735H1325.3L1325.5 769H1326L1326.2 772.4H1326.6L1326.8 763.7H1327.2L1327.5 763.9H1328L1328.2 775.6H1328.9L1329.1 773.2H1329.6L1329.9 772.9H1330.4L1330.6 760.5H1331.1L1331.4 764.2H1332L1332.3 772H1332.8L1333 752.4H1333.5L1333.8 772.4H1334.2L1334.4 762.5H1335.1L1335.3 760H1336L1336.2 766.8H1336.9L1337.1 775.5H1337.8L1338 773H1338.5L1338.7 770.7H1339.2L1339.4 766H1339.9L1340.1 771.6H1340.8L1341 770.2H1341.6L1341.8 772.9H1342.3L1342.5 760.1H1342.9L1343.2 769.5H1343.8L1344.1 762.3H1344.6L1344.8 769.2H1345.2L1345.5 760.2H1346.1L1346.4 776.3H1346.9L1347.1 776.4H1347.6L1347.9 766.5H1348.5L1348.8 773.6H1349.4L1349.7 780.6H1350.2L1350.4 765.3H1350.9L1351.2 759.1H1351.8L1352.1 774.3H1352.5L1352.7 768.6H1353.2L1353.4 777.3H1354L1354.2 764.8H1354.9L1355.1 775.7H1355.8L1356 764H1356.7L1356.9 768.5H1357.3L1357.5 761.1H1357.9L1358.2 774.2H1358.7L1358.9 790.9H1359.3L1359.6 765.4H1360L1360.2 771.2H1360.7L1360.9 762.4H1361.5L1361.7 765.4H1362.1L1362.3 768.9H1362.9L1363.1 767.6H1363.6L1363.8 778.1H1364.2L1364.5 770.8H1364.9L1365.1 757H1365.5L1365.7 763.5H1366.3L1366.5 766.1H1367L1367.2 767.6H1367.8L1368 771.5H1368.5L1368.7 769.7H1369.3L1369.5 779.5H1369.9L1370.1 777.2H1370.7L1370.9 758.4H1371.3L1371.5 749.3H1372L1372.3 773.7H1372.8L1373 772H1373.5L1373.8 822.5H1374.4L1374.7 768.1H1375.2L1375.4 759.9H1375.8L1376.1 752.2H1376.6L1376.8 758.4H1377.2L1377.4 763.6H1377.9L1378.1 765.8H1378.5L1378.7 772.2H1379.2L1379.5 787H1380L1380.2 762.1H1380.7L1381 763.5H1381.5L1381.7 757.9H1382.2L1382.5 743.9H1382.9L1383.1 770H1383.8L1384 760.5H1384.5L1384.8 774.6H1385.2L1385.4 763.4H1386.1L1386.3 766.1H1386.8L1387 767.1H1387.7L1387.9 770.9H1388.5L1388.7 762.9H1389.1L1389.3 765.7H1389.7L1390 762.1H1390.5L1390.7 774.9H1391.1L1391.4 761H1391.8L1392 767.9H1392.7L1392.9 766.3H1393.6L1393.8 775H1394.3L1394.5 753.7H1395L1395.2 771H1395.9L1396.1 758.3H1396.8L1397 767.2H1397.4L1397.6 755.3H1398L1398.3 768.6H1398.8L1399 762.6H1399.5L1399.8 777.5H1400.4L1400.7 765.9H1401.2L1401.4 762.4H1401.9L1402.2 760.3H1402.6L1402.8 774.2H1403.2L1403.4 770.4H1404L1404.2 759.2H1404.6L1404.8 769.4H1405.3L1405.6 760.4H1406.1L1406.3 759.2H1407L1407.2 770.5H1407.7L1408 762.5H1408.5L1408.7 765.6H1409.2L1409.5 758.1H1410L1410.2 765H1410.7L1411 768.2H1411.6L1411.9 765.6H1412.3L1412.5 774.9H1413.2L1413.4 777.9H1413.9L1414.2 770.6H1414.7L1414.9 758H1415.4L1415.7 767.7H1416.2L1416.4 762.4H1417.1L1417.3 764.2H1418L1418.2 764.2H1418.7L1419 766.6H1419.6L1419.9 776.8H1420.4L1420.6 771.2H1421.1L1421.4 767.5H1422L1422.3 769.5H1422.8L1423 761H1423.5L1423.8 764.4H1424.3L1424.5 776.5H1425.2L1425.4 770H1425.9L1426.2 758H1426.6L1426.8 761H1427.3L1427.5 761H1428.1L1428.3 768.9H1429L1429.2 767.1H1429.7L1429.9 767H1430.5L1430.7 773.4H1431.2L1431.4 756.1H1431.9L1432.1 760.2H1432.5L1432.7 779H1433.2L1433.5 785.3H1434.1L1434.4 761.1H1434.9L1435.1 759.5H1435.8L1436 759.3H1436.5L1436.8 764.1H1437.3L1437.5 764.6H1438L1438.3 759.4H1438.9L1439.2 778.5H1439.7L1439.9 758.4H1440.4L1440.7 765.3H1441.3L1441.6 753.6H1442.1L1442.3 769.4H1442.7L1443 767.7H1443.4L1443.6 771.6H1444L1444.2 766.3H1444.6L1444.9 732H1445.4L1445.6 765.7H1446.1L1446.4 805H1447L1447.3 753.7H1447.8L1448 768.2H1448.5L1448.8 757H1449.4L1449.7 764H1450.2L1450.4 754.4H1450.9L1451.2 764.1H1451.8L1452.1 766.5H1452.5L1452.7 764.8H1453.2L1453.5 767.8H1454L1454.2 764.2H1454.9L1455.1 807H1455.8L1456 772.6H1456.4L1456.6 759.5H1457.2L1457.4 771.2H1457.8L1458 786.7H1458.6L1458.8 773.4H1459.3L1459.5 774.2H1459.9L1460.2 783.5H1460.8L1461.1 769.7H1461.6L1461.8 761.4H1462.2L1462.5 765.6H1463L1463.2 781.7H1463.9L1464.1 776.2H1464.5L1464.7 763.3H1465.3L1465.5 762H1465.9L1466.1 768.9H1466.5L1466.8 780.4H1467.3L1467.5 766.6H1467.9L1468.2 763.1H1468.7L1468.9 771.4H1469.3L1469.5 768.3H1470.2L1470.4 774.8H1470.9L1471.1 775.4H1471.6L1471.8 766.1H1472.2L1472.5 767.1H1473L1473.2 757.6H1473.7L1474 768.6H1474.6L1474.9 773.9H1475.5L1475.8 726.5H1476.3L1476.5 753.3H1477L1477.3 771.6H1477.8L1478 763.9H1478.7L1478.9 769.8H1479.3L1479.6 762.6H1480.2L1480.5 769H1481L1481.2 766.6H1481.7L1482 763.4H1482.6L1482.9 763H1483.3L1483.5 770.6H1484L1484.2 768H1484.7L1484.9 764.9H1485.4L1485.6 771.6H1486.2L1486.4 764.3H1486.9L1487.1 757.2H1487.5L1487.8 763.8H1488.3L1488.5 759.7H1489L1489.3 759.5H1489.8L1490 769.4H1490.5L1490.8 772.9H1491.3L1491.5 763.8H1492L1492.3 764.2H1492.8L1493 766.4H1493.5L1493.8 757.2H1494.4L1494.7 775.6H1495.3L1495.6 778.3H1496.2L1496.5 759.7H1497L1497.2 764.3H1497.9L1498.1 777.7H1498.6L1498.9 766.7H1499.4L1499.6 756.8H1500.3L1500.5 766H1500.9L1501.2 764.2H1501.6L1501.8 775H1502.3L1502.5 778.8H1503L1503.2 760.8H1503.6L1503.8 770.6H1504.5L1504.7 762.6H1505.2L1505.5 770.9H1506.1L1506.4 783.3H1506.9L1507.1 779.3H1507.8L1508 750.2H1508.4L1508.7 772.8H1509.3L1509.6 759H1510.2L1510.5 772.8H1511L1511.2 755.6H1511.7L1512 774.6H1512.5L1512.7 768.8H1513.4L1513.6 772.4H1514L1514.2 764.1H1514.8L1515 775.5H1515.7L1515.9 780.1H1516.4L1516.6 759.3H1517.1L1517.3 760H1517.8L1518 767.5H1518.6L1518.8 778.1H1519.3L1519.5 765.8H1520.1L1520.3 768.4H1520.8L1521 768.4H1521.6L1521.8 763.8H1522.2L1522.4 755.3H1522.9L1523.2 767.1H1523.8L1524.1 767.8H1524.6L1524.8 771.3H1525.2L1525.5 763.7H1525.9L1526.1 774.3H1526.5L1526.7 765H1527.4L1527.6 773.5H1528L1528.3 760.7H1528.8L1529 775H1529.4L1529.7 760.5H1530.3L1530.6 759.2H1531.2L1531.5 751.6H1531.9L1532.1 764.3H1532.5L1532.7 759H1533.1L1533.4 758H1533.9L1534.1 760.9H1534.6L1534.9 774.1H1535.3L1535.5 769.3H1535.9L1536.1 775.8H1536.7L1536.9 763H1537.6L1537.8 781.5H1538.3L1538.5 755.1H1539L1539.2 778.2H1539.7L1539.9 769H1540.5L1540.7 788.1H1541.2L1541.4 759.4H1541.8L1542.1 762.3H1542.6L1542.8 761.4H1543.2L1543.5 742H1543.9L1544.1 764.8H1544.8L1545 769.1H1545.5L1545.7 766.4H1546.3L1546.5 773.4H1547.2L1547.4 758.7H1547.9L1548.1 770.8H1548.8L1549 778.1H1549.5L1549.7 768.4H1550.2L1550.4 776.5H1551.1L1551.3 773.9H1551.9L1552.1 773.7H1552.5L1552.7 774.8H1553.2L1553.5 777.9H1554.1L1554.4 777H1554.9L1555.1 776.1H1555.6L1555.9 774.4H1556.4L1556.6 773H1557.1L1557.4 766H1557.9L1558.1 774.1 L1558.3 777L1565.8 777" stroke="#c27486" stroke-width="1.9" opacity="0.5"/>
<path d="M1050.3 767.7L1093 767.7L1094 769L1142 769L1143 770L1145.5 770L1145.5 773.7H1146.2L1146.4 777.3H1146.9L1147.2 758H1147.7L1147.9 777.8H1148.3L1148.5 772.4H1149.1L1149.3 766.4H1150L1150.2 757.5H1150.9L1151.1 757.4H1151.5L1151.7 765.1H1152.3L1152.5 759.6H1153.2L1153.4 776.2H1154.1L1154.3 772.6H1155L1155.2 772.4H1155.7L1155.9 768.2H1156.3L1156.6 766.7H1157.2L1157.5 772.6H1158L1158.2 735.5H1158.7L1159 769.5H1159.5L1159.7 769.2H1160.2L1160.5 760.7H1160.9L1161.1 762.6H1161.6L1161.9 772.3H1162.4L1162.6 768.8H1163.1L1163.4 771.2H1163.8L1164 767.4H1164.4L1164.6 781.3H1165L1165.3 760.6H1165.8L1166 762.3H1166.4L1166.7 769.9H1167.2L1167.4 765.2H1167.9L1168.2 769.6H1168.6L1168.8 767.6H1169.3L1169.5 779.7H1170L1170.2 749.9H1170.9L1171.1 760.7H1171.6L1171.8 771.7H1172.4L1172.6 765.1H1173.1L1173.3 760.1H1173.9L1174.1 772.2H1174.6L1174.8 762.5H1175.4L1175.6 763.5H1176.1L1176.3 757.9H1176.9L1177.1 769.3H1177.5L1177.7 797H1178.4L1178.6 764.7H1179.3L1179.5 755.8H1180L1180.3 770.6H1180.8L1181 766.3H1181.7L1181.9 760.9H1182.4L1182.7 761H1183.3L1183.6 767.4H1184.1L1184.3 749.9H1184.8L1185.1 760.6H1185.5L1185.7 764.4H1186.2L1186.5 762.2H1187.1L1187.4 770.6H1187.9L1188.1 757.8H1188.6L1188.9 766.6H1189.4L1189.6 765.2H1190.1L1190.4 775.8H1190.9L1191.1 765.9H1191.6L1191.9 789.3H1192.4L1192.6 758.4H1193L1193.2 752.4H1193.7L1193.9 766.1H1194.4L1194.6 761H1195.3L1195.5 762.1H1196.1L1196.3 767.8H1196.8L1197 766H1197.7L1197.9 741H1198.5L1198.7 768.8H1199.4L1199.6 763.8H1200L1200.2 769.1H1200.7L1201 764.3H1201.4L1201.6 770.9H1202.3L1202.5 757.3H1203.2L1203.4 769.3H1203.9L1204.2 772.5H1204.7L1204.9 776.6H1205.4L1205.7 776.8H1206.2L1206.4 770.3H1206.9L1207.2 764.5H1207.7L1207.9 781.9H1208.3L1208.5 763.6H1209.1L1209.3 775.5H1210L1210.2 766.5H1210.7L1210.9 760.4H1211.6L1211.8 776.3H1212.4L1212.6 770.5H1213.3L1213.5 765H1214L1214.2 776.5H1214.8L1215 768.7H1215.5L1215.7 773.7H1216.3L1216.5 772.8H1217.2L1217.4 767.1H1217.9L1218.1 772.6H1218.6L1218.8 763.8H1219.5L1219.7 772.6H1220.2L1220.4 771.4H1221.1L1221.3 781.1H1221.9L1222.1 775.4H1222.6L1222.8 775.7H1223.4L1223.6 760.3H1224.1L1224.3 770.7H1224.9L1225.1 764.6H1225.5L1225.7 760.3H1226.2L1226.5 762.6H1226.9L1227.1 754.5H1227.6L1227.9 765.4H1228.4L1228.6 769.6H1229.1L1229.4 768.5H1230L1230.3 761.3H1230.8L1231 762.6H1231.5L1231.8 753.1H1232.3L1232.5 764.2H1233.2L1233.4 756.2H1233.8L1234 767.4H1234.5L1234.7 754.7H1235.2L1235.4 762.9H1235.8L1236.1 772.5H1236.6L1236.8 765.9H1237.5L1237.7 773.8H1238.1L1238.4 772.1H1239L1239.3 760.2H1239.7L1239.9 758.2H1240.4L1240.6 765.2H1241.1L1241.3 764.2H1241.7L1241.9 755.7H1242.3L1242.6 766H1243L1243.2 758.2H1243.7L1243.9 770.6H1244.4L1244.6 763.2H1245.3L1245.5 741.4H1246L1246.2 767.6H1246.8L1247 756.3H1247.5L1247.7 761.1H1248.3L1248.5 759.9H1248.9L1249.1 761.8H1249.5L1249.8 771.1H1250.3L1250.5 760.1H1250.9L1251.1 759.5H1251.7L1251.9 763.2H1252.3L1252.5 765.2H1253.2L1253.4 770.1H1254.1L1254.3 758.9H1254.9L1255.1 750.5H1255.6L1255.8 768.4H1256.4L1256.6 770.8H1257.1L1257.3 756.7H1257.9L1258.1 783.2H1258.8L1259 757.4H1259.7L1259.9 760H1260.4L1260.6 771.6H1261.2L1261.4 755.7H1262.1L1262.3 798H1263L1263.2 777.9H1263.7L1263.9 762.5H1264.6L1264.8 759.4H1265.4L1265.6 773.4H1266L1266.2 762H1266.6L1266.9 766.1H1267.5L1267.8 769.9H1268.4L1268.7 771.3H1269.2L1269.4 773.2H1269.9L1270.2 774.1H1270.6L1270.8 756.8H1271.3L1271.5 758.4H1272.1L1272.3 770.4H1272.7L1272.9 763.5H1273.5L1273.7 764.7H1274.4L1274.6 765H1275.3L1275.5 747.9H1276.2L1276.4 766.6H1277.1L1277.3 757.1H1277.8L1278 761H1278.6L1278.8 767.2H1279.5L1279.7 766H1280.1L1280.3 767H1280.8L1281.1 773.1H1281.5L1281.7 756.5H1282.2L1282.5 766.6H1283.1L1283.4 763H1283.9L1284.1 766H1284.8L1285 766.9H1285.7L1285.9 769.4H1286.3L1286.5 766.7H1287.1L1287.3 770.1H1287.8L1288 766.4H1288.5L1288.7 758.7H1289.2L1289.4 772.2H1290L1290.2 769.1H1290.9L1291.1 752.4H1291.5L1291.7 753.3H1292.1L1292.4 773.4H1293L1293.3 775H1293.8L1294 758.6H1294.5L1294.8 763.5H1295.4L1295.7 758.6H1296.1L1296.3 761.5H1296.8L1297 778.3H1297.5L1297.7 769.9H1298.2L1298.4 771H1298.8L1299.1 757.2H1299.5L1299.7 765.7H1300.2L1300.5 765.2H1301L1301.2 796H1301.6L1301.8 754H1302.5L1302.7 761.6H1303.4L1303.6 763.7H1304.2L1304.4 770.9H1304.9L1305.1 761.1H1305.8L1306 776.9H1306.6L1306.8 777H1307.3L1307.5 770.1H1308.2L1308.4 772.6H1309.1L1309.3 769.8H1310L1310.2 765.6H1310.7L1310.9 771.4H1311.4L1311.6 766.3H1312.3L1312.5 781.5H1313.2L1313.4 777.8H1314L1314.2 761.9H1314.9L1315.1 753.6H1315.6L1315.8 761.1H1316.4L1316.6 752.6H1317.1L1317.3 767.9H1318L1318.2 768.6H1318.8L1319 754.1H1319.5L1319.7 760.6H1320.3L1320.5 775H1320.9L1321.1 764.3H1321.8L1322 773.5H1322.5L1322.8 777H1323.2L1323.4 779.2H1323.8L1324 755.2H1324.6L1324.8 735H1325.3L1325.5 769H1326L1326.2 772.4H1326.6L1326.8 763.7H1327.2L1327.5 763.9H1328L1328.2 775.6H1328.9L1329.1 773.2H1329.6L1329.9 772.9H1330.4L1330.6 760.5H1331.1L1331.4 764.2H1332L1332.3 772H1332.8L1333 752.4H1333.5L1333.8 772.4H1334.2L1334.4 762.5H1335.1L1335.3 760H1336L1336.2 766.8H1336.9L1337.1 775.5H1337.8L1338 773H1338.5L1338.7 770.7H1339.2L1339.4 766H1339.9L1340.1 771.6H1340.8L1341 770.2H1341.6L1341.8 772.9H1342.3L1342.5 760.1H1342.9L1343.2 769.5H1343.8L1344.1 762.3H1344.6L1344.8 769.2H1345.2L1345.5 760.2H1346.1L1346.4 776.3H1346.9L1347.1 776.4H1347.6L1347.9 766.5H1348.5L1348.8 773.6H1349.4L1349.7 780.6H1350.2L1350.4 765.3H1350.9L1351.2 759.1H1351.8L1352.1 774.3H1352.5L1352.7 768.6H1353.2L1353.4 777.3H1354L1354.2 764.8H1354.9L1355.1 775.7H1355.8L1356 764H1356.7L1356.9 768.5H1357.3L1357.5 761.1H1357.9L1358.2 774.2H1358.7L1358.9 790.9H1359.3L1359.6 765.4H1360L1360.2 771.2H1360.7L1360.9 762.4H1361.5L1361.7 765.4H1362.1L1362.3 768.9H1362.9L1363.1 767.6H1363.6L1363.8 778.1H1364.2L1364.5 770.8H1364.9L1365.1 757H1365.5L1365.7 763.5H1366.3L1366.5 766.1H1367L1367.2 767.6H1367.8L1368 771.5H1368.5L1368.7 769.7H1369.3L1369.5 779.5H1369.9L1370.1 777.2H1370.7L1370.9 758.4H1371.3L1371.5 749.3H1372L1372.3 773.7H1372.8L1373 772H1373.5L1373.8 822.5H1374.4L1374.7 768.1H1375.2L1375.4 759.9H1375.8L1376.1 752.2H1376.6L1376.8 758.4H1377.2L1377.4 763.6H1377.9L1378.1 765.8H1378.5L1378.7 772.2H1379.2L1379.5 787H1380L1380.2 762.1H1380.7L1381 763.5H1381.5L1381.7 757.9H1382.2L1382.5 743.9H1382.9L1383.1 770H1383.8L1384 760.5H1384.5L1384.8 774.6H1385.2L1385.4 763.4H1386.1L1386.3 766.1H1386.8L1387 767.1H1387.7L1387.9 770.9H1388.5L1388.7 762.9H1389.1L1389.3 765.7H1389.7L1390 762.1H1390.5L1390.7 774.9H1391.1L1391.4 761H1391.8L1392 767.9H1392.7L1392.9 766.3H1393.6L1393.8 775H1394.3L1394.5 753.7H1395L1395.2 771H1395.9L1396.1 758.3H1396.8L1397 767.2H1397.4L1397.6 755.3H1398L1398.3 768.6H1398.8L1399 762.6H1399.5L1399.8 777.5H1400.4L1400.7 765.9H1401.2L1401.4 762.4H1401.9L1402.2 760.3H1402.6L1402.8 774.2H1403.2L1403.4 770.4H1404L1404.2 759.2H1404.6L1404.8 769.4H1405.3L1405.6 760.4H1406.1L1406.3 759.2H1407L1407.2 770.5H1407.7L1408 762.5H1408.5L1408.7 765.6H1409.2L1409.5 758.1H1410L1410.2 765H1410.7L1411 768.2H1411.6L1411.9 765.6H1412.3L1412.5 774.9H1413.2L1413.4 777.9H1413.9L1414.2 770.6H1414.7L1414.9 758H1415.4L1415.7 767.7H1416.2L1416.4 762.4H1417.1L1417.3 764.2H1418L1418.2 764.2H1418.7L1419 766.6H1419.6L1419.9 776.8H1420.4L1420.6 771.2H1421.1L1421.4 767.5H1422L1422.3 769.5H1422.8L1423 761H1423.5L1423.8 764.4H1424.3L1424.5 776.5H1425.2L1425.4 770H1425.9L1426.2 758H1426.6L1426.8 761H1427.3L1427.5 761H1428.1L1428.3 768.9H1429L1429.2 767.1H1429.7L1429.9 767H1430.5L1430.7 773.4H1431.2L1431.4 756.1H1431.9L1432.1 760.2H1432.5L1432.7 779H1433.2L1433.5 785.3H1434.1L1434.4 761.1H1434.9L1435.1 759.5H1435.8L1436 759.3H1436.5L1436.8 764.1H1437.3L1437.5 764.6H1438L1438.3 759.4H1438.9L1439.2 778.5H1439.7L1439.9 758.4H1440.4L1440.7 765.3H1441.3L1441.6 753.6H1442.1L1442.3 769.4H1442.7L1443 767.7H1443.4L1443.6 771.6H1444L1444.2 766.3H1444.6L1444.9 732H1445.4L1445.6 765.7H1446.1L1446.4 805H1447L1447.3 753.7H1447.8L1448 768.2H1448.5L1448.8 757H1449.4L1449.7 764H1450.2L1450.4 754.4H1450.9L1451.2 764.1H1451.8L1452.1 766.5H1452.5L1452.7 764.8H1453.2L1453.5 767.8H1454L1454.2 764.2H1454.9L1455.1 807H1455.8L1456 772.6H1456.4L1456.6 759.5H1457.2L1457.4 771.2H1457.8L1458 786.7H1458.6L1458.8 773.4H1459.3L1459.5 774.2H1459.9L1460.2 783.5H1460.8L1461.1 769.7H1461.6L1461.8 761.4H1462.2L1462.5 765.6H1463L1463.2 781.7H1463.9L1464.1 776.2H1464.5L1464.7 763.3H1465.3L1465.5 762H1465.9L1466.1 768.9H1466.5L1466.8 780.4H1467.3L1467.5 766.6H1467.9L1468.2 763.1H1468.7L1468.9 771.4H1469.3L1469.5 768.3H1470.2L1470.4 774.8H1470.9L1471.1 775.4H1471.6L1471.8 766.1H1472.2L1472.5 767.1H1473L1473.2 757.6H1473.7L1474 768.6H1474.6L1474.9 773.9H1475.5L1475.8 726.5H1476.3L1476.5 753.3H1477L1477.3 771.6H1477.8L1478 763.9H1478.7L1478.9 769.8H1479.3L1479.6 762.6H1480.2L1480.5 769H1481L1481.2 766.6H1481.7L1482 763.4H1482.6L1482.9 763H1483.3L1483.5 770.6H1484L1484.2 768H1484.7L1484.9 764.9H1485.4L1485.6 771.6H1486.2L1486.4 764.3H1486.9L1487.1 757.2H1487.5L1487.8 763.8H1488.3L1488.5 759.7H1489L1489.3 759.5H1489.8L1490 769.4H1490.5L1490.8 772.9H1491.3L1491.5 763.8H1492L1492.3 764.2H1492.8L1493 766.4H1493.5L1493.8 757.2H1494.4L1494.7 775.6H1495.3L1495.6 778.3H1496.2L1496.5 759.7H1497L1497.2 764.3H1497.9L1498.1 777.7H1498.6L1498.9 766.7H1499.4L1499.6 756.8H1500.3L1500.5 766H1500.9L1501.2 764.2H1501.6L1501.8 775H1502.3L1502.5 778.8H1503L1503.2 760.8H1503.6L1503.8 770.6H1504.5L1504.7 762.6H1505.2L1505.5 770.9H1506.1L1506.4 783.3H1506.9L1507.1 779.3H1507.8L1508 750.2H1508.4L1508.7 772.8H1509.3L1509.6 759H1510.2L1510.5 772.8H1511L1511.2 755.6H1511.7L1512 774.6H1512.5L1512.7 768.8H1513.4L1513.6 772.4H1514L1514.2 764.1H1514.8L1515 775.5H1515.7L1515.9 780.1H1516.4L1516.6 759.3H1517.1L1517.3 760H1517.8L1518 767.5H1518.6L1518.8 778.1H1519.3L1519.5 765.8H1520.1L1520.3 768.4H1520.8L1521 768.4H1521.6L1521.8 763.8H1522.2L1522.4 755.3H1522.9L1523.2 767.1H1523.8L1524.1 767.8H1524.6L1524.8 771.3H1525.2L1525.5 763.7H1525.9L1526.1 774.3H1526.5L1526.7 765H1527.4L1527.6 773.5H1528L1528.3 760.7H1528.8L1529 775H1529.4L1529.7 760.5H1530.3L1530.6 759.2H1531.2L1531.5 751.6H1531.9L1532.1 764.3H1532.5L1532.7 759H1533.1L1533.4 758H1533.9L1534.1 760.9H1534.6L1534.9 774.1H1535.3L1535.5 769.3H1535.9L1536.1 775.8H1536.7L1536.9 763H1537.6L1537.8 781.5H1538.3L1538.5 755.1H1539L1539.2 778.2H1539.7L1539.9 769H1540.5L1540.7 788.1H1541.2L1541.4 759.4H1541.8L1542.1 762.3H1542.6L1542.8 761.4H1543.2L1543.5 742H1543.9L1544.1 764.8H1544.8L1545 769.1H1545.5L1545.7 766.4H1546.3L1546.5 773.4H1547.2L1547.4 758.7H1547.9L1548.1 770.8H1548.8L1549 778.1H1549.5L1549.7 768.4H1550.2L1550.4 776.5H1551.1L1551.3 773.9H1551.9L1552.1 773.7H1552.5L1552.7 774.8H1553.2L1553.5 777.9H1554.1L1554.4 777H1554.9L1555.1 776.1H1555.6L1555.9 774.4H1556.4L1556.6 773H1557.1L1557.4 766H1557.9L1558.1 774.1 L1558.3 777L1565.8 777" stroke="#611425" stroke-width="0.75"/>
<path d="M1050.3 853.9H1143.6V829.5H1560.6V853.9H1566" stroke="#eaa2b3" stroke-width="1.5" opacity="0.5"/>
<path d="M1144.8 855V830.6H1559.4V855Z" fill="#ad6378" fill-opacity="0.86" stroke="none"/>
<path d="M1050.3 855H1144.8M1559.4 855H1566" stroke="#8c3142" stroke-width="1.3"/>
<path d="M1144.8 855.6V830.6H1559.4V855.6" stroke="#83283a" stroke-width="1.4000000000000001"/>
</g>
<g filter="url(#bl)">
<rect x="812.8" y="643.7" width="94.4" height="50" rx="1.5" fill="none" stroke="#cf3531" stroke-width="3.8"/>
<path d="M807 750.5H917.2V795.2H807" fill="none" stroke="#cf3531" stroke-width="3.5"/>
<polygon points="917.6,662.9 953.4,695.6 948.5,697.3 963,699.9 957.7,686.2 956.9,691.2 918.2,662.3" fill="#d23a38"/>
<polygon points="924.7,771.3 957,801.3 952.2,803 966.6,805.7 961.4,792 960.6,797 925.3,770.7" fill="#d23a38"/>
<text transform="translate(934.4 752) scale(1 1.035)" font-family='"Liberation Serif", "Noto Serif CJK SC", serif' font-size="50.8" font-weight="500" fill="#151515" stroke="#151515" stroke-width="0.4">测试</text>
<text transform="translate(934.4 862) scale(1 1.035)" font-family='"Liberation Serif", "Noto Serif CJK SC", serif' font-size="50.8" font-weight="500" fill="#151515" stroke="#151515" stroke-width="0.4">对照</text>
</g>
<text x="386.6" y="438.4" font-family='"Liberation Serif", "Noto Serif CJK SC", serif' font-size="51.5" fill="#1a1a1a" text-anchor="middle">(a) <tspan dy="3.4" font-weight="600">测试</tspan><tspan dy="-3.4">1</tspan></text>
<text x="386.6" y="499.4" font-family='"Liberation Serif", "Noto Serif CJK SC", serif' font-size="51.5" fill="#1a1a1a" text-anchor="middle">(a) Test 1</text>
<text x="1175.6" y="438.8" font-family='"Liberation Serif", "Noto Serif CJK SC", serif' font-size="51.5" fill="#1a1a1a" text-anchor="middle">(b) <tspan dy="3.4" font-weight="600">测试</tspan><tspan dy="-3.4">2</tspan></text>
<text x="1175.6" y="499.4" font-family='"Liberation Serif", "Noto Serif CJK SC", serif' font-size="51.5" fill="#1a1a1a" text-anchor="middle">(b) Test 2</text>
<text x="387" y="933.2" font-family='"Liberation Serif", "Noto Serif CJK SC", serif' font-size="51.5" fill="#1a1a1a" text-anchor="middle">(c) <tspan dy="3.4" font-weight="600">测试</tspan><tspan dy="-3.4">3</tspan></text>
<text x="387" y="996" font-family='"Liberation Serif", "Noto Serif CJK SC", serif' font-size="51.5" fill="#1a1a1a" text-anchor="middle">(c) Test 3</text>
<text x="1175.6" y="933.2" font-family='"Liberation Serif", "Noto Serif CJK SC", serif' font-size="51.5" fill="#1a1a1a" text-anchor="middle">(d) <tspan dy="3.4" font-weight="600">测试</tspan><tspan dy="-3.4">4</tspan></text>
<text x="1175.6" y="996" font-family='"Liberation Serif", "Noto Serif CJK SC", serif' font-size="51.5" fill="#1a1a1a" text-anchor="middle">(d) Test 4</text>
</svg></body></html>
